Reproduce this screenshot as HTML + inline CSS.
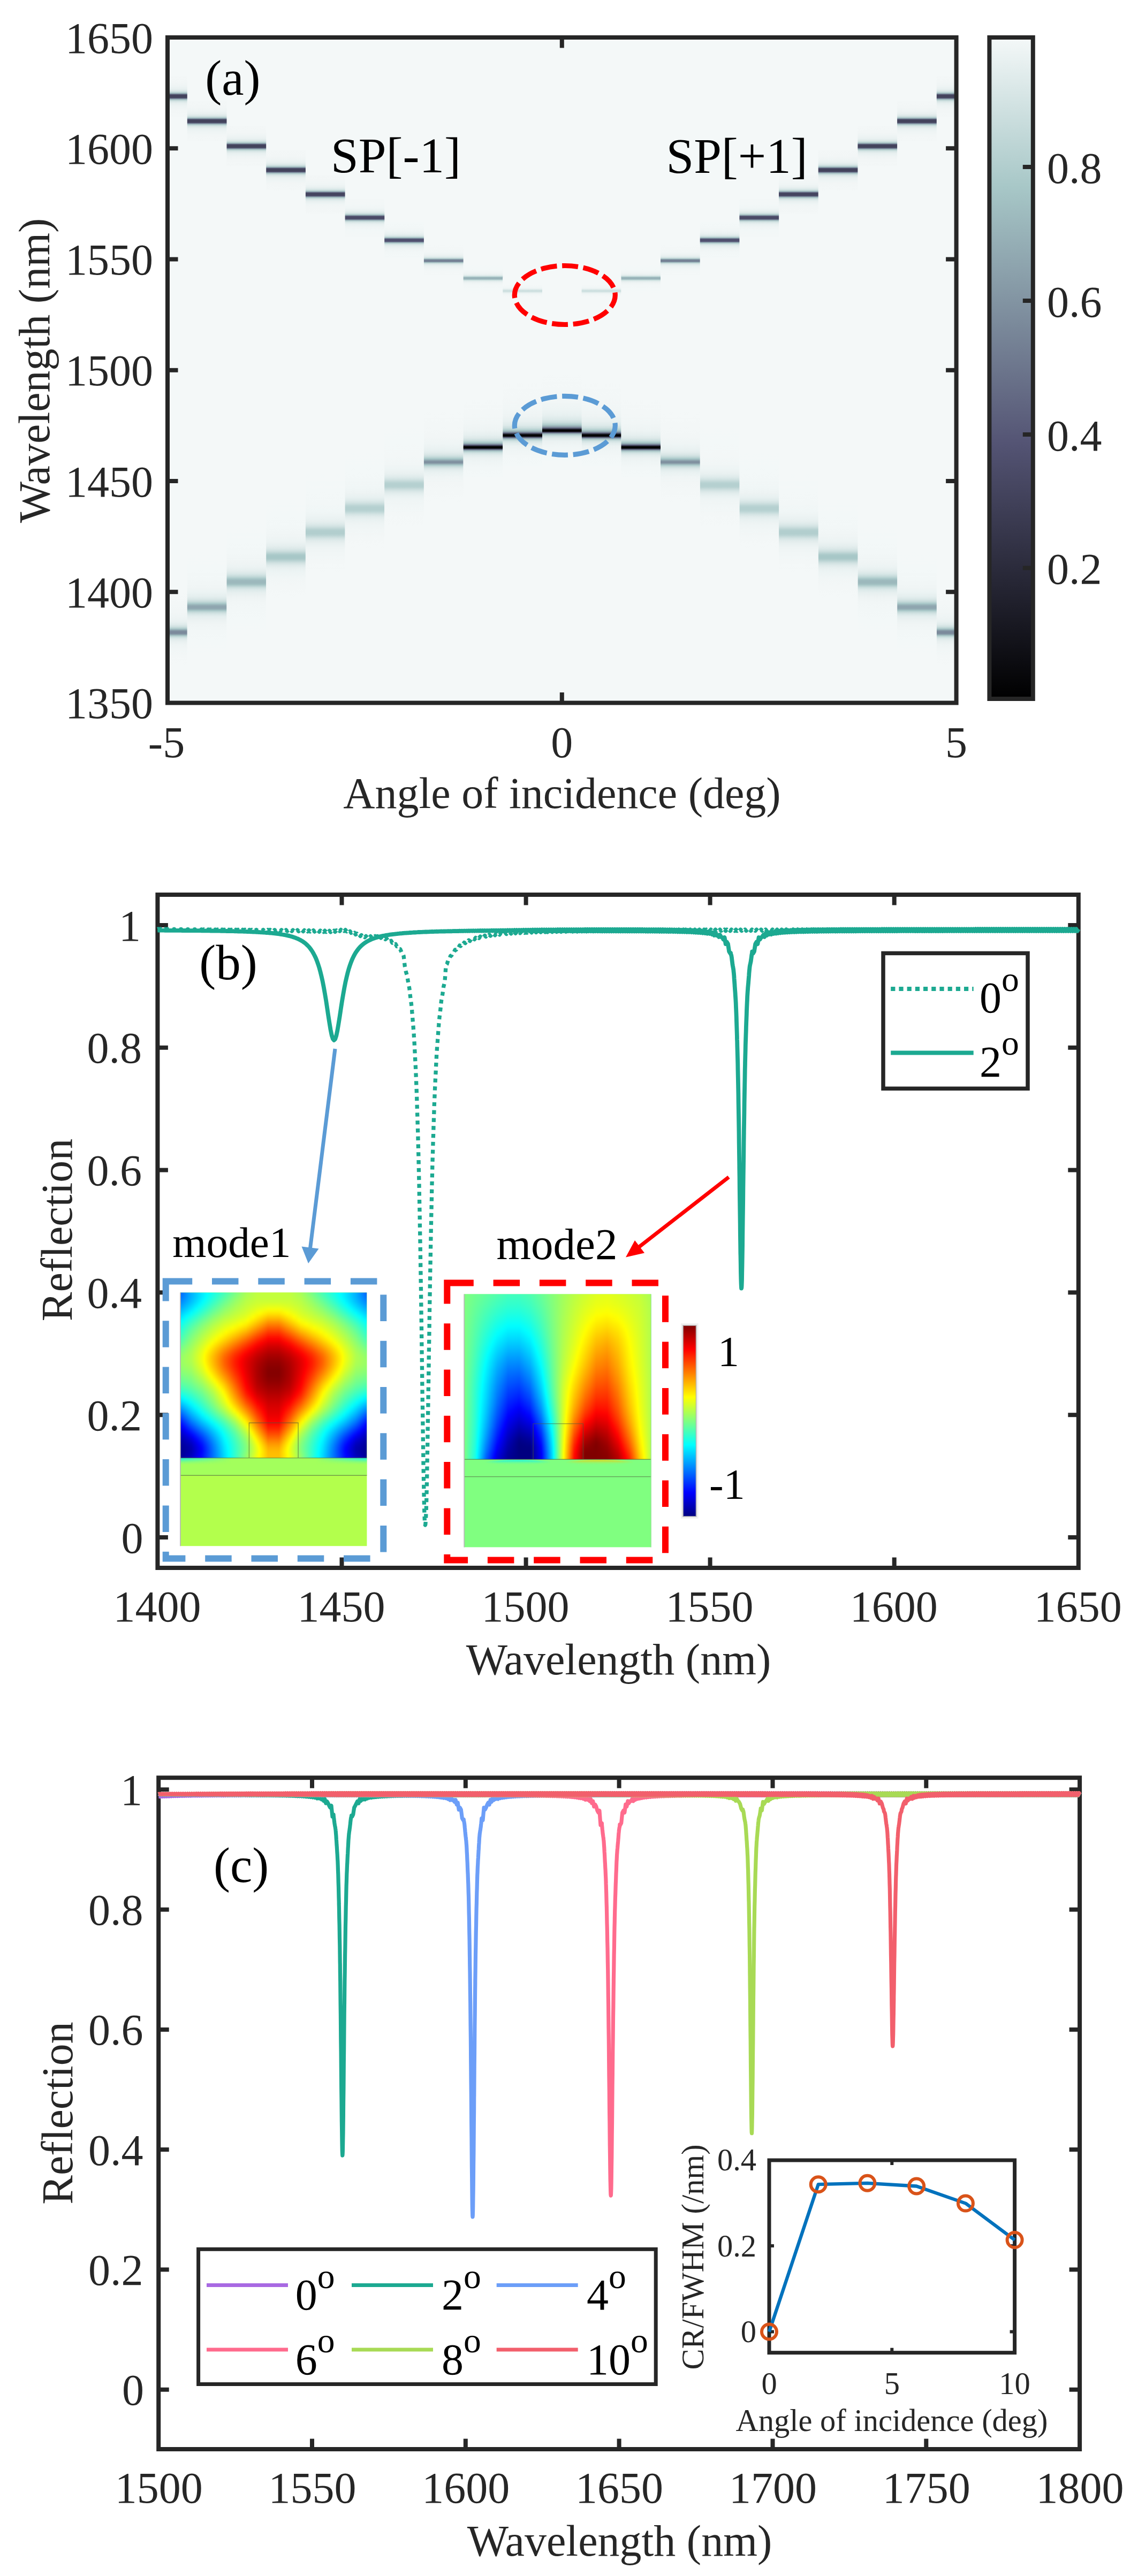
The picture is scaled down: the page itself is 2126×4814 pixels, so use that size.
<!DOCTYPE html>
<html lang="en"><head><meta charset="utf-8"><title>Figure</title>
<style>html,body{margin:0;padding:0;background:#fff}svg{display:block}text{font-family:"Liberation Serif",serif}</style></head>
<body>
<svg width="2126" height="4814" viewBox="0 0 2126 4814">
<defs>
<linearGradient id="h1" gradientUnits="userSpaceOnUse" x1="0" y1="142.2" x2="0" y2="217.8"><stop offset="0.000" stop-color="#f3f7f7"/><stop offset="0.150" stop-color="#f2f6f6"/><stop offset="0.250" stop-color="#eef4f4"/><stop offset="0.320" stop-color="#e8f0f0"/><stop offset="0.370" stop-color="#dae7e7"/><stop offset="0.405" stop-color="#bdd5d5"/><stop offset="0.430" stop-color="#95aeb5"/><stop offset="0.450" stop-color="#656c85"/><stop offset="0.465" stop-color="#454560"/><stop offset="0.477" stop-color="#43435c"/><stop offset="0.490" stop-color="#43435c"/><stop offset="0.500" stop-color="#43435c"/><stop offset="0.510" stop-color="#43435c"/><stop offset="0.522" stop-color="#43435c"/><stop offset="0.535" stop-color="#454560"/><stop offset="0.550" stop-color="#656c85"/><stop offset="0.570" stop-color="#95aeb5"/><stop offset="0.595" stop-color="#bdd5d5"/><stop offset="0.630" stop-color="#dae7e7"/><stop offset="0.680" stop-color="#e8f0f0"/><stop offset="0.750" stop-color="#eef4f4"/><stop offset="0.850" stop-color="#f2f6f6"/><stop offset="1.000" stop-color="#f3f7f7"/></linearGradient>
<linearGradient id="h2" gradientUnits="userSpaceOnUse" x1="0" y1="1105" x2="0" y2="1245"><stop offset="0.000" stop-color="#f4f8f8"/><stop offset="0.165" stop-color="#f3f7f7"/><stop offset="0.275" stop-color="#f1f6f6"/><stop offset="0.352" stop-color="#eef4f4"/><stop offset="0.407" stop-color="#e9f1f1"/><stop offset="0.446" stop-color="#deeaea"/><stop offset="0.473" stop-color="#cee0e0"/><stop offset="0.495" stop-color="#b4cfcf"/><stop offset="0.511" stop-color="#9ab5ba"/><stop offset="0.525" stop-color="#8598a5"/><stop offset="0.539" stop-color="#7b8a9b"/><stop offset="0.550" stop-color="#7b8a9b"/><stop offset="0.559" stop-color="#7b8a9b"/><stop offset="0.570" stop-color="#8294a2"/><stop offset="0.582" stop-color="#96b0b6"/><stop offset="0.595" stop-color="#b0cccc"/><stop offset="0.613" stop-color="#ccdfdf"/><stop offset="0.635" stop-color="#deeaea"/><stop offset="0.667" stop-color="#e8f0f0"/><stop offset="0.712" stop-color="#eef4f4"/><stop offset="0.775" stop-color="#f1f6f6"/><stop offset="0.865" stop-color="#f3f7f7"/><stop offset="1.000" stop-color="#f4f8f8"/></linearGradient>
<linearGradient id="h3" gradientUnits="userSpaceOnUse" x1="0" y1="188.6" x2="0" y2="264.2"><stop offset="0.000" stop-color="#f3f7f7"/><stop offset="0.150" stop-color="#f2f6f6"/><stop offset="0.250" stop-color="#eef4f4"/><stop offset="0.320" stop-color="#e8f0f0"/><stop offset="0.370" stop-color="#dae7e7"/><stop offset="0.405" stop-color="#bdd5d5"/><stop offset="0.430" stop-color="#95aeb5"/><stop offset="0.450" stop-color="#656c85"/><stop offset="0.465" stop-color="#454560"/><stop offset="0.477" stop-color="#43435c"/><stop offset="0.490" stop-color="#43435c"/><stop offset="0.500" stop-color="#43435c"/><stop offset="0.510" stop-color="#43435c"/><stop offset="0.522" stop-color="#43435c"/><stop offset="0.535" stop-color="#454560"/><stop offset="0.550" stop-color="#656c85"/><stop offset="0.570" stop-color="#95aeb5"/><stop offset="0.595" stop-color="#bdd5d5"/><stop offset="0.630" stop-color="#dae7e7"/><stop offset="0.680" stop-color="#e8f0f0"/><stop offset="0.750" stop-color="#eef4f4"/><stop offset="0.850" stop-color="#f2f6f6"/><stop offset="1.000" stop-color="#f3f7f7"/></linearGradient>
<linearGradient id="h4" gradientUnits="userSpaceOnUse" x1="0" y1="1029.8" x2="0" y2="1225.8"><stop offset="0.000" stop-color="#f4f8f8"/><stop offset="0.161" stop-color="#f3f8f8"/><stop offset="0.268" stop-color="#f2f7f7"/><stop offset="0.343" stop-color="#f0f5f5"/><stop offset="0.396" stop-color="#ebf3f3"/><stop offset="0.434" stop-color="#e4eeee"/><stop offset="0.461" stop-color="#d8e6e6"/><stop offset="0.482" stop-color="#c5dada"/><stop offset="0.498" stop-color="#adcbcb"/><stop offset="0.512" stop-color="#9ab5ba"/><stop offset="0.525" stop-color="#8fa6af"/><stop offset="0.536" stop-color="#8fa5af"/><stop offset="0.545" stop-color="#8fa6af"/><stop offset="0.557" stop-color="#99b3b9"/><stop offset="0.568" stop-color="#aac9c9"/><stop offset="0.582" stop-color="#c4d9d9"/><stop offset="0.601" stop-color="#d7e6e6"/><stop offset="0.624" stop-color="#e4eeee"/><stop offset="0.656" stop-color="#ebf2f2"/><stop offset="0.703" stop-color="#f0f5f5"/><stop offset="0.768" stop-color="#f2f7f7"/><stop offset="0.861" stop-color="#f3f8f8"/><stop offset="1.000" stop-color="#f4f8f8"/></linearGradient>
<linearGradient id="h5" gradientUnits="userSpaceOnUse" x1="0" y1="235.4" x2="0" y2="311"><stop offset="0.000" stop-color="#f3f7f7"/><stop offset="0.150" stop-color="#f2f6f6"/><stop offset="0.250" stop-color="#eef4f4"/><stop offset="0.320" stop-color="#e8f0f0"/><stop offset="0.370" stop-color="#dae7e7"/><stop offset="0.405" stop-color="#bdd5d5"/><stop offset="0.430" stop-color="#95aeb5"/><stop offset="0.450" stop-color="#656c85"/><stop offset="0.465" stop-color="#454560"/><stop offset="0.477" stop-color="#43435c"/><stop offset="0.490" stop-color="#43435c"/><stop offset="0.500" stop-color="#43435c"/><stop offset="0.510" stop-color="#43435c"/><stop offset="0.522" stop-color="#43435c"/><stop offset="0.535" stop-color="#454560"/><stop offset="0.550" stop-color="#656c85"/><stop offset="0.570" stop-color="#95aeb5"/><stop offset="0.595" stop-color="#bdd5d5"/><stop offset="0.630" stop-color="#dae7e7"/><stop offset="0.680" stop-color="#e8f0f0"/><stop offset="0.750" stop-color="#eef4f4"/><stop offset="0.850" stop-color="#f2f6f6"/><stop offset="1.000" stop-color="#f3f7f7"/></linearGradient>
<linearGradient id="h6" gradientUnits="userSpaceOnUse" x1="0" y1="977.6" x2="0" y2="1192.6"><stop offset="0.000" stop-color="#f4f8f8"/><stop offset="0.153" stop-color="#f3f8f8"/><stop offset="0.256" stop-color="#f2f7f7"/><stop offset="0.327" stop-color="#f0f5f5"/><stop offset="0.379" stop-color="#ecf3f3"/><stop offset="0.414" stop-color="#e5eeee"/><stop offset="0.440" stop-color="#d9e7e7"/><stop offset="0.460" stop-color="#c8dcdc"/><stop offset="0.476" stop-color="#b3cfcf"/><stop offset="0.489" stop-color="#a3c1c3"/><stop offset="0.501" stop-color="#9cb8bc"/><stop offset="0.512" stop-color="#9cb8bc"/><stop offset="0.521" stop-color="#9cb8bc"/><stop offset="0.534" stop-color="#a3c2c3"/><stop offset="0.546" stop-color="#b6d0d0"/><stop offset="0.560" stop-color="#cbdede"/><stop offset="0.580" stop-color="#dce9e9"/><stop offset="0.604" stop-color="#e6efef"/><stop offset="0.639" stop-color="#edf3f3"/><stop offset="0.687" stop-color="#f1f6f6"/><stop offset="0.756" stop-color="#f2f7f7"/><stop offset="0.853" stop-color="#f3f8f8"/><stop offset="1.000" stop-color="#f4f8f8"/></linearGradient>
<linearGradient id="h7" gradientUnits="userSpaceOnUse" x1="0" y1="280" x2="0" y2="355.6"><stop offset="0.000" stop-color="#f3f7f7"/><stop offset="0.150" stop-color="#f2f6f6"/><stop offset="0.250" stop-color="#eef4f4"/><stop offset="0.320" stop-color="#e8f0f0"/><stop offset="0.370" stop-color="#dae7e7"/><stop offset="0.405" stop-color="#bdd5d5"/><stop offset="0.430" stop-color="#95aeb5"/><stop offset="0.450" stop-color="#656c85"/><stop offset="0.465" stop-color="#454560"/><stop offset="0.477" stop-color="#43435c"/><stop offset="0.490" stop-color="#43435c"/><stop offset="0.500" stop-color="#43435c"/><stop offset="0.510" stop-color="#43435c"/><stop offset="0.522" stop-color="#43435c"/><stop offset="0.535" stop-color="#454560"/><stop offset="0.550" stop-color="#656c85"/><stop offset="0.570" stop-color="#95aeb5"/><stop offset="0.595" stop-color="#bdd5d5"/><stop offset="0.630" stop-color="#dae7e7"/><stop offset="0.680" stop-color="#e8f0f0"/><stop offset="0.750" stop-color="#eef4f4"/><stop offset="0.850" stop-color="#f2f6f6"/><stop offset="1.000" stop-color="#f3f7f7"/></linearGradient>
<linearGradient id="h8" gradientUnits="userSpaceOnUse" x1="0" y1="931" x2="0" y2="1151"><stop offset="0.000" stop-color="#f4f8f8"/><stop offset="0.150" stop-color="#f3f8f8"/><stop offset="0.250" stop-color="#f2f7f7"/><stop offset="0.320" stop-color="#f0f5f5"/><stop offset="0.370" stop-color="#ecf3f3"/><stop offset="0.405" stop-color="#e5eeee"/><stop offset="0.430" stop-color="#dbe8e8"/><stop offset="0.450" stop-color="#ccdede"/><stop offset="0.465" stop-color="#bcd4d4"/><stop offset="0.477" stop-color="#aecccc"/><stop offset="0.490" stop-color="#a7c7c7"/><stop offset="0.500" stop-color="#a7c7c7"/><stop offset="0.510" stop-color="#a7c7c7"/><stop offset="0.522" stop-color="#b0cccc"/><stop offset="0.535" stop-color="#bfd6d6"/><stop offset="0.550" stop-color="#d0e1e1"/><stop offset="0.570" stop-color="#deeaea"/><stop offset="0.595" stop-color="#e8f0f0"/><stop offset="0.630" stop-color="#edf4f4"/><stop offset="0.680" stop-color="#f1f6f6"/><stop offset="0.750" stop-color="#f3f7f7"/><stop offset="0.850" stop-color="#f4f8f8"/><stop offset="1.000" stop-color="#f4f8f8"/></linearGradient>
<linearGradient id="h9" gradientUnits="userSpaceOnUse" x1="0" y1="326.8" x2="0" y2="399.6"><stop offset="0.000" stop-color="#f3f7f7"/><stop offset="0.150" stop-color="#f2f6f6"/><stop offset="0.250" stop-color="#eff5f5"/><stop offset="0.320" stop-color="#e8f0f0"/><stop offset="0.370" stop-color="#dae8e8"/><stop offset="0.405" stop-color="#bfd6d6"/><stop offset="0.430" stop-color="#97b0b7"/><stop offset="0.450" stop-color="#686f88"/><stop offset="0.465" stop-color="#484863"/><stop offset="0.478" stop-color="#454560"/><stop offset="0.490" stop-color="#454560"/><stop offset="0.500" stop-color="#454560"/><stop offset="0.510" stop-color="#454560"/><stop offset="0.522" stop-color="#454560"/><stop offset="0.535" stop-color="#484863"/><stop offset="0.550" stop-color="#686f88"/><stop offset="0.570" stop-color="#97b0b7"/><stop offset="0.595" stop-color="#bfd6d6"/><stop offset="0.630" stop-color="#dae8e8"/><stop offset="0.680" stop-color="#e8f0f0"/><stop offset="0.750" stop-color="#eff5f5"/><stop offset="0.850" stop-color="#f2f6f6"/><stop offset="1.000" stop-color="#f3f7f7"/></linearGradient>
<linearGradient id="h10" gradientUnits="userSpaceOnUse" x1="0" y1="885" x2="0" y2="1105"><stop offset="0.000" stop-color="#f4f8f8"/><stop offset="0.150" stop-color="#f3f8f8"/><stop offset="0.250" stop-color="#f2f7f7"/><stop offset="0.320" stop-color="#f0f6f6"/><stop offset="0.370" stop-color="#ecf3f3"/><stop offset="0.405" stop-color="#e6efef"/><stop offset="0.430" stop-color="#dde9e9"/><stop offset="0.450" stop-color="#d0e1e1"/><stop offset="0.465" stop-color="#c2d8d8"/><stop offset="0.477" stop-color="#b7d1d1"/><stop offset="0.490" stop-color="#b2cece"/><stop offset="0.500" stop-color="#b2cece"/><stop offset="0.510" stop-color="#b2cece"/><stop offset="0.522" stop-color="#b8d2d2"/><stop offset="0.535" stop-color="#c5dada"/><stop offset="0.550" stop-color="#d3e3e3"/><stop offset="0.570" stop-color="#e0ebeb"/><stop offset="0.595" stop-color="#e8f0f0"/><stop offset="0.630" stop-color="#eef4f4"/><stop offset="0.680" stop-color="#f1f6f6"/><stop offset="0.750" stop-color="#f3f7f7"/><stop offset="0.850" stop-color="#f4f8f8"/><stop offset="1.000" stop-color="#f4f8f8"/></linearGradient>
<linearGradient id="h11" gradientUnits="userSpaceOnUse" x1="0" y1="371.8" x2="0" y2="441.8"><stop offset="0.000" stop-color="#f3f7f7"/><stop offset="0.150" stop-color="#f2f7f7"/><stop offset="0.250" stop-color="#eff5f5"/><stop offset="0.320" stop-color="#e9f1f1"/><stop offset="0.370" stop-color="#dce9e9"/><stop offset="0.405" stop-color="#c2d8d8"/><stop offset="0.430" stop-color="#9cb7bb"/><stop offset="0.450" stop-color="#6f7a8f"/><stop offset="0.465" stop-color="#4e4e6c"/><stop offset="0.477" stop-color="#4a4a66"/><stop offset="0.490" stop-color="#4a4a66"/><stop offset="0.500" stop-color="#4a4a66"/><stop offset="0.510" stop-color="#4a4a66"/><stop offset="0.523" stop-color="#4a4a66"/><stop offset="0.535" stop-color="#4e4e6c"/><stop offset="0.550" stop-color="#6f7a8f"/><stop offset="0.570" stop-color="#9cb7bb"/><stop offset="0.595" stop-color="#c2d8d8"/><stop offset="0.630" stop-color="#dce9e9"/><stop offset="0.680" stop-color="#e9f1f1"/><stop offset="0.750" stop-color="#eff5f5"/><stop offset="0.850" stop-color="#f2f7f7"/><stop offset="1.000" stop-color="#f3f7f7"/></linearGradient>
<linearGradient id="h12" gradientUnits="userSpaceOnUse" x1="0" y1="840.5" x2="0" y2="1060.5"><stop offset="0.000" stop-color="#f4f8f8"/><stop offset="0.150" stop-color="#f3f8f8"/><stop offset="0.250" stop-color="#f2f7f7"/><stop offset="0.320" stop-color="#f0f6f6"/><stop offset="0.370" stop-color="#edf3f3"/><stop offset="0.405" stop-color="#e7f0f0"/><stop offset="0.430" stop-color="#deeaea"/><stop offset="0.450" stop-color="#d2e2e2"/><stop offset="0.465" stop-color="#c5dada"/><stop offset="0.477" stop-color="#bad3d3"/><stop offset="0.490" stop-color="#b5d0d0"/><stop offset="0.500" stop-color="#b5d0d0"/><stop offset="0.510" stop-color="#b5d0d0"/><stop offset="0.522" stop-color="#bbd4d4"/><stop offset="0.535" stop-color="#c7dcdc"/><stop offset="0.550" stop-color="#d5e4e4"/><stop offset="0.570" stop-color="#e1ecec"/><stop offset="0.595" stop-color="#e9f1f1"/><stop offset="0.630" stop-color="#eef4f4"/><stop offset="0.680" stop-color="#f1f6f6"/><stop offset="0.750" stop-color="#f3f7f7"/><stop offset="0.850" stop-color="#f4f8f8"/><stop offset="1.000" stop-color="#f4f8f8"/></linearGradient>
<linearGradient id="h13" gradientUnits="userSpaceOnUse" x1="0" y1="415.4" x2="0" y2="482.6"><stop offset="0.000" stop-color="#f3f8f8"/><stop offset="0.150" stop-color="#f2f7f7"/><stop offset="0.250" stop-color="#eff5f5"/><stop offset="0.320" stop-color="#e9f1f1"/><stop offset="0.370" stop-color="#deeaea"/><stop offset="0.405" stop-color="#c6dbdb"/><stop offset="0.430" stop-color="#a1bfc1"/><stop offset="0.450" stop-color="#798799"/><stop offset="0.465" stop-color="#575877"/><stop offset="0.477" stop-color="#50506f"/><stop offset="0.490" stop-color="#50506f"/><stop offset="0.500" stop-color="#50506f"/><stop offset="0.510" stop-color="#50506f"/><stop offset="0.522" stop-color="#50506f"/><stop offset="0.535" stop-color="#575877"/><stop offset="0.550" stop-color="#798799"/><stop offset="0.570" stop-color="#a1bfc1"/><stop offset="0.595" stop-color="#c6dbdb"/><stop offset="0.630" stop-color="#deeaea"/><stop offset="0.680" stop-color="#e9f1f1"/><stop offset="0.750" stop-color="#eff5f5"/><stop offset="0.850" stop-color="#f2f7f7"/><stop offset="1.000" stop-color="#f3f8f8"/></linearGradient>
<linearGradient id="h14" gradientUnits="userSpaceOnUse" x1="0" y1="796.5" x2="0" y2="1016.5"><stop offset="0.000" stop-color="#f4f8f8"/><stop offset="0.150" stop-color="#f3f8f8"/><stop offset="0.250" stop-color="#f3f7f7"/><stop offset="0.320" stop-color="#f1f6f6"/><stop offset="0.370" stop-color="#edf4f4"/><stop offset="0.405" stop-color="#e8f0f0"/><stop offset="0.430" stop-color="#dfebeb"/><stop offset="0.450" stop-color="#d3e3e3"/><stop offset="0.465" stop-color="#c6dbdb"/><stop offset="0.477" stop-color="#bbd4d4"/><stop offset="0.490" stop-color="#b5d0d0"/><stop offset="0.500" stop-color="#b5d0d0"/><stop offset="0.510" stop-color="#b5d0d0"/><stop offset="0.522" stop-color="#bcd4d4"/><stop offset="0.535" stop-color="#c9dddd"/><stop offset="0.550" stop-color="#d7e5e5"/><stop offset="0.570" stop-color="#e2eded"/><stop offset="0.595" stop-color="#eaf2f2"/><stop offset="0.630" stop-color="#eff5f5"/><stop offset="0.680" stop-color="#f1f6f6"/><stop offset="0.750" stop-color="#f3f7f7"/><stop offset="0.850" stop-color="#f4f8f8"/><stop offset="1.000" stop-color="#f4f8f8"/></linearGradient>
<linearGradient id="h15" gradientUnits="userSpaceOnUse" x1="0" y1="456.4" x2="0" y2="518"><stop offset="0.000" stop-color="#f4f8f8"/><stop offset="0.150" stop-color="#f3f7f7"/><stop offset="0.250" stop-color="#f1f6f6"/><stop offset="0.320" stop-color="#edf3f3"/><stop offset="0.370" stop-color="#e5efef"/><stop offset="0.405" stop-color="#d7e5e5"/><stop offset="0.430" stop-color="#bed5d5"/><stop offset="0.450" stop-color="#9cb7bc"/><stop offset="0.465" stop-color="#8193a1"/><stop offset="0.478" stop-color="#748194"/><stop offset="0.490" stop-color="#748094"/><stop offset="0.500" stop-color="#748094"/><stop offset="0.510" stop-color="#748094"/><stop offset="0.523" stop-color="#748194"/><stop offset="0.535" stop-color="#8193a1"/><stop offset="0.550" stop-color="#9cb7bc"/><stop offset="0.570" stop-color="#bed5d5"/><stop offset="0.595" stop-color="#d7e5e5"/><stop offset="0.630" stop-color="#e5efef"/><stop offset="0.680" stop-color="#edf3f3"/><stop offset="0.750" stop-color="#f1f6f6"/><stop offset="0.850" stop-color="#f3f7f7"/><stop offset="1.000" stop-color="#f4f8f8"/></linearGradient>
<linearGradient id="h16" gradientUnits="userSpaceOnUse" x1="0" y1="765.8" x2="0" y2="940.8"><stop offset="0.000" stop-color="#f4f8f8"/><stop offset="0.168" stop-color="#f3f7f7"/><stop offset="0.280" stop-color="#f2f6f6"/><stop offset="0.358" stop-color="#eff5f5"/><stop offset="0.414" stop-color="#eaf2f2"/><stop offset="0.454" stop-color="#e3eded"/><stop offset="0.482" stop-color="#d7e5e5"/><stop offset="0.504" stop-color="#c4d9d9"/><stop offset="0.521" stop-color="#abcaca"/><stop offset="0.535" stop-color="#97b1b7"/><stop offset="0.549" stop-color="#8496a3"/><stop offset="0.560" stop-color="#7d8d9d"/><stop offset="0.569" stop-color="#8496a3"/><stop offset="0.580" stop-color="#97b1b7"/><stop offset="0.591" stop-color="#abcaca"/><stop offset="0.604" stop-color="#c4d9d9"/><stop offset="0.622" stop-color="#d7e5e5"/><stop offset="0.644" stop-color="#e3eded"/><stop offset="0.674" stop-color="#eaf2f2"/><stop offset="0.718" stop-color="#eff5f5"/><stop offset="0.780" stop-color="#f2f6f6"/><stop offset="0.868" stop-color="#f3f7f7"/><stop offset="1.000" stop-color="#f4f8f8"/></linearGradient>
<linearGradient id="h17" gradientUnits="userSpaceOnUse" x1="0" y1="492" x2="0" y2="548"><stop offset="0.000" stop-color="#f4f8f8"/><stop offset="0.150" stop-color="#f3f8f8"/><stop offset="0.250" stop-color="#f2f7f7"/><stop offset="0.320" stop-color="#f0f5f5"/><stop offset="0.370" stop-color="#ebf2f2"/><stop offset="0.405" stop-color="#e1ecec"/><stop offset="0.430" stop-color="#d1e2e2"/><stop offset="0.450" stop-color="#b6d1d1"/><stop offset="0.465" stop-color="#a0bdc0"/><stop offset="0.477" stop-color="#98b2b8"/><stop offset="0.490" stop-color="#98b2b8"/><stop offset="0.500" stop-color="#98b2b8"/><stop offset="0.510" stop-color="#98b2b8"/><stop offset="0.523" stop-color="#98b2b8"/><stop offset="0.535" stop-color="#a0bdc0"/><stop offset="0.550" stop-color="#b6d1d1"/><stop offset="0.570" stop-color="#d1e2e2"/><stop offset="0.595" stop-color="#e1ecec"/><stop offset="0.630" stop-color="#ebf2f2"/><stop offset="0.680" stop-color="#f0f5f5"/><stop offset="0.750" stop-color="#f2f7f7"/><stop offset="0.850" stop-color="#f3f8f8"/><stop offset="1.000" stop-color="#f4f8f8"/></linearGradient>
<linearGradient id="h18" gradientUnits="userSpaceOnUse" x1="0" y1="745" x2="0" y2="892"><stop offset="0.000" stop-color="#f4f8f8"/><stop offset="0.186" stop-color="#f3f7f7"/><stop offset="0.310" stop-color="#f1f6f6"/><stop offset="0.396" stop-color="#eef4f4"/><stop offset="0.458" stop-color="#e7f0f0"/><stop offset="0.501" stop-color="#dde9e9"/><stop offset="0.532" stop-color="#cbdede"/><stop offset="0.557" stop-color="#abcaca"/><stop offset="0.576" stop-color="#8ba0ab"/><stop offset="0.591" stop-color="#595b79"/><stop offset="0.607" stop-color="#0c0c10"/><stop offset="0.619" stop-color="#000000"/><stop offset="0.627" stop-color="#000000"/><stop offset="0.636" stop-color="#292938"/><stop offset="0.646" stop-color="#626882"/><stop offset="0.657" stop-color="#91a8b1"/><stop offset="0.672" stop-color="#b5d0d0"/><stop offset="0.691" stop-color="#d1e2e2"/><stop offset="0.718" stop-color="#e1ecec"/><stop offset="0.756" stop-color="#ebf2f2"/><stop offset="0.810" stop-color="#eff5f5"/><stop offset="0.886" stop-color="#f2f7f7"/><stop offset="1.000" stop-color="#f3f8f8"/></linearGradient>
<linearGradient id="h19" gradientUnits="userSpaceOnUse" x1="0" y1="518.5" x2="0" y2="568.9"><stop offset="0.000" stop-color="#f4f8f8"/><stop offset="0.150" stop-color="#f4f8f8"/><stop offset="0.250" stop-color="#f4f8f8"/><stop offset="0.320" stop-color="#f3f7f7"/><stop offset="0.370" stop-color="#f1f6f6"/><stop offset="0.405" stop-color="#edf4f4"/><stop offset="0.430" stop-color="#e8f0f0"/><stop offset="0.450" stop-color="#deeaea"/><stop offset="0.465" stop-color="#d4e4e4"/><stop offset="0.477" stop-color="#cee0e0"/><stop offset="0.490" stop-color="#cee0e0"/><stop offset="0.500" stop-color="#cee0e0"/><stop offset="0.510" stop-color="#cee0e0"/><stop offset="0.522" stop-color="#cee0e0"/><stop offset="0.535" stop-color="#d4e4e4"/><stop offset="0.550" stop-color="#deeaea"/><stop offset="0.570" stop-color="#e8f0f0"/><stop offset="0.595" stop-color="#edf4f4"/><stop offset="0.630" stop-color="#f1f6f6"/><stop offset="0.680" stop-color="#f3f7f7"/><stop offset="0.750" stop-color="#f4f8f8"/><stop offset="0.850" stop-color="#f4f8f8"/><stop offset="1.000" stop-color="#f4f8f8"/></linearGradient>
<linearGradient id="h20" gradientUnits="userSpaceOnUse" x1="0" y1="712.9" x2="0" y2="869.7"><stop offset="0.000" stop-color="#f4f8f8"/><stop offset="0.193" stop-color="#f3f7f7"/><stop offset="0.321" stop-color="#f1f6f6"/><stop offset="0.411" stop-color="#eef4f4"/><stop offset="0.476" stop-color="#e8f0f0"/><stop offset="0.521" stop-color="#deeaea"/><stop offset="0.553" stop-color="#cddfdf"/><stop offset="0.579" stop-color="#b0cdcd"/><stop offset="0.598" stop-color="#91a8b0"/><stop offset="0.614" stop-color="#626882"/><stop offset="0.630" stop-color="#111118"/><stop offset="0.643" stop-color="#000000"/><stop offset="0.650" stop-color="#000000"/><stop offset="0.659" stop-color="#292938"/><stop offset="0.668" stop-color="#626882"/><stop offset="0.679" stop-color="#91a8b1"/><stop offset="0.693" stop-color="#b5d0d0"/><stop offset="0.711" stop-color="#d1e2e2"/><stop offset="0.736" stop-color="#e1ecec"/><stop offset="0.771" stop-color="#ebf2f2"/><stop offset="0.821" stop-color="#eff5f5"/><stop offset="0.893" stop-color="#f2f7f7"/><stop offset="1.000" stop-color="#f3f8f8"/></linearGradient>
<linearGradient id="h21" gradientUnits="userSpaceOnUse" x1="0" y1="694.7" x2="0" y2="860.7"><stop offset="0.000" stop-color="#f4f8f8"/><stop offset="0.199" stop-color="#f3f7f7"/><stop offset="0.331" stop-color="#f1f6f6"/><stop offset="0.424" stop-color="#edf4f4"/><stop offset="0.490" stop-color="#e7f0f0"/><stop offset="0.537" stop-color="#dce9e9"/><stop offset="0.570" stop-color="#cbdede"/><stop offset="0.596" stop-color="#afcccc"/><stop offset="0.616" stop-color="#92a9b1"/><stop offset="0.633" stop-color="#686f88"/><stop offset="0.649" stop-color="#16161f"/><stop offset="0.663" stop-color="#000000"/><stop offset="0.669" stop-color="#000000"/><stop offset="0.678" stop-color="#292938"/><stop offset="0.686" stop-color="#626882"/><stop offset="0.696" stop-color="#91a8b1"/><stop offset="0.710" stop-color="#b5d0d0"/><stop offset="0.727" stop-color="#d1e2e2"/><stop offset="0.750" stop-color="#e1ecec"/><stop offset="0.784" stop-color="#ebf2f2"/><stop offset="0.831" stop-color="#eff5f5"/><stop offset="0.899" stop-color="#f2f7f7"/><stop offset="1.000" stop-color="#f3f8f8"/></linearGradient>
<linearGradient id="cb" x1="0" y1="1" x2="0" y2="0"><stop offset="0.0000" stop-color="#000000"/><stop offset="0.3866" stop-color="#545474"/><stop offset="0.7732" stop-color="#a7c7c7"/><stop offset="1.0000" stop-color="#f4f8f8"/></linearGradient>
<filter id="vb" color-interpolation-filters="sRGB" x="0" y="-5%" width="100%" height="110%"><feGaussianBlur stdDeviation="0 3.2"/></filter>
<clipPath id="cla"><rect x="336.7" y="2415.5" width="348.7" height="309.1"/></clipPath>
<linearGradient id="fa0"><stop offset="0" stop-color="#0061ff"/><stop offset="0.022" stop-color="#0080ff"/><stop offset="0.059" stop-color="#00b2ff"/><stop offset="0.118" stop-color="#00eaff"/><stop offset="0.146" stop-color="#00ffff"/><stop offset="0.176" stop-color="#16ffe9"/><stop offset="0.235" stop-color="#41ffbe"/><stop offset="0.294" stop-color="#74ff8b"/><stop offset="0.308" stop-color="#80ff80"/><stop offset="0.353" stop-color="#a5ff5a"/><stop offset="0.412" stop-color="#c0ff3f"/><stop offset="0.471" stop-color="#c7ff38"/><stop offset="0.529" stop-color="#c7ff38"/><stop offset="0.588" stop-color="#c0ff3f"/><stop offset="0.647" stop-color="#a5ff5a"/><stop offset="0.692" stop-color="#80ff80"/><stop offset="0.706" stop-color="#74ff8b"/><stop offset="0.765" stop-color="#41ffbe"/><stop offset="0.824" stop-color="#16ffe9"/><stop offset="0.854" stop-color="#00ffff"/><stop offset="0.882" stop-color="#00eaff"/><stop offset="0.941" stop-color="#00b2ff"/><stop offset="0.978" stop-color="#0080ff"/><stop offset="1" stop-color="#0061ff"/></linearGradient>
<linearGradient id="fa1"><stop offset="0" stop-color="#0061ff"/><stop offset="0.022" stop-color="#0080ff"/><stop offset="0.059" stop-color="#00b2ff"/><stop offset="0.118" stop-color="#00eaff"/><stop offset="0.146" stop-color="#00ffff"/><stop offset="0.176" stop-color="#16ffe9"/><stop offset="0.235" stop-color="#41ffbe"/><stop offset="0.294" stop-color="#74ff8b"/><stop offset="0.308" stop-color="#80ff80"/><stop offset="0.353" stop-color="#a5ff5a"/><stop offset="0.412" stop-color="#c0ff3f"/><stop offset="0.471" stop-color="#c7ff38"/><stop offset="0.529" stop-color="#c7ff38"/><stop offset="0.588" stop-color="#c0ff3f"/><stop offset="0.647" stop-color="#a5ff5a"/><stop offset="0.692" stop-color="#80ff80"/><stop offset="0.706" stop-color="#74ff8b"/><stop offset="0.765" stop-color="#41ffbe"/><stop offset="0.824" stop-color="#16ffe9"/><stop offset="0.854" stop-color="#00ffff"/><stop offset="0.882" stop-color="#00eaff"/><stop offset="0.941" stop-color="#00b2ff"/><stop offset="0.978" stop-color="#0080ff"/><stop offset="1" stop-color="#0061ff"/></linearGradient>
<linearGradient id="fa2"><stop offset="0" stop-color="#0066ff"/><stop offset="0.02" stop-color="#0080ff"/><stop offset="0.059" stop-color="#00b1ff"/><stop offset="0.118" stop-color="#00eaff"/><stop offset="0.144" stop-color="#00ffff"/><stop offset="0.176" stop-color="#1affe5"/><stop offset="0.235" stop-color="#49ffb6"/><stop offset="0.294" stop-color="#7cff83"/><stop offset="0.299" stop-color="#80ff80"/><stop offset="0.353" stop-color="#aaff55"/><stop offset="0.412" stop-color="#c0ff3f"/><stop offset="0.471" stop-color="#c3ff3c"/><stop offset="0.529" stop-color="#c3ff3c"/><stop offset="0.588" stop-color="#c0ff3f"/><stop offset="0.647" stop-color="#aaff55"/><stop offset="0.701" stop-color="#80ff80"/><stop offset="0.706" stop-color="#7cff83"/><stop offset="0.765" stop-color="#49ffb6"/><stop offset="0.824" stop-color="#1affe5"/><stop offset="0.856" stop-color="#00ffff"/><stop offset="0.882" stop-color="#00eaff"/><stop offset="0.941" stop-color="#00b1ff"/><stop offset="0.98" stop-color="#0080ff"/><stop offset="1" stop-color="#0066ff"/></linearGradient>
<linearGradient id="fa3"><stop offset="0" stop-color="#0073ff"/><stop offset="0.011" stop-color="#0080ff"/><stop offset="0.059" stop-color="#00b5ff"/><stop offset="0.118" stop-color="#00efff"/><stop offset="0.135" stop-color="#00ffff"/><stop offset="0.176" stop-color="#26ffd9"/><stop offset="0.235" stop-color="#59ffa6"/><stop offset="0.281" stop-color="#80ff80"/><stop offset="0.294" stop-color="#8bff74"/><stop offset="0.353" stop-color="#b2ff4d"/><stop offset="0.412" stop-color="#c3ff3c"/><stop offset="0.471" stop-color="#c3ff3c"/><stop offset="0.529" stop-color="#c3ff3c"/><stop offset="0.588" stop-color="#c3ff3c"/><stop offset="0.647" stop-color="#b2ff4d"/><stop offset="0.706" stop-color="#8bff74"/><stop offset="0.719" stop-color="#80ff80"/><stop offset="0.765" stop-color="#59ffa6"/><stop offset="0.824" stop-color="#26ffd9"/><stop offset="0.865" stop-color="#00ffff"/><stop offset="0.882" stop-color="#00efff"/><stop offset="0.941" stop-color="#00b5ff"/><stop offset="0.989" stop-color="#0080ff"/><stop offset="1" stop-color="#0073ff"/></linearGradient>
<linearGradient id="fa4"><stop offset="0" stop-color="#0085ff"/><stop offset="0.059" stop-color="#00c0ff"/><stop offset="0.118" stop-color="#00fcff"/><stop offset="0.121" stop-color="#00ffff"/><stop offset="0.176" stop-color="#35ffca"/><stop offset="0.235" stop-color="#6aff95"/><stop offset="0.263" stop-color="#80ff80"/><stop offset="0.294" stop-color="#98ff67"/><stop offset="0.353" stop-color="#baff45"/><stop offset="0.412" stop-color="#caff35"/><stop offset="0.471" stop-color="#cdff32"/><stop offset="0.529" stop-color="#cdff32"/><stop offset="0.588" stop-color="#caff35"/><stop offset="0.647" stop-color="#baff45"/><stop offset="0.706" stop-color="#98ff67"/><stop offset="0.737" stop-color="#80ff80"/><stop offset="0.765" stop-color="#6aff95"/><stop offset="0.824" stop-color="#35ffca"/><stop offset="0.879" stop-color="#00ffff"/><stop offset="0.882" stop-color="#00fcff"/><stop offset="0.941" stop-color="#00c0ff"/><stop offset="1" stop-color="#0085ff"/></linearGradient>
<linearGradient id="fa5"><stop offset="0" stop-color="#0099ff"/><stop offset="0.059" stop-color="#00d2ff"/><stop offset="0.104" stop-color="#00ffff"/><stop offset="0.118" stop-color="#0efff1"/><stop offset="0.176" stop-color="#48ffb7"/><stop offset="0.235" stop-color="#7bff84"/><stop offset="0.242" stop-color="#80ff80"/><stop offset="0.294" stop-color="#a4ff5b"/><stop offset="0.353" stop-color="#c2ff3d"/><stop offset="0.412" stop-color="#d5ff2a"/><stop offset="0.471" stop-color="#dfff20"/><stop offset="0.529" stop-color="#dfff20"/><stop offset="0.588" stop-color="#d5ff2a"/><stop offset="0.647" stop-color="#c2ff3d"/><stop offset="0.706" stop-color="#a4ff5b"/><stop offset="0.758" stop-color="#80ff80"/><stop offset="0.765" stop-color="#7bff84"/><stop offset="0.824" stop-color="#48ffb7"/><stop offset="0.882" stop-color="#0efff1"/><stop offset="0.896" stop-color="#00ffff"/><stop offset="0.941" stop-color="#00d2ff"/><stop offset="1" stop-color="#0099ff"/></linearGradient>
<linearGradient id="fa6"><stop offset="0" stop-color="#00b0ff"/><stop offset="0.059" stop-color="#00e7ff"/><stop offset="0.083" stop-color="#00ffff"/><stop offset="0.118" stop-color="#23ffdc"/><stop offset="0.176" stop-color="#5cffa3"/><stop offset="0.22" stop-color="#80ff80"/><stop offset="0.235" stop-color="#8dff72"/><stop offset="0.294" stop-color="#b0ff4f"/><stop offset="0.353" stop-color="#cbff34"/><stop offset="0.412" stop-color="#e4ff1b"/><stop offset="0.471" stop-color="#f8ff07"/><stop offset="0.529" stop-color="#f8ff07"/><stop offset="0.588" stop-color="#e4ff1b"/><stop offset="0.647" stop-color="#cbff34"/><stop offset="0.706" stop-color="#b0ff4f"/><stop offset="0.765" stop-color="#8dff72"/><stop offset="0.78" stop-color="#80ff80"/><stop offset="0.824" stop-color="#5cffa3"/><stop offset="0.882" stop-color="#23ffdc"/><stop offset="0.917" stop-color="#00ffff"/><stop offset="0.941" stop-color="#00e7ff"/><stop offset="1" stop-color="#00b0ff"/></linearGradient>
<linearGradient id="fa7"><stop offset="0" stop-color="#00c8ff"/><stop offset="0.059" stop-color="#00ffff"/><stop offset="0.059" stop-color="#00ffff"/><stop offset="0.118" stop-color="#3affc5"/><stop offset="0.176" stop-color="#71ff8e"/><stop offset="0.195" stop-color="#80ff80"/><stop offset="0.235" stop-color="#9eff61"/><stop offset="0.294" stop-color="#bdff42"/><stop offset="0.353" stop-color="#d6ff29"/><stop offset="0.412" stop-color="#f7ff08"/><stop offset="0.427" stop-color="#ffff00"/><stop offset="0.471" stop-color="#ffe800"/><stop offset="0.529" stop-color="#ffe800"/><stop offset="0.573" stop-color="#ffff00"/><stop offset="0.588" stop-color="#f7ff08"/><stop offset="0.647" stop-color="#d6ff29"/><stop offset="0.706" stop-color="#bdff42"/><stop offset="0.765" stop-color="#9eff61"/><stop offset="0.805" stop-color="#80ff80"/><stop offset="0.824" stop-color="#71ff8e"/><stop offset="0.882" stop-color="#3affc5"/><stop offset="0.941" stop-color="#00ffff"/><stop offset="0.941" stop-color="#00ffff"/><stop offset="1" stop-color="#00c8ff"/></linearGradient>
<linearGradient id="fa8"><stop offset="0" stop-color="#00dfff"/><stop offset="0.033" stop-color="#00ffff"/><stop offset="0.059" stop-color="#19ffe6"/><stop offset="0.118" stop-color="#52ffad"/><stop offset="0.169" stop-color="#80ff80"/><stop offset="0.176" stop-color="#87ff78"/><stop offset="0.235" stop-color="#b0ff4f"/><stop offset="0.294" stop-color="#cbff34"/><stop offset="0.353" stop-color="#e4ff1b"/><stop offset="0.391" stop-color="#ffff00"/><stop offset="0.412" stop-color="#fff000"/><stop offset="0.471" stop-color="#ffc700"/><stop offset="0.529" stop-color="#ffc700"/><stop offset="0.588" stop-color="#fff000"/><stop offset="0.609" stop-color="#ffff00"/><stop offset="0.647" stop-color="#e4ff1b"/><stop offset="0.706" stop-color="#cbff34"/><stop offset="0.765" stop-color="#b0ff4f"/><stop offset="0.824" stop-color="#87ff78"/><stop offset="0.831" stop-color="#80ff80"/><stop offset="0.882" stop-color="#52ffad"/><stop offset="0.941" stop-color="#19ffe6"/><stop offset="0.967" stop-color="#00ffff"/><stop offset="1" stop-color="#00dfff"/></linearGradient>
<linearGradient id="fa9"><stop offset="0" stop-color="#00f6ff"/><stop offset="0.009" stop-color="#00ffff"/><stop offset="0.059" stop-color="#31ffce"/><stop offset="0.118" stop-color="#69ff96"/><stop offset="0.144" stop-color="#80ff80"/><stop offset="0.176" stop-color="#9bff64"/><stop offset="0.235" stop-color="#c2ff3d"/><stop offset="0.294" stop-color="#dbff24"/><stop offset="0.353" stop-color="#f7ff08"/><stop offset="0.363" stop-color="#ffff00"/><stop offset="0.412" stop-color="#ffd600"/><stop offset="0.471" stop-color="#ffa300"/><stop offset="0.529" stop-color="#ffa300"/><stop offset="0.588" stop-color="#ffd600"/><stop offset="0.637" stop-color="#ffff00"/><stop offset="0.647" stop-color="#f7ff08"/><stop offset="0.706" stop-color="#dbff24"/><stop offset="0.765" stop-color="#c2ff3d"/><stop offset="0.824" stop-color="#9bff64"/><stop offset="0.856" stop-color="#80ff80"/><stop offset="0.882" stop-color="#69ff96"/><stop offset="0.941" stop-color="#31ffce"/><stop offset="0.991" stop-color="#00ffff"/><stop offset="1" stop-color="#00f6ff"/></linearGradient>
<linearGradient id="fa10"><stop offset="0" stop-color="#0afff5"/><stop offset="0.059" stop-color="#47ffb8"/><stop offset="0.118" stop-color="#7eff81"/><stop offset="0.119" stop-color="#80ff80"/><stop offset="0.176" stop-color="#aeff51"/><stop offset="0.235" stop-color="#d4ff2b"/><stop offset="0.294" stop-color="#efff10"/><stop offset="0.325" stop-color="#ffff00"/><stop offset="0.353" stop-color="#fff000"/><stop offset="0.412" stop-color="#ffb700"/><stop offset="0.47" stop-color="#ff8000"/><stop offset="0.471" stop-color="#ff7f00"/><stop offset="0.529" stop-color="#ff7f00"/><stop offset="0.53" stop-color="#ff8000"/><stop offset="0.588" stop-color="#ffb700"/><stop offset="0.647" stop-color="#fff000"/><stop offset="0.675" stop-color="#ffff00"/><stop offset="0.706" stop-color="#efff10"/><stop offset="0.765" stop-color="#d4ff2b"/><stop offset="0.824" stop-color="#aeff51"/><stop offset="0.881" stop-color="#80ff80"/><stop offset="0.882" stop-color="#7eff81"/><stop offset="0.941" stop-color="#47ffb8"/><stop offset="1" stop-color="#0afff5"/></linearGradient>
<linearGradient id="fa11"><stop offset="0" stop-color="#1bffe4"/><stop offset="0.059" stop-color="#5affa5"/><stop offset="0.099" stop-color="#80ff80"/><stop offset="0.118" stop-color="#90ff6f"/><stop offset="0.176" stop-color="#bfff40"/><stop offset="0.235" stop-color="#e5ff1a"/><stop offset="0.283" stop-color="#ffff00"/><stop offset="0.294" stop-color="#fff900"/><stop offset="0.353" stop-color="#ffd300"/><stop offset="0.412" stop-color="#ff9600"/><stop offset="0.435" stop-color="#ff8000"/><stop offset="0.471" stop-color="#ff5c00"/><stop offset="0.529" stop-color="#ff5c00"/><stop offset="0.565" stop-color="#ff8000"/><stop offset="0.588" stop-color="#ff9600"/><stop offset="0.647" stop-color="#ffd300"/><stop offset="0.706" stop-color="#fff900"/><stop offset="0.717" stop-color="#ffff00"/><stop offset="0.765" stop-color="#e5ff1a"/><stop offset="0.824" stop-color="#bfff40"/><stop offset="0.882" stop-color="#90ff6f"/><stop offset="0.901" stop-color="#80ff80"/><stop offset="0.941" stop-color="#5affa5"/><stop offset="1" stop-color="#1bffe4"/></linearGradient>
<linearGradient id="fa12"><stop offset="0" stop-color="#2affd5"/><stop offset="0.059" stop-color="#6aff95"/><stop offset="0.082" stop-color="#80ff80"/><stop offset="0.118" stop-color="#a0ff5f"/><stop offset="0.176" stop-color="#cfff30"/><stop offset="0.235" stop-color="#f8ff07"/><stop offset="0.246" stop-color="#ffff00"/><stop offset="0.294" stop-color="#ffe000"/><stop offset="0.353" stop-color="#ffb200"/><stop offset="0.4" stop-color="#ff8000"/><stop offset="0.412" stop-color="#ff7300"/><stop offset="0.471" stop-color="#ff3a00"/><stop offset="0.529" stop-color="#ff3a00"/><stop offset="0.588" stop-color="#ff7300"/><stop offset="0.6" stop-color="#ff8000"/><stop offset="0.647" stop-color="#ffb200"/><stop offset="0.706" stop-color="#ffe000"/><stop offset="0.754" stop-color="#ffff00"/><stop offset="0.765" stop-color="#f8ff07"/><stop offset="0.824" stop-color="#cfff30"/><stop offset="0.882" stop-color="#a0ff5f"/><stop offset="0.918" stop-color="#80ff80"/><stop offset="0.941" stop-color="#6aff95"/><stop offset="1" stop-color="#2affd5"/></linearGradient>
<linearGradient id="fa13"><stop offset="0" stop-color="#39ffc6"/><stop offset="0.059" stop-color="#78ff87"/><stop offset="0.067" stop-color="#80ff80"/><stop offset="0.118" stop-color="#afff50"/><stop offset="0.176" stop-color="#dfff20"/><stop offset="0.218" stop-color="#ffff00"/><stop offset="0.235" stop-color="#fff200"/><stop offset="0.294" stop-color="#ffc400"/><stop offset="0.353" stop-color="#ff8f00"/><stop offset="0.367" stop-color="#ff8000"/><stop offset="0.412" stop-color="#ff4f00"/><stop offset="0.471" stop-color="#ff1b00"/><stop offset="0.529" stop-color="#ff1b00"/><stop offset="0.588" stop-color="#ff4f00"/><stop offset="0.633" stop-color="#ff8000"/><stop offset="0.647" stop-color="#ff8f00"/><stop offset="0.706" stop-color="#ffc400"/><stop offset="0.765" stop-color="#fff200"/><stop offset="0.782" stop-color="#ffff00"/><stop offset="0.824" stop-color="#dfff20"/><stop offset="0.882" stop-color="#afff50"/><stop offset="0.933" stop-color="#80ff80"/><stop offset="0.941" stop-color="#78ff87"/><stop offset="1" stop-color="#39ffc6"/></linearGradient>
<linearGradient id="fa14"><stop offset="0" stop-color="#48ffb7"/><stop offset="0.053" stop-color="#80ff80"/><stop offset="0.059" stop-color="#86ff79"/><stop offset="0.118" stop-color="#bdff42"/><stop offset="0.176" stop-color="#f0ff0f"/><stop offset="0.193" stop-color="#ffff00"/><stop offset="0.235" stop-color="#ffdb00"/><stop offset="0.294" stop-color="#ffa500"/><stop offset="0.333" stop-color="#ff8000"/><stop offset="0.353" stop-color="#ff6c00"/><stop offset="0.412" stop-color="#ff2e00"/><stop offset="0.469" stop-color="#ff0000"/><stop offset="0.471" stop-color="#fd0000"/><stop offset="0.529" stop-color="#fd0000"/><stop offset="0.531" stop-color="#ff0000"/><stop offset="0.588" stop-color="#ff2e00"/><stop offset="0.647" stop-color="#ff6c00"/><stop offset="0.667" stop-color="#ff8000"/><stop offset="0.706" stop-color="#ffa500"/><stop offset="0.765" stop-color="#ffdb00"/><stop offset="0.807" stop-color="#ffff00"/><stop offset="0.824" stop-color="#f0ff0f"/><stop offset="0.882" stop-color="#bdff42"/><stop offset="0.941" stop-color="#86ff79"/><stop offset="0.947" stop-color="#80ff80"/><stop offset="1" stop-color="#48ffb7"/></linearGradient>
<linearGradient id="fa15"><stop offset="0" stop-color="#5affa5"/><stop offset="0.039" stop-color="#80ff80"/><stop offset="0.059" stop-color="#92ff6d"/><stop offset="0.118" stop-color="#cbff34"/><stop offset="0.171" stop-color="#ffff00"/><stop offset="0.176" stop-color="#fffa00"/><stop offset="0.235" stop-color="#ffc000"/><stop offset="0.294" stop-color="#ff8500"/><stop offset="0.3" stop-color="#ff8000"/><stop offset="0.353" stop-color="#ff4a00"/><stop offset="0.412" stop-color="#ff0f00"/><stop offset="0.433" stop-color="#ff0000"/><stop offset="0.471" stop-color="#e50000"/><stop offset="0.529" stop-color="#e50000"/><stop offset="0.567" stop-color="#ff0000"/><stop offset="0.588" stop-color="#ff0f00"/><stop offset="0.647" stop-color="#ff4a00"/><stop offset="0.7" stop-color="#ff8000"/><stop offset="0.706" stop-color="#ff8500"/><stop offset="0.765" stop-color="#ffc000"/><stop offset="0.824" stop-color="#fffa00"/><stop offset="0.829" stop-color="#ffff00"/><stop offset="0.882" stop-color="#cbff34"/><stop offset="0.941" stop-color="#92ff6d"/><stop offset="0.961" stop-color="#80ff80"/><stop offset="1" stop-color="#5affa5"/></linearGradient>
<linearGradient id="fa16"><stop offset="0" stop-color="#6dff92"/><stop offset="0.022" stop-color="#80ff80"/><stop offset="0.059" stop-color="#9eff61"/><stop offset="0.118" stop-color="#d9ff26"/><stop offset="0.153" stop-color="#ffff00"/><stop offset="0.176" stop-color="#ffe500"/><stop offset="0.235" stop-color="#ffa400"/><stop offset="0.27" stop-color="#ff8000"/><stop offset="0.294" stop-color="#ff6600"/><stop offset="0.353" stop-color="#ff2b00"/><stop offset="0.4" stop-color="#ff0000"/><stop offset="0.412" stop-color="#f40000"/><stop offset="0.471" stop-color="#cf0000"/><stop offset="0.529" stop-color="#cf0000"/><stop offset="0.588" stop-color="#f40000"/><stop offset="0.6" stop-color="#ff0000"/><stop offset="0.647" stop-color="#ff2b00"/><stop offset="0.706" stop-color="#ff6600"/><stop offset="0.73" stop-color="#ff8000"/><stop offset="0.765" stop-color="#ffa400"/><stop offset="0.824" stop-color="#ffe500"/><stop offset="0.847" stop-color="#ffff00"/><stop offset="0.882" stop-color="#d9ff26"/><stop offset="0.941" stop-color="#9eff61"/><stop offset="0.978" stop-color="#80ff80"/><stop offset="1" stop-color="#6dff92"/></linearGradient>
<linearGradient id="fa17"><stop offset="0" stop-color="#7eff81"/><stop offset="0.002" stop-color="#80ff80"/><stop offset="0.059" stop-color="#a8ff57"/><stop offset="0.118" stop-color="#e5ff1a"/><stop offset="0.139" stop-color="#ffff00"/><stop offset="0.176" stop-color="#ffd200"/><stop offset="0.235" stop-color="#ff8a00"/><stop offset="0.245" stop-color="#ff8000"/><stop offset="0.294" stop-color="#ff4900"/><stop offset="0.353" stop-color="#ff1000"/><stop offset="0.372" stop-color="#ff0000"/><stop offset="0.412" stop-color="#dd0000"/><stop offset="0.471" stop-color="#bd0000"/><stop offset="0.529" stop-color="#bd0000"/><stop offset="0.588" stop-color="#dd0000"/><stop offset="0.628" stop-color="#ff0000"/><stop offset="0.647" stop-color="#ff1000"/><stop offset="0.706" stop-color="#ff4900"/><stop offset="0.755" stop-color="#ff8000"/><stop offset="0.765" stop-color="#ff8a00"/><stop offset="0.824" stop-color="#ffd200"/><stop offset="0.861" stop-color="#ffff00"/><stop offset="0.882" stop-color="#e5ff1a"/><stop offset="0.941" stop-color="#a8ff57"/><stop offset="0.998" stop-color="#80ff80"/><stop offset="1" stop-color="#7eff81"/></linearGradient>
<linearGradient id="fa18"><stop offset="0" stop-color="#8cff73"/><stop offset="0.059" stop-color="#afff50"/><stop offset="0.118" stop-color="#edff12"/><stop offset="0.131" stop-color="#ffff00"/><stop offset="0.176" stop-color="#ffc300"/><stop offset="0.227" stop-color="#ff8000"/><stop offset="0.235" stop-color="#ff7500"/><stop offset="0.294" stop-color="#ff3100"/><stop offset="0.347" stop-color="#ff0000"/><stop offset="0.353" stop-color="#f90000"/><stop offset="0.412" stop-color="#cb0000"/><stop offset="0.471" stop-color="#ad0000"/><stop offset="0.529" stop-color="#ad0000"/><stop offset="0.588" stop-color="#cb0000"/><stop offset="0.647" stop-color="#f90000"/><stop offset="0.653" stop-color="#ff0000"/><stop offset="0.706" stop-color="#ff3100"/><stop offset="0.765" stop-color="#ff7500"/><stop offset="0.773" stop-color="#ff8000"/><stop offset="0.824" stop-color="#ffc300"/><stop offset="0.869" stop-color="#ffff00"/><stop offset="0.882" stop-color="#edff12"/><stop offset="0.941" stop-color="#afff50"/><stop offset="1" stop-color="#8cff73"/></linearGradient>
<linearGradient id="fa19"><stop offset="0" stop-color="#95ff6a"/><stop offset="0.059" stop-color="#b1ff4e"/><stop offset="0.118" stop-color="#f1ff0e"/><stop offset="0.128" stop-color="#ffff00"/><stop offset="0.176" stop-color="#ffbb00"/><stop offset="0.218" stop-color="#ff8000"/><stop offset="0.235" stop-color="#ff6700"/><stop offset="0.294" stop-color="#ff2200"/><stop offset="0.331" stop-color="#ff0000"/><stop offset="0.353" stop-color="#ea0000"/><stop offset="0.412" stop-color="#bd0000"/><stop offset="0.471" stop-color="#a00000"/><stop offset="0.529" stop-color="#a00000"/><stop offset="0.588" stop-color="#bd0000"/><stop offset="0.647" stop-color="#ea0000"/><stop offset="0.669" stop-color="#ff0000"/><stop offset="0.706" stop-color="#ff2200"/><stop offset="0.765" stop-color="#ff6700"/><stop offset="0.782" stop-color="#ff8000"/><stop offset="0.824" stop-color="#ffbb00"/><stop offset="0.872" stop-color="#ffff00"/><stop offset="0.882" stop-color="#f1ff0e"/><stop offset="0.941" stop-color="#b1ff4e"/><stop offset="1" stop-color="#95ff6a"/></linearGradient>
<linearGradient id="fa20"><stop offset="0" stop-color="#98ff67"/><stop offset="0.059" stop-color="#afff50"/><stop offset="0.118" stop-color="#eeff11"/><stop offset="0.129" stop-color="#ffff00"/><stop offset="0.176" stop-color="#ffbb00"/><stop offset="0.217" stop-color="#ff8000"/><stop offset="0.235" stop-color="#ff6400"/><stop offset="0.294" stop-color="#ff1c00"/><stop offset="0.324" stop-color="#ff0000"/><stop offset="0.353" stop-color="#e30000"/><stop offset="0.412" stop-color="#b40000"/><stop offset="0.471" stop-color="#940000"/><stop offset="0.529" stop-color="#940000"/><stop offset="0.588" stop-color="#b40000"/><stop offset="0.647" stop-color="#e30000"/><stop offset="0.676" stop-color="#ff0000"/><stop offset="0.706" stop-color="#ff1c00"/><stop offset="0.765" stop-color="#ff6400"/><stop offset="0.783" stop-color="#ff8000"/><stop offset="0.824" stop-color="#ffbb00"/><stop offset="0.871" stop-color="#ffff00"/><stop offset="0.882" stop-color="#eeff11"/><stop offset="0.941" stop-color="#afff50"/><stop offset="1" stop-color="#98ff67"/></linearGradient>
<linearGradient id="fa21"><stop offset="0" stop-color="#95ff6a"/><stop offset="0.059" stop-color="#a8ff57"/><stop offset="0.118" stop-color="#e6ff19"/><stop offset="0.135" stop-color="#ffff00"/><stop offset="0.176" stop-color="#ffc200"/><stop offset="0.22" stop-color="#ff8000"/><stop offset="0.235" stop-color="#ff6900"/><stop offset="0.294" stop-color="#ff1e00"/><stop offset="0.324" stop-color="#ff0000"/><stop offset="0.353" stop-color="#e20000"/><stop offset="0.412" stop-color="#ae0000"/><stop offset="0.471" stop-color="#8c0000"/><stop offset="0.529" stop-color="#8c0000"/><stop offset="0.588" stop-color="#ae0000"/><stop offset="0.647" stop-color="#e20000"/><stop offset="0.676" stop-color="#ff0000"/><stop offset="0.706" stop-color="#ff1e00"/><stop offset="0.765" stop-color="#ff6900"/><stop offset="0.78" stop-color="#ff8000"/><stop offset="0.824" stop-color="#ffc200"/><stop offset="0.865" stop-color="#ffff00"/><stop offset="0.882" stop-color="#e6ff19"/><stop offset="0.941" stop-color="#a8ff57"/><stop offset="1" stop-color="#95ff6a"/></linearGradient>
<linearGradient id="fa22"><stop offset="0" stop-color="#8dff72"/><stop offset="0.059" stop-color="#9fff60"/><stop offset="0.118" stop-color="#dbff24"/><stop offset="0.143" stop-color="#ffff00"/><stop offset="0.176" stop-color="#ffcf00"/><stop offset="0.228" stop-color="#ff8000"/><stop offset="0.235" stop-color="#ff7500"/><stop offset="0.294" stop-color="#ff2600"/><stop offset="0.329" stop-color="#ff0000"/><stop offset="0.353" stop-color="#e40000"/><stop offset="0.412" stop-color="#ac0000"/><stop offset="0.471" stop-color="#860000"/><stop offset="0.529" stop-color="#860000"/><stop offset="0.588" stop-color="#ac0000"/><stop offset="0.647" stop-color="#e40000"/><stop offset="0.671" stop-color="#ff0000"/><stop offset="0.706" stop-color="#ff2600"/><stop offset="0.765" stop-color="#ff7500"/><stop offset="0.772" stop-color="#ff8000"/><stop offset="0.824" stop-color="#ffcf00"/><stop offset="0.857" stop-color="#ffff00"/><stop offset="0.882" stop-color="#dbff24"/><stop offset="0.941" stop-color="#9fff60"/><stop offset="1" stop-color="#8dff72"/></linearGradient>
<linearGradient id="fa23"><stop offset="0" stop-color="#83ff7c"/><stop offset="0.059" stop-color="#94ff6b"/><stop offset="0.118" stop-color="#cdff32"/><stop offset="0.154" stop-color="#ffff00"/><stop offset="0.176" stop-color="#ffe000"/><stop offset="0.235" stop-color="#ff8600"/><stop offset="0.24" stop-color="#ff8000"/><stop offset="0.294" stop-color="#ff3200"/><stop offset="0.335" stop-color="#ff0000"/><stop offset="0.353" stop-color="#e90000"/><stop offset="0.412" stop-color="#ac0000"/><stop offset="0.471" stop-color="#850000"/><stop offset="0.529" stop-color="#850000"/><stop offset="0.588" stop-color="#ac0000"/><stop offset="0.647" stop-color="#e90000"/><stop offset="0.665" stop-color="#ff0000"/><stop offset="0.706" stop-color="#ff3200"/><stop offset="0.76" stop-color="#ff8000"/><stop offset="0.765" stop-color="#ff8600"/><stop offset="0.824" stop-color="#ffe000"/><stop offset="0.846" stop-color="#ffff00"/><stop offset="0.882" stop-color="#cdff32"/><stop offset="0.941" stop-color="#94ff6b"/><stop offset="1" stop-color="#83ff7c"/></linearGradient>
<linearGradient id="fa24"><stop offset="0" stop-color="#76ff89"/><stop offset="0.032" stop-color="#80ff80"/><stop offset="0.059" stop-color="#87ff78"/><stop offset="0.118" stop-color="#bcff43"/><stop offset="0.168" stop-color="#ffff00"/><stop offset="0.176" stop-color="#fff400"/><stop offset="0.235" stop-color="#ff9b00"/><stop offset="0.253" stop-color="#ff8000"/><stop offset="0.294" stop-color="#ff4000"/><stop offset="0.341" stop-color="#ff0000"/><stop offset="0.353" stop-color="#ee0000"/><stop offset="0.412" stop-color="#ad0000"/><stop offset="0.471" stop-color="#870000"/><stop offset="0.529" stop-color="#870000"/><stop offset="0.588" stop-color="#ad0000"/><stop offset="0.647" stop-color="#ee0000"/><stop offset="0.659" stop-color="#ff0000"/><stop offset="0.706" stop-color="#ff4000"/><stop offset="0.747" stop-color="#ff8000"/><stop offset="0.765" stop-color="#ff9b00"/><stop offset="0.824" stop-color="#fff400"/><stop offset="0.832" stop-color="#ffff00"/><stop offset="0.882" stop-color="#bcff43"/><stop offset="0.941" stop-color="#87ff78"/><stop offset="0.968" stop-color="#80ff80"/><stop offset="1" stop-color="#76ff89"/></linearGradient>
<linearGradient id="fa25"><stop offset="0" stop-color="#68ff97"/><stop offset="0.059" stop-color="#7aff85"/><stop offset="0.065" stop-color="#80ff80"/><stop offset="0.118" stop-color="#abff54"/><stop offset="0.176" stop-color="#f4ff0b"/><stop offset="0.184" stop-color="#ffff00"/><stop offset="0.235" stop-color="#ffb100"/><stop offset="0.265" stop-color="#ff8000"/><stop offset="0.294" stop-color="#ff5000"/><stop offset="0.346" stop-color="#ff0000"/><stop offset="0.353" stop-color="#f40000"/><stop offset="0.412" stop-color="#b10000"/><stop offset="0.471" stop-color="#8e0000"/><stop offset="0.529" stop-color="#8e0000"/><stop offset="0.588" stop-color="#b10000"/><stop offset="0.647" stop-color="#f40000"/><stop offset="0.654" stop-color="#ff0000"/><stop offset="0.706" stop-color="#ff5000"/><stop offset="0.735" stop-color="#ff8000"/><stop offset="0.765" stop-color="#ffb100"/><stop offset="0.816" stop-color="#ffff00"/><stop offset="0.824" stop-color="#f4ff0b"/><stop offset="0.882" stop-color="#abff54"/><stop offset="0.935" stop-color="#80ff80"/><stop offset="0.941" stop-color="#7aff85"/><stop offset="1" stop-color="#68ff97"/></linearGradient>
<linearGradient id="fa26"><stop offset="0" stop-color="#57ffa8"/><stop offset="0.059" stop-color="#6cff93"/><stop offset="0.085" stop-color="#80ff80"/><stop offset="0.118" stop-color="#99ff66"/><stop offset="0.176" stop-color="#ddff22"/><stop offset="0.199" stop-color="#ffff00"/><stop offset="0.235" stop-color="#ffc900"/><stop offset="0.277" stop-color="#ff8000"/><stop offset="0.294" stop-color="#ff6100"/><stop offset="0.351" stop-color="#ff0000"/><stop offset="0.353" stop-color="#fc0000"/><stop offset="0.412" stop-color="#b60000"/><stop offset="0.471" stop-color="#970000"/><stop offset="0.529" stop-color="#970000"/><stop offset="0.588" stop-color="#b60000"/><stop offset="0.647" stop-color="#fc0000"/><stop offset="0.649" stop-color="#ff0000"/><stop offset="0.706" stop-color="#ff6100"/><stop offset="0.723" stop-color="#ff8000"/><stop offset="0.765" stop-color="#ffc900"/><stop offset="0.801" stop-color="#ffff00"/><stop offset="0.824" stop-color="#ddff22"/><stop offset="0.882" stop-color="#99ff66"/><stop offset="0.915" stop-color="#80ff80"/><stop offset="0.941" stop-color="#6cff93"/><stop offset="1" stop-color="#57ffa8"/></linearGradient>
<linearGradient id="fa27"><stop offset="0" stop-color="#42ffbd"/><stop offset="0.059" stop-color="#5bffa4"/><stop offset="0.107" stop-color="#80ff80"/><stop offset="0.118" stop-color="#87ff78"/><stop offset="0.176" stop-color="#c8ff37"/><stop offset="0.214" stop-color="#ffff00"/><stop offset="0.235" stop-color="#ffdf00"/><stop offset="0.287" stop-color="#ff8000"/><stop offset="0.294" stop-color="#ff7200"/><stop offset="0.353" stop-color="#ff0700"/><stop offset="0.359" stop-color="#ff0000"/><stop offset="0.412" stop-color="#bf0000"/><stop offset="0.471" stop-color="#a20000"/><stop offset="0.529" stop-color="#a20000"/><stop offset="0.588" stop-color="#bf0000"/><stop offset="0.641" stop-color="#ff0000"/><stop offset="0.647" stop-color="#ff0700"/><stop offset="0.706" stop-color="#ff7200"/><stop offset="0.713" stop-color="#ff8000"/><stop offset="0.765" stop-color="#ffdf00"/><stop offset="0.786" stop-color="#ffff00"/><stop offset="0.824" stop-color="#c8ff37"/><stop offset="0.882" stop-color="#87ff78"/><stop offset="0.893" stop-color="#80ff80"/><stop offset="0.941" stop-color="#5bffa4"/><stop offset="1" stop-color="#42ffbd"/></linearGradient>
<linearGradient id="fa28"><stop offset="0" stop-color="#29ffd6"/><stop offset="0.059" stop-color="#49ffb6"/><stop offset="0.118" stop-color="#75ff8a"/><stop offset="0.127" stop-color="#80ff80"/><stop offset="0.176" stop-color="#b4ff4b"/><stop offset="0.228" stop-color="#ffff00"/><stop offset="0.235" stop-color="#fff400"/><stop offset="0.294" stop-color="#ff8400"/><stop offset="0.297" stop-color="#ff8000"/><stop offset="0.353" stop-color="#ff1500"/><stop offset="0.37" stop-color="#ff0000"/><stop offset="0.412" stop-color="#cb0000"/><stop offset="0.471" stop-color="#ad0000"/><stop offset="0.529" stop-color="#ad0000"/><stop offset="0.588" stop-color="#cb0000"/><stop offset="0.63" stop-color="#ff0000"/><stop offset="0.647" stop-color="#ff1500"/><stop offset="0.703" stop-color="#ff8000"/><stop offset="0.706" stop-color="#ff8400"/><stop offset="0.765" stop-color="#fff400"/><stop offset="0.772" stop-color="#ffff00"/><stop offset="0.824" stop-color="#b4ff4b"/><stop offset="0.873" stop-color="#80ff80"/><stop offset="0.882" stop-color="#75ff8a"/><stop offset="0.941" stop-color="#49ffb6"/><stop offset="1" stop-color="#29ffd6"/></linearGradient>
<linearGradient id="fa29"><stop offset="0" stop-color="#0bfff4"/><stop offset="0.059" stop-color="#33ffcc"/><stop offset="0.118" stop-color="#64ff9b"/><stop offset="0.143" stop-color="#80ff80"/><stop offset="0.176" stop-color="#a4ff5b"/><stop offset="0.235" stop-color="#f9ff06"/><stop offset="0.239" stop-color="#ffff00"/><stop offset="0.294" stop-color="#ff9700"/><stop offset="0.306" stop-color="#ff8000"/><stop offset="0.353" stop-color="#ff2700"/><stop offset="0.383" stop-color="#ff0000"/><stop offset="0.412" stop-color="#da0000"/><stop offset="0.471" stop-color="#b90000"/><stop offset="0.529" stop-color="#b90000"/><stop offset="0.588" stop-color="#da0000"/><stop offset="0.617" stop-color="#ff0000"/><stop offset="0.647" stop-color="#ff2700"/><stop offset="0.694" stop-color="#ff8000"/><stop offset="0.706" stop-color="#ff9700"/><stop offset="0.761" stop-color="#ffff00"/><stop offset="0.765" stop-color="#f9ff06"/><stop offset="0.824" stop-color="#a4ff5b"/><stop offset="0.857" stop-color="#80ff80"/><stop offset="0.882" stop-color="#64ff9b"/><stop offset="0.941" stop-color="#33ffcc"/><stop offset="1" stop-color="#0bfff4"/></linearGradient>
<linearGradient id="fa30"><stop offset="0" stop-color="#00e8ff"/><stop offset="0.026" stop-color="#00ffff"/><stop offset="0.059" stop-color="#1cffe3"/><stop offset="0.118" stop-color="#53ffac"/><stop offset="0.158" stop-color="#80ff80"/><stop offset="0.176" stop-color="#94ff6b"/><stop offset="0.235" stop-color="#e8ff17"/><stop offset="0.248" stop-color="#ffff00"/><stop offset="0.294" stop-color="#ffab00"/><stop offset="0.318" stop-color="#ff8000"/><stop offset="0.353" stop-color="#ff3e00"/><stop offset="0.398" stop-color="#ff0000"/><stop offset="0.412" stop-color="#ec0000"/><stop offset="0.471" stop-color="#c40000"/><stop offset="0.529" stop-color="#c40000"/><stop offset="0.588" stop-color="#ec0000"/><stop offset="0.602" stop-color="#ff0000"/><stop offset="0.647" stop-color="#ff3e00"/><stop offset="0.682" stop-color="#ff8000"/><stop offset="0.706" stop-color="#ffab00"/><stop offset="0.752" stop-color="#ffff00"/><stop offset="0.765" stop-color="#e8ff17"/><stop offset="0.824" stop-color="#94ff6b"/><stop offset="0.842" stop-color="#80ff80"/><stop offset="0.882" stop-color="#53ffac"/><stop offset="0.941" stop-color="#1cffe3"/><stop offset="0.974" stop-color="#00ffff"/><stop offset="1" stop-color="#00e8ff"/></linearGradient>
<linearGradient id="fa31"><stop offset="0" stop-color="#00c5ff"/><stop offset="0.056" stop-color="#00ffff"/><stop offset="0.059" stop-color="#03fffc"/><stop offset="0.118" stop-color="#40ffbf"/><stop offset="0.172" stop-color="#80ff80"/><stop offset="0.176" stop-color="#84ff7b"/><stop offset="0.235" stop-color="#d7ff28"/><stop offset="0.259" stop-color="#ffff00"/><stop offset="0.294" stop-color="#ffc100"/><stop offset="0.331" stop-color="#ff8000"/><stop offset="0.353" stop-color="#ff5700"/><stop offset="0.412" stop-color="#ff0100"/><stop offset="0.412" stop-color="#ff0000"/><stop offset="0.471" stop-color="#cf0000"/><stop offset="0.529" stop-color="#cf0000"/><stop offset="0.588" stop-color="#ff0000"/><stop offset="0.588" stop-color="#ff0100"/><stop offset="0.647" stop-color="#ff5700"/><stop offset="0.669" stop-color="#ff8000"/><stop offset="0.706" stop-color="#ffc100"/><stop offset="0.741" stop-color="#ffff00"/><stop offset="0.765" stop-color="#d7ff28"/><stop offset="0.824" stop-color="#84ff7b"/><stop offset="0.828" stop-color="#80ff80"/><stop offset="0.882" stop-color="#40ffbf"/><stop offset="0.941" stop-color="#03fffc"/><stop offset="0.944" stop-color="#00ffff"/><stop offset="1" stop-color="#00c5ff"/></linearGradient>
<linearGradient id="fa32"><stop offset="0" stop-color="#00a0ff"/><stop offset="0.059" stop-color="#00e8ff"/><stop offset="0.079" stop-color="#00ffff"/><stop offset="0.118" stop-color="#2cffd3"/><stop offset="0.176" stop-color="#72ff8d"/><stop offset="0.186" stop-color="#80ff80"/><stop offset="0.235" stop-color="#c2ff3d"/><stop offset="0.272" stop-color="#ffff00"/><stop offset="0.294" stop-color="#ffdb00"/><stop offset="0.346" stop-color="#ff8000"/><stop offset="0.353" stop-color="#ff7300"/><stop offset="0.412" stop-color="#ff1500"/><stop offset="0.432" stop-color="#ff0000"/><stop offset="0.471" stop-color="#d80000"/><stop offset="0.529" stop-color="#d80000"/><stop offset="0.568" stop-color="#ff0000"/><stop offset="0.588" stop-color="#ff1500"/><stop offset="0.647" stop-color="#ff7300"/><stop offset="0.654" stop-color="#ff8000"/><stop offset="0.706" stop-color="#ffdb00"/><stop offset="0.728" stop-color="#ffff00"/><stop offset="0.765" stop-color="#c2ff3d"/><stop offset="0.814" stop-color="#80ff80"/><stop offset="0.824" stop-color="#72ff8d"/><stop offset="0.882" stop-color="#2cffd3"/><stop offset="0.921" stop-color="#00ffff"/><stop offset="0.941" stop-color="#00e8ff"/><stop offset="1" stop-color="#00a0ff"/></linearGradient>
<linearGradient id="fa33"><stop offset="0" stop-color="#007bff"/><stop offset="0.003" stop-color="#0080ff"/><stop offset="0.059" stop-color="#00cdff"/><stop offset="0.1" stop-color="#00ffff"/><stop offset="0.118" stop-color="#16ffe9"/><stop offset="0.176" stop-color="#5cffa3"/><stop offset="0.203" stop-color="#80ff80"/><stop offset="0.235" stop-color="#aaff55"/><stop offset="0.29" stop-color="#ffff00"/><stop offset="0.294" stop-color="#fff800"/><stop offset="0.353" stop-color="#ff9100"/><stop offset="0.363" stop-color="#ff8000"/><stop offset="0.412" stop-color="#ff2a00"/><stop offset="0.446" stop-color="#ff0000"/><stop offset="0.471" stop-color="#e00000"/><stop offset="0.529" stop-color="#e00000"/><stop offset="0.554" stop-color="#ff0000"/><stop offset="0.588" stop-color="#ff2a00"/><stop offset="0.637" stop-color="#ff8000"/><stop offset="0.647" stop-color="#ff9100"/><stop offset="0.706" stop-color="#fff800"/><stop offset="0.71" stop-color="#ffff00"/><stop offset="0.765" stop-color="#aaff55"/><stop offset="0.797" stop-color="#80ff80"/><stop offset="0.824" stop-color="#5cffa3"/><stop offset="0.882" stop-color="#16ffe9"/><stop offset="0.9" stop-color="#00ffff"/><stop offset="0.941" stop-color="#00cdff"/><stop offset="0.997" stop-color="#0080ff"/><stop offset="1" stop-color="#007bff"/></linearGradient>
<linearGradient id="fa34"><stop offset="0" stop-color="#0057ff"/><stop offset="0.026" stop-color="#0080ff"/><stop offset="0.059" stop-color="#00b2ff"/><stop offset="0.118" stop-color="#00fcff"/><stop offset="0.12" stop-color="#00ffff"/><stop offset="0.176" stop-color="#43ffbc"/><stop offset="0.225" stop-color="#80ff80"/><stop offset="0.235" stop-color="#8dff72"/><stop offset="0.294" stop-color="#e5ff1a"/><stop offset="0.309" stop-color="#ffff00"/><stop offset="0.353" stop-color="#ffb100"/><stop offset="0.378" stop-color="#ff8000"/><stop offset="0.412" stop-color="#ff3f00"/><stop offset="0.455" stop-color="#ff0000"/><stop offset="0.471" stop-color="#e80000"/><stop offset="0.529" stop-color="#e80000"/><stop offset="0.545" stop-color="#ff0000"/><stop offset="0.588" stop-color="#ff3f00"/><stop offset="0.622" stop-color="#ff8000"/><stop offset="0.647" stop-color="#ffb100"/><stop offset="0.691" stop-color="#ffff00"/><stop offset="0.706" stop-color="#e5ff1a"/><stop offset="0.765" stop-color="#8dff72"/><stop offset="0.775" stop-color="#80ff80"/><stop offset="0.824" stop-color="#43ffbc"/><stop offset="0.88" stop-color="#00ffff"/><stop offset="0.882" stop-color="#00fcff"/><stop offset="0.941" stop-color="#00b2ff"/><stop offset="0.974" stop-color="#0080ff"/><stop offset="1" stop-color="#0057ff"/></linearGradient>
<linearGradient id="fa35"><stop offset="0" stop-color="#0035ff"/><stop offset="0.046" stop-color="#0080ff"/><stop offset="0.059" stop-color="#0095ff"/><stop offset="0.118" stop-color="#00e1ff"/><stop offset="0.143" stop-color="#00ffff"/><stop offset="0.176" stop-color="#27ffd8"/><stop offset="0.235" stop-color="#6eff91"/><stop offset="0.247" stop-color="#80ff80"/><stop offset="0.294" stop-color="#c4ff3b"/><stop offset="0.327" stop-color="#ffff00"/><stop offset="0.353" stop-color="#ffd100"/><stop offset="0.392" stop-color="#ff8000"/><stop offset="0.412" stop-color="#ff5500"/><stop offset="0.463" stop-color="#ff0000"/><stop offset="0.471" stop-color="#f20000"/><stop offset="0.529" stop-color="#f20000"/><stop offset="0.537" stop-color="#ff0000"/><stop offset="0.588" stop-color="#ff5500"/><stop offset="0.608" stop-color="#ff8000"/><stop offset="0.647" stop-color="#ffd100"/><stop offset="0.673" stop-color="#ffff00"/><stop offset="0.706" stop-color="#c4ff3b"/><stop offset="0.753" stop-color="#80ff80"/><stop offset="0.765" stop-color="#6eff91"/><stop offset="0.824" stop-color="#27ffd8"/><stop offset="0.857" stop-color="#00ffff"/><stop offset="0.882" stop-color="#00e1ff"/><stop offset="0.941" stop-color="#0095ff"/><stop offset="0.954" stop-color="#0080ff"/><stop offset="1" stop-color="#0035ff"/></linearGradient>
<linearGradient id="fa36"><stop offset="0" stop-color="#0014ff"/><stop offset="0.059" stop-color="#0076ff"/><stop offset="0.066" stop-color="#0080ff"/><stop offset="0.118" stop-color="#00c4ff"/><stop offset="0.168" stop-color="#00ffff"/><stop offset="0.176" stop-color="#0afff5"/><stop offset="0.235" stop-color="#50ffaf"/><stop offset="0.269" stop-color="#80ff80"/><stop offset="0.294" stop-color="#a4ff5b"/><stop offset="0.345" stop-color="#ffff00"/><stop offset="0.353" stop-color="#fff100"/><stop offset="0.403" stop-color="#ff8000"/><stop offset="0.412" stop-color="#ff6d00"/><stop offset="0.47" stop-color="#ff0000"/><stop offset="0.471" stop-color="#fe0000"/><stop offset="0.529" stop-color="#fe0000"/><stop offset="0.53" stop-color="#ff0000"/><stop offset="0.588" stop-color="#ff6d00"/><stop offset="0.597" stop-color="#ff8000"/><stop offset="0.647" stop-color="#fff100"/><stop offset="0.655" stop-color="#ffff00"/><stop offset="0.706" stop-color="#a4ff5b"/><stop offset="0.731" stop-color="#80ff80"/><stop offset="0.765" stop-color="#50ffaf"/><stop offset="0.824" stop-color="#0afff5"/><stop offset="0.832" stop-color="#00ffff"/><stop offset="0.882" stop-color="#00c4ff"/><stop offset="0.934" stop-color="#0080ff"/><stop offset="0.941" stop-color="#0076ff"/><stop offset="1" stop-color="#0014ff"/></linearGradient>
<linearGradient id="fa37"><stop offset="0" stop-color="#0000f5"/><stop offset="0.006" stop-color="#0000ff"/><stop offset="0.059" stop-color="#0055ff"/><stop offset="0.09" stop-color="#0080ff"/><stop offset="0.118" stop-color="#00a4ff"/><stop offset="0.176" stop-color="#00ecff"/><stop offset="0.192" stop-color="#00ffff"/><stop offset="0.235" stop-color="#36ffc9"/><stop offset="0.289" stop-color="#80ff80"/><stop offset="0.294" stop-color="#87ff78"/><stop offset="0.353" stop-color="#eeff11"/><stop offset="0.36" stop-color="#ffff00"/><stop offset="0.412" stop-color="#ff8700"/><stop offset="0.415" stop-color="#ff8000"/><stop offset="0.471" stop-color="#ff1100"/><stop offset="0.529" stop-color="#ff1100"/><stop offset="0.585" stop-color="#ff8000"/><stop offset="0.588" stop-color="#ff8700"/><stop offset="0.64" stop-color="#ffff00"/><stop offset="0.647" stop-color="#eeff11"/><stop offset="0.706" stop-color="#87ff78"/><stop offset="0.711" stop-color="#80ff80"/><stop offset="0.765" stop-color="#36ffc9"/><stop offset="0.808" stop-color="#00ffff"/><stop offset="0.824" stop-color="#00ecff"/><stop offset="0.882" stop-color="#00a4ff"/><stop offset="0.91" stop-color="#0080ff"/><stop offset="0.941" stop-color="#0055ff"/><stop offset="0.994" stop-color="#0000ff"/><stop offset="1" stop-color="#0000f5"/></linearGradient>
<linearGradient id="fa38"><stop offset="0" stop-color="#0000db"/><stop offset="0.024" stop-color="#0000ff"/><stop offset="0.059" stop-color="#0032ff"/><stop offset="0.115" stop-color="#0080ff"/><stop offset="0.118" stop-color="#0083ff"/><stop offset="0.176" stop-color="#00d1ff"/><stop offset="0.211" stop-color="#00ffff"/><stop offset="0.235" stop-color="#1fffe0"/><stop offset="0.294" stop-color="#6eff91"/><stop offset="0.304" stop-color="#80ff80"/><stop offset="0.353" stop-color="#d1ff2e"/><stop offset="0.372" stop-color="#ffff00"/><stop offset="0.412" stop-color="#ffa300"/><stop offset="0.429" stop-color="#ff8000"/><stop offset="0.471" stop-color="#ff2900"/><stop offset="0.529" stop-color="#ff2900"/><stop offset="0.571" stop-color="#ff8000"/><stop offset="0.588" stop-color="#ffa300"/><stop offset="0.628" stop-color="#ffff00"/><stop offset="0.647" stop-color="#d1ff2e"/><stop offset="0.696" stop-color="#80ff80"/><stop offset="0.706" stop-color="#6eff91"/><stop offset="0.765" stop-color="#1fffe0"/><stop offset="0.789" stop-color="#00ffff"/><stop offset="0.824" stop-color="#00d1ff"/><stop offset="0.882" stop-color="#0083ff"/><stop offset="0.885" stop-color="#0080ff"/><stop offset="0.941" stop-color="#0032ff"/><stop offset="0.976" stop-color="#0000ff"/><stop offset="1" stop-color="#0000db"/></linearGradient>
<linearGradient id="fa39"><stop offset="0" stop-color="#0000c4"/><stop offset="0.046" stop-color="#0000ff"/><stop offset="0.059" stop-color="#0010ff"/><stop offset="0.118" stop-color="#0063ff"/><stop offset="0.137" stop-color="#0080ff"/><stop offset="0.176" stop-color="#00b9ff"/><stop offset="0.226" stop-color="#00ffff"/><stop offset="0.235" stop-color="#0dfff2"/><stop offset="0.294" stop-color="#5bffa4"/><stop offset="0.318" stop-color="#80ff80"/><stop offset="0.353" stop-color="#b7ff48"/><stop offset="0.384" stop-color="#ffff00"/><stop offset="0.412" stop-color="#ffbf00"/><stop offset="0.442" stop-color="#ff8000"/><stop offset="0.471" stop-color="#ff4500"/><stop offset="0.529" stop-color="#ff4500"/><stop offset="0.558" stop-color="#ff8000"/><stop offset="0.588" stop-color="#ffbf00"/><stop offset="0.616" stop-color="#ffff00"/><stop offset="0.647" stop-color="#b7ff48"/><stop offset="0.682" stop-color="#80ff80"/><stop offset="0.706" stop-color="#5bffa4"/><stop offset="0.765" stop-color="#0dfff2"/><stop offset="0.774" stop-color="#00ffff"/><stop offset="0.824" stop-color="#00b9ff"/><stop offset="0.863" stop-color="#0080ff"/><stop offset="0.882" stop-color="#0063ff"/><stop offset="0.941" stop-color="#0010ff"/><stop offset="0.954" stop-color="#0000ff"/><stop offset="1" stop-color="#0000c4"/></linearGradient>
<linearGradient id="fa40"><stop offset="0" stop-color="#0000b1"/><stop offset="0.059" stop-color="#0000ee"/><stop offset="0.07" stop-color="#0000ff"/><stop offset="0.118" stop-color="#0044ff"/><stop offset="0.155" stop-color="#0080ff"/><stop offset="0.176" stop-color="#00a3ff"/><stop offset="0.235" stop-color="#00feff"/><stop offset="0.236" stop-color="#00ffff"/><stop offset="0.294" stop-color="#4bffb4"/><stop offset="0.33" stop-color="#80ff80"/><stop offset="0.353" stop-color="#a1ff5e"/><stop offset="0.395" stop-color="#ffff00"/><stop offset="0.412" stop-color="#ffdb00"/><stop offset="0.456" stop-color="#ff8000"/><stop offset="0.471" stop-color="#ff6200"/><stop offset="0.529" stop-color="#ff6200"/><stop offset="0.544" stop-color="#ff8000"/><stop offset="0.588" stop-color="#ffdb00"/><stop offset="0.605" stop-color="#ffff00"/><stop offset="0.647" stop-color="#a1ff5e"/><stop offset="0.67" stop-color="#80ff80"/><stop offset="0.706" stop-color="#4bffb4"/><stop offset="0.764" stop-color="#00ffff"/><stop offset="0.765" stop-color="#00feff"/><stop offset="0.824" stop-color="#00a3ff"/><stop offset="0.845" stop-color="#0080ff"/><stop offset="0.882" stop-color="#0044ff"/><stop offset="0.93" stop-color="#0000ff"/><stop offset="0.941" stop-color="#0000ee"/><stop offset="1" stop-color="#0000b1"/></linearGradient>
<linearGradient id="fa41"><stop offset="0" stop-color="#0000a2"/><stop offset="0.059" stop-color="#0000d3"/><stop offset="0.089" stop-color="#0000ff"/><stop offset="0.118" stop-color="#002aff"/><stop offset="0.167" stop-color="#0080ff"/><stop offset="0.176" stop-color="#0090ff"/><stop offset="0.235" stop-color="#00f2ff"/><stop offset="0.245" stop-color="#00ffff"/><stop offset="0.294" stop-color="#40ffbf"/><stop offset="0.341" stop-color="#80ff80"/><stop offset="0.353" stop-color="#90ff6f"/><stop offset="0.406" stop-color="#ffff00"/><stop offset="0.412" stop-color="#fff300"/><stop offset="0.47" stop-color="#ff8000"/><stop offset="0.471" stop-color="#ff7f00"/><stop offset="0.529" stop-color="#ff7f00"/><stop offset="0.53" stop-color="#ff8000"/><stop offset="0.588" stop-color="#fff300"/><stop offset="0.594" stop-color="#ffff00"/><stop offset="0.647" stop-color="#90ff6f"/><stop offset="0.659" stop-color="#80ff80"/><stop offset="0.706" stop-color="#40ffbf"/><stop offset="0.755" stop-color="#00ffff"/><stop offset="0.765" stop-color="#00f2ff"/><stop offset="0.824" stop-color="#0090ff"/><stop offset="0.833" stop-color="#0080ff"/><stop offset="0.882" stop-color="#002aff"/><stop offset="0.911" stop-color="#0000ff"/><stop offset="0.941" stop-color="#0000d3"/><stop offset="1" stop-color="#0000a2"/></linearGradient>
<linearGradient id="fa42"><stop offset="0" stop-color="#000098"/><stop offset="0.059" stop-color="#0000be"/><stop offset="0.103" stop-color="#0000ff"/><stop offset="0.118" stop-color="#0015ff"/><stop offset="0.176" stop-color="#0080ff"/><stop offset="0.176" stop-color="#0081ff"/><stop offset="0.235" stop-color="#00e9ff"/><stop offset="0.252" stop-color="#00ffff"/><stop offset="0.294" stop-color="#38ffc7"/><stop offset="0.349" stop-color="#80ff80"/><stop offset="0.353" stop-color="#85ff7a"/><stop offset="0.412" stop-color="#f8ff07"/><stop offset="0.416" stop-color="#ffff00"/><stop offset="0.471" stop-color="#ff9900"/><stop offset="0.529" stop-color="#ff9900"/><stop offset="0.584" stop-color="#ffff00"/><stop offset="0.588" stop-color="#f8ff07"/><stop offset="0.647" stop-color="#85ff7a"/><stop offset="0.651" stop-color="#80ff80"/><stop offset="0.706" stop-color="#38ffc7"/><stop offset="0.748" stop-color="#00ffff"/><stop offset="0.765" stop-color="#00e9ff"/><stop offset="0.824" stop-color="#0081ff"/><stop offset="0.824" stop-color="#0080ff"/><stop offset="0.882" stop-color="#0015ff"/><stop offset="0.897" stop-color="#0000ff"/><stop offset="0.941" stop-color="#0000be"/><stop offset="1" stop-color="#000098"/></linearGradient>
<linearGradient id="fa43"><stop offset="0" stop-color="#000092"/><stop offset="0.059" stop-color="#0000b2"/><stop offset="0.112" stop-color="#0000ff"/><stop offset="0.118" stop-color="#0008ff"/><stop offset="0.176" stop-color="#0077ff"/><stop offset="0.181" stop-color="#0080ff"/><stop offset="0.235" stop-color="#00e2ff"/><stop offset="0.256" stop-color="#00ffff"/><stop offset="0.294" stop-color="#34ffcb"/><stop offset="0.353" stop-color="#80ff80"/><stop offset="0.353" stop-color="#80ff7f"/><stop offset="0.412" stop-color="#ecff13"/><stop offset="0.423" stop-color="#ffff00"/><stop offset="0.471" stop-color="#ffae00"/><stop offset="0.529" stop-color="#ffae00"/><stop offset="0.577" stop-color="#ffff00"/><stop offset="0.588" stop-color="#ecff13"/><stop offset="0.647" stop-color="#80ff7f"/><stop offset="0.647" stop-color="#80ff80"/><stop offset="0.706" stop-color="#34ffcb"/><stop offset="0.744" stop-color="#00ffff"/><stop offset="0.765" stop-color="#00e2ff"/><stop offset="0.819" stop-color="#0080ff"/><stop offset="0.824" stop-color="#0077ff"/><stop offset="0.882" stop-color="#0008ff"/><stop offset="0.888" stop-color="#0000ff"/><stop offset="0.941" stop-color="#0000b2"/><stop offset="1" stop-color="#000092"/></linearGradient>
<linearGradient id="fa44"><stop offset="0" stop-color="#000090"/><stop offset="0.059" stop-color="#0000b2"/><stop offset="0.114" stop-color="#0000ff"/><stop offset="0.118" stop-color="#0005ff"/><stop offset="0.176" stop-color="#0071ff"/><stop offset="0.184" stop-color="#0080ff"/><stop offset="0.235" stop-color="#00dcff"/><stop offset="0.259" stop-color="#00ffff"/><stop offset="0.294" stop-color="#33ffcc"/><stop offset="0.35" stop-color="#80ff80"/><stop offset="0.353" stop-color="#83ff7c"/><stop offset="0.412" stop-color="#e9ff16"/><stop offset="0.426" stop-color="#ffff00"/><stop offset="0.471" stop-color="#ffbb00"/><stop offset="0.529" stop-color="#ffbb00"/><stop offset="0.574" stop-color="#ffff00"/><stop offset="0.588" stop-color="#e9ff16"/><stop offset="0.647" stop-color="#83ff7c"/><stop offset="0.65" stop-color="#80ff80"/><stop offset="0.706" stop-color="#33ffcc"/><stop offset="0.741" stop-color="#00ffff"/><stop offset="0.765" stop-color="#00dcff"/><stop offset="0.816" stop-color="#0080ff"/><stop offset="0.824" stop-color="#0071ff"/><stop offset="0.882" stop-color="#0005ff"/><stop offset="0.886" stop-color="#0000ff"/><stop offset="0.941" stop-color="#0000b2"/><stop offset="1" stop-color="#000090"/></linearGradient>
<linearGradient id="fa45"><stop offset="0" stop-color="#000094"/><stop offset="0.059" stop-color="#0000be"/><stop offset="0.107" stop-color="#0000ff"/><stop offset="0.118" stop-color="#000eff"/><stop offset="0.176" stop-color="#0071ff"/><stop offset="0.185" stop-color="#0080ff"/><stop offset="0.235" stop-color="#00d7ff"/><stop offset="0.26" stop-color="#00ffff"/><stop offset="0.294" stop-color="#35ffca"/><stop offset="0.343" stop-color="#80ff80"/><stop offset="0.353" stop-color="#8fff70"/><stop offset="0.412" stop-color="#f1ff0e"/><stop offset="0.422" stop-color="#ffff00"/><stop offset="0.471" stop-color="#ffbf00"/><stop offset="0.529" stop-color="#ffbf00"/><stop offset="0.578" stop-color="#ffff00"/><stop offset="0.588" stop-color="#f1ff0e"/><stop offset="0.647" stop-color="#8fff70"/><stop offset="0.657" stop-color="#80ff80"/><stop offset="0.706" stop-color="#35ffca"/><stop offset="0.74" stop-color="#00ffff"/><stop offset="0.765" stop-color="#00d7ff"/><stop offset="0.815" stop-color="#0080ff"/><stop offset="0.824" stop-color="#0071ff"/><stop offset="0.882" stop-color="#000eff"/><stop offset="0.893" stop-color="#0000ff"/><stop offset="0.941" stop-color="#0000be"/><stop offset="1" stop-color="#000094"/></linearGradient>
<linearGradient id="fa46"><stop offset="0" stop-color="#000094"/><stop offset="0.059" stop-color="#0000be"/><stop offset="0.107" stop-color="#0000ff"/><stop offset="0.118" stop-color="#000eff"/><stop offset="0.176" stop-color="#0071ff"/><stop offset="0.185" stop-color="#0080ff"/><stop offset="0.235" stop-color="#00d7ff"/><stop offset="0.26" stop-color="#00ffff"/><stop offset="0.294" stop-color="#35ffca"/><stop offset="0.343" stop-color="#80ff80"/><stop offset="0.353" stop-color="#8fff70"/><stop offset="0.412" stop-color="#f1ff0e"/><stop offset="0.422" stop-color="#ffff00"/><stop offset="0.471" stop-color="#ffbf00"/><stop offset="0.529" stop-color="#ffbf00"/><stop offset="0.578" stop-color="#ffff00"/><stop offset="0.588" stop-color="#f1ff0e"/><stop offset="0.647" stop-color="#8fff70"/><stop offset="0.657" stop-color="#80ff80"/><stop offset="0.706" stop-color="#35ffca"/><stop offset="0.74" stop-color="#00ffff"/><stop offset="0.765" stop-color="#00d7ff"/><stop offset="0.815" stop-color="#0080ff"/><stop offset="0.824" stop-color="#0071ff"/><stop offset="0.882" stop-color="#000eff"/><stop offset="0.893" stop-color="#0000ff"/><stop offset="0.941" stop-color="#0000be"/><stop offset="1" stop-color="#000094"/></linearGradient>
<linearGradient id="fa47"><stop offset="0" stop-color="#000094"/><stop offset="0.059" stop-color="#0000be"/><stop offset="0.107" stop-color="#0000ff"/><stop offset="0.118" stop-color="#000eff"/><stop offset="0.176" stop-color="#0071ff"/><stop offset="0.185" stop-color="#0080ff"/><stop offset="0.235" stop-color="#00d7ff"/><stop offset="0.26" stop-color="#00ffff"/><stop offset="0.294" stop-color="#35ffca"/><stop offset="0.343" stop-color="#80ff80"/><stop offset="0.353" stop-color="#8fff70"/><stop offset="0.412" stop-color="#f1ff0e"/><stop offset="0.422" stop-color="#ffff00"/><stop offset="0.471" stop-color="#ffbf00"/><stop offset="0.529" stop-color="#ffbf00"/><stop offset="0.578" stop-color="#ffff00"/><stop offset="0.588" stop-color="#f1ff0e"/><stop offset="0.647" stop-color="#8fff70"/><stop offset="0.657" stop-color="#80ff80"/><stop offset="0.706" stop-color="#35ffca"/><stop offset="0.74" stop-color="#00ffff"/><stop offset="0.765" stop-color="#00d7ff"/><stop offset="0.815" stop-color="#0080ff"/><stop offset="0.824" stop-color="#0071ff"/><stop offset="0.882" stop-color="#000eff"/><stop offset="0.893" stop-color="#0000ff"/><stop offset="0.941" stop-color="#0000be"/><stop offset="1" stop-color="#000094"/></linearGradient>
<linearGradient id="fa48"><stop offset="0" stop-color="#000094"/><stop offset="0.059" stop-color="#0000be"/><stop offset="0.107" stop-color="#0000ff"/><stop offset="0.118" stop-color="#000eff"/><stop offset="0.176" stop-color="#0071ff"/><stop offset="0.185" stop-color="#0080ff"/><stop offset="0.235" stop-color="#00d7ff"/><stop offset="0.26" stop-color="#00ffff"/><stop offset="0.294" stop-color="#35ffca"/><stop offset="0.343" stop-color="#80ff80"/><stop offset="0.353" stop-color="#8fff70"/><stop offset="0.412" stop-color="#f1ff0e"/><stop offset="0.422" stop-color="#ffff00"/><stop offset="0.471" stop-color="#ffbf00"/><stop offset="0.529" stop-color="#ffbf00"/><stop offset="0.578" stop-color="#ffff00"/><stop offset="0.588" stop-color="#f1ff0e"/><stop offset="0.647" stop-color="#8fff70"/><stop offset="0.657" stop-color="#80ff80"/><stop offset="0.706" stop-color="#35ffca"/><stop offset="0.74" stop-color="#00ffff"/><stop offset="0.765" stop-color="#00d7ff"/><stop offset="0.815" stop-color="#0080ff"/><stop offset="0.824" stop-color="#0071ff"/><stop offset="0.882" stop-color="#000eff"/><stop offset="0.893" stop-color="#0000ff"/><stop offset="0.941" stop-color="#0000be"/><stop offset="1" stop-color="#000094"/></linearGradient>
<linearGradient id="s1" x1="0" y1="0" x2="0" y2="1"><stop offset="0" stop-color="#00f0ff"/><stop offset="1" stop-color="#80ff80" stop-opacity="0"/></linearGradient>
<linearGradient id="k1" x1="0" y1="0" x2="1" y2="0"><stop offset="0" stop-color="#fff"/><stop offset="1" stop-color="#000"/></linearGradient>
<mask id="mk1" maskContentUnits="objectBoundingBox"><rect width="1" height="1" fill="url(#k1)"/></mask>
<clipPath id="clb"><rect x="867" y="2418.5" width="349.4" height="308.8"/></clipPath>
<linearGradient id="fb0"><stop offset="0" stop-color="#80ff7f"/><stop offset="0" stop-color="#80ff80"/><stop offset="0.059" stop-color="#71ff8e"/><stop offset="0.118" stop-color="#63ff9c"/><stop offset="0.176" stop-color="#52ffad"/><stop offset="0.235" stop-color="#44ffbb"/><stop offset="0.294" stop-color="#43ffbc"/><stop offset="0.353" stop-color="#4fffb0"/><stop offset="0.412" stop-color="#67ff98"/><stop offset="0.46" stop-color="#80ff80"/><stop offset="0.471" stop-color="#85ff7a"/><stop offset="0.529" stop-color="#a1ff5e"/><stop offset="0.588" stop-color="#b9ff46"/><stop offset="0.647" stop-color="#cfff30"/><stop offset="0.706" stop-color="#e0ff1f"/><stop offset="0.765" stop-color="#e5ff1a"/><stop offset="0.824" stop-color="#ddff22"/><stop offset="0.882" stop-color="#d0ff2f"/><stop offset="0.941" stop-color="#c3ff3c"/><stop offset="1" stop-color="#a8ff57"/></linearGradient>
<linearGradient id="fb1"><stop offset="0" stop-color="#80ff7f"/><stop offset="0" stop-color="#80ff80"/><stop offset="0.059" stop-color="#71ff8e"/><stop offset="0.118" stop-color="#63ff9c"/><stop offset="0.176" stop-color="#52ffad"/><stop offset="0.235" stop-color="#44ffbb"/><stop offset="0.294" stop-color="#43ffbc"/><stop offset="0.353" stop-color="#4fffb0"/><stop offset="0.412" stop-color="#67ff98"/><stop offset="0.46" stop-color="#80ff80"/><stop offset="0.471" stop-color="#85ff7a"/><stop offset="0.529" stop-color="#a1ff5e"/><stop offset="0.588" stop-color="#b9ff46"/><stop offset="0.647" stop-color="#cfff30"/><stop offset="0.706" stop-color="#e0ff1f"/><stop offset="0.765" stop-color="#e5ff1a"/><stop offset="0.824" stop-color="#ddff22"/><stop offset="0.882" stop-color="#d0ff2f"/><stop offset="0.941" stop-color="#c3ff3c"/><stop offset="1" stop-color="#a8ff57"/></linearGradient>
<linearGradient id="fb2"><stop offset="0" stop-color="#80ff7f"/><stop offset="0" stop-color="#80ff80"/><stop offset="0.059" stop-color="#6fff90"/><stop offset="0.118" stop-color="#60ff9f"/><stop offset="0.176" stop-color="#4fffb0"/><stop offset="0.235" stop-color="#41ffbe"/><stop offset="0.294" stop-color="#40ffbf"/><stop offset="0.353" stop-color="#4cffb3"/><stop offset="0.412" stop-color="#65ff9a"/><stop offset="0.461" stop-color="#80ff80"/><stop offset="0.471" stop-color="#84ff7b"/><stop offset="0.529" stop-color="#a2ff5d"/><stop offset="0.588" stop-color="#bbff44"/><stop offset="0.647" stop-color="#d0ff2f"/><stop offset="0.706" stop-color="#e1ff1e"/><stop offset="0.765" stop-color="#e6ff19"/><stop offset="0.824" stop-color="#ddff22"/><stop offset="0.882" stop-color="#d1ff2e"/><stop offset="0.941" stop-color="#c4ff3b"/><stop offset="1" stop-color="#aaff55"/></linearGradient>
<linearGradient id="fb3"><stop offset="0" stop-color="#80ff7f"/><stop offset="0" stop-color="#80ff80"/><stop offset="0.059" stop-color="#6dff92"/><stop offset="0.118" stop-color="#5bffa4"/><stop offset="0.176" stop-color="#49ffb6"/><stop offset="0.235" stop-color="#3bffc4"/><stop offset="0.294" stop-color="#3affc5"/><stop offset="0.353" stop-color="#47ffb8"/><stop offset="0.412" stop-color="#62ff9d"/><stop offset="0.464" stop-color="#80ff80"/><stop offset="0.471" stop-color="#83ff7c"/><stop offset="0.529" stop-color="#a3ff5c"/><stop offset="0.588" stop-color="#beff41"/><stop offset="0.647" stop-color="#d4ff2b"/><stop offset="0.706" stop-color="#e4ff1b"/><stop offset="0.765" stop-color="#e9ff16"/><stop offset="0.824" stop-color="#e0ff1f"/><stop offset="0.882" stop-color="#d4ff2b"/><stop offset="0.941" stop-color="#c7ff38"/><stop offset="1" stop-color="#adff52"/></linearGradient>
<linearGradient id="fb4"><stop offset="0" stop-color="#80ff7f"/><stop offset="0" stop-color="#80ff80"/><stop offset="0.059" stop-color="#6aff95"/><stop offset="0.118" stop-color="#56ffa9"/><stop offset="0.176" stop-color="#42ffbd"/><stop offset="0.235" stop-color="#34ffcb"/><stop offset="0.294" stop-color="#33ffcc"/><stop offset="0.353" stop-color="#41ffbe"/><stop offset="0.412" stop-color="#5effa1"/><stop offset="0.467" stop-color="#80ff80"/><stop offset="0.471" stop-color="#82ff7d"/><stop offset="0.529" stop-color="#a4ff5b"/><stop offset="0.588" stop-color="#c0ff3f"/><stop offset="0.647" stop-color="#d8ff27"/><stop offset="0.706" stop-color="#e9ff16"/><stop offset="0.765" stop-color="#edff12"/><stop offset="0.824" stop-color="#e4ff1b"/><stop offset="0.882" stop-color="#d7ff28"/><stop offset="0.941" stop-color="#c9ff36"/><stop offset="1" stop-color="#afff50"/></linearGradient>
<linearGradient id="fb5"><stop offset="0" stop-color="#80ff7f"/><stop offset="0" stop-color="#80ff80"/><stop offset="0.059" stop-color="#67ff98"/><stop offset="0.118" stop-color="#51ffae"/><stop offset="0.176" stop-color="#3bffc4"/><stop offset="0.235" stop-color="#2dffd2"/><stop offset="0.294" stop-color="#2cffd3"/><stop offset="0.353" stop-color="#3bffc4"/><stop offset="0.412" stop-color="#5affa5"/><stop offset="0.469" stop-color="#80ff80"/><stop offset="0.471" stop-color="#81ff7e"/><stop offset="0.529" stop-color="#a5ff5a"/><stop offset="0.588" stop-color="#c3ff3c"/><stop offset="0.647" stop-color="#dcff23"/><stop offset="0.706" stop-color="#eeff11"/><stop offset="0.765" stop-color="#f3ff0c"/><stop offset="0.824" stop-color="#eaff15"/><stop offset="0.882" stop-color="#dbff24"/><stop offset="0.941" stop-color="#cbff34"/><stop offset="1" stop-color="#b0ff4f"/></linearGradient>
<linearGradient id="fb6"><stop offset="0" stop-color="#80ff80"/><stop offset="0.059" stop-color="#65ff9a"/><stop offset="0.118" stop-color="#4bffb4"/><stop offset="0.176" stop-color="#34ffcb"/><stop offset="0.235" stop-color="#25ffda"/><stop offset="0.294" stop-color="#24ffdb"/><stop offset="0.353" stop-color="#34ffcb"/><stop offset="0.412" stop-color="#55ffaa"/><stop offset="0.471" stop-color="#7fff80"/><stop offset="0.471" stop-color="#80ff80"/><stop offset="0.529" stop-color="#a6ff59"/><stop offset="0.588" stop-color="#c6ff39"/><stop offset="0.647" stop-color="#e1ff1e"/><stop offset="0.706" stop-color="#f5ff0a"/><stop offset="0.765" stop-color="#fbff04"/><stop offset="0.824" stop-color="#f0ff0f"/><stop offset="0.882" stop-color="#dfff20"/><stop offset="0.941" stop-color="#cdff32"/><stop offset="1" stop-color="#b2ff4d"/></linearGradient>
<linearGradient id="fb7"><stop offset="0" stop-color="#80ff7f"/><stop offset="0" stop-color="#80ff80"/><stop offset="0.059" stop-color="#62ff9d"/><stop offset="0.118" stop-color="#46ffb9"/><stop offset="0.176" stop-color="#2dffd2"/><stop offset="0.235" stop-color="#1cffe3"/><stop offset="0.294" stop-color="#1bffe4"/><stop offset="0.353" stop-color="#2dffd2"/><stop offset="0.412" stop-color="#51ffae"/><stop offset="0.471" stop-color="#7eff81"/><stop offset="0.473" stop-color="#80ff80"/><stop offset="0.529" stop-color="#a7ff58"/><stop offset="0.588" stop-color="#c9ff36"/><stop offset="0.647" stop-color="#e6ff19"/><stop offset="0.706" stop-color="#fcff03"/><stop offset="0.729" stop-color="#ffff00"/><stop offset="0.765" stop-color="#fffb00"/><stop offset="0.785" stop-color="#ffff00"/><stop offset="0.824" stop-color="#f7ff08"/><stop offset="0.882" stop-color="#e3ff1c"/><stop offset="0.941" stop-color="#ceff31"/><stop offset="1" stop-color="#b2ff4d"/></linearGradient>
<linearGradient id="fb8"><stop offset="0" stop-color="#80ff7f"/><stop offset="0" stop-color="#80ff80"/><stop offset="0.059" stop-color="#5fffa0"/><stop offset="0.118" stop-color="#41ffbe"/><stop offset="0.176" stop-color="#25ffda"/><stop offset="0.235" stop-color="#13ffec"/><stop offset="0.294" stop-color="#12ffed"/><stop offset="0.353" stop-color="#25ffda"/><stop offset="0.412" stop-color="#4cffb3"/><stop offset="0.471" stop-color="#7dff82"/><stop offset="0.474" stop-color="#80ff80"/><stop offset="0.529" stop-color="#a9ff56"/><stop offset="0.588" stop-color="#cbff34"/><stop offset="0.647" stop-color="#ebff14"/><stop offset="0.693" stop-color="#ffff00"/><stop offset="0.706" stop-color="#fff900"/><stop offset="0.765" stop-color="#fff100"/><stop offset="0.821" stop-color="#ffff00"/><stop offset="0.824" stop-color="#feff01"/><stop offset="0.882" stop-color="#e7ff18"/><stop offset="0.941" stop-color="#d0ff2f"/><stop offset="1" stop-color="#b3ff4c"/></linearGradient>
<linearGradient id="fb9"><stop offset="0" stop-color="#80ff7f"/><stop offset="0" stop-color="#80ff80"/><stop offset="0.059" stop-color="#5dffa2"/><stop offset="0.118" stop-color="#3bffc4"/><stop offset="0.176" stop-color="#1dffe2"/><stop offset="0.235" stop-color="#09fff6"/><stop offset="0.294" stop-color="#09fff6"/><stop offset="0.353" stop-color="#1effe1"/><stop offset="0.412" stop-color="#47ffb8"/><stop offset="0.471" stop-color="#7bff84"/><stop offset="0.476" stop-color="#80ff80"/><stop offset="0.529" stop-color="#aaff55"/><stop offset="0.588" stop-color="#ceff31"/><stop offset="0.647" stop-color="#f0ff0f"/><stop offset="0.677" stop-color="#ffff00"/><stop offset="0.706" stop-color="#fff000"/><stop offset="0.765" stop-color="#ffe700"/><stop offset="0.824" stop-color="#fff800"/><stop offset="0.84" stop-color="#ffff00"/><stop offset="0.882" stop-color="#ebff14"/><stop offset="0.941" stop-color="#d2ff2d"/><stop offset="1" stop-color="#b3ff4c"/></linearGradient>
<linearGradient id="fb10"><stop offset="0" stop-color="#80ff7f"/><stop offset="0" stop-color="#80ff80"/><stop offset="0.059" stop-color="#5affa5"/><stop offset="0.118" stop-color="#36ffc9"/><stop offset="0.176" stop-color="#14ffeb"/><stop offset="0.233" stop-color="#00ffff"/><stop offset="0.235" stop-color="#00feff"/><stop offset="0.294" stop-color="#00feff"/><stop offset="0.298" stop-color="#00ffff"/><stop offset="0.353" stop-color="#15ffea"/><stop offset="0.412" stop-color="#42ffbd"/><stop offset="0.471" stop-color="#7aff85"/><stop offset="0.478" stop-color="#80ff80"/><stop offset="0.529" stop-color="#abff54"/><stop offset="0.588" stop-color="#d1ff2e"/><stop offset="0.647" stop-color="#f6ff09"/><stop offset="0.663" stop-color="#ffff00"/><stop offset="0.706" stop-color="#ffe700"/><stop offset="0.765" stop-color="#ffdd00"/><stop offset="0.824" stop-color="#ffef00"/><stop offset="0.853" stop-color="#ffff00"/><stop offset="0.882" stop-color="#f0ff0f"/><stop offset="0.941" stop-color="#d3ff2c"/><stop offset="1" stop-color="#b3ff4c"/></linearGradient>
<linearGradient id="fb11"><stop offset="0" stop-color="#80ff7f"/><stop offset="0" stop-color="#80ff80"/><stop offset="0.059" stop-color="#58ffa7"/><stop offset="0.118" stop-color="#30ffcf"/><stop offset="0.176" stop-color="#0cfff3"/><stop offset="0.207" stop-color="#00ffff"/><stop offset="0.235" stop-color="#00f4ff"/><stop offset="0.294" stop-color="#00f3ff"/><stop offset="0.323" stop-color="#00ffff"/><stop offset="0.353" stop-color="#0cfff3"/><stop offset="0.412" stop-color="#3dffc2"/><stop offset="0.471" stop-color="#78ff87"/><stop offset="0.479" stop-color="#80ff80"/><stop offset="0.529" stop-color="#acff53"/><stop offset="0.588" stop-color="#d4ff2b"/><stop offset="0.647" stop-color="#fcff03"/><stop offset="0.652" stop-color="#ffff00"/><stop offset="0.706" stop-color="#ffde00"/><stop offset="0.765" stop-color="#ffd200"/><stop offset="0.824" stop-color="#ffe700"/><stop offset="0.864" stop-color="#ffff00"/><stop offset="0.882" stop-color="#f4ff0b"/><stop offset="0.941" stop-color="#d4ff2b"/><stop offset="1" stop-color="#b3ff4c"/></linearGradient>
<linearGradient id="fb12"><stop offset="0" stop-color="#80ff7f"/><stop offset="0" stop-color="#80ff80"/><stop offset="0.059" stop-color="#56ffa9"/><stop offset="0.118" stop-color="#2affd5"/><stop offset="0.176" stop-color="#03fffc"/><stop offset="0.184" stop-color="#00ffff"/><stop offset="0.235" stop-color="#00e9ff"/><stop offset="0.294" stop-color="#00e8ff"/><stop offset="0.345" stop-color="#00ffff"/><stop offset="0.353" stop-color="#04fffb"/><stop offset="0.412" stop-color="#37ffc8"/><stop offset="0.471" stop-color="#77ff88"/><stop offset="0.48" stop-color="#80ff80"/><stop offset="0.529" stop-color="#adff52"/><stop offset="0.588" stop-color="#d7ff28"/><stop offset="0.643" stop-color="#ffff00"/><stop offset="0.647" stop-color="#fffc00"/><stop offset="0.706" stop-color="#ffd400"/><stop offset="0.765" stop-color="#ffc700"/><stop offset="0.824" stop-color="#ffdf00"/><stop offset="0.872" stop-color="#ffff00"/><stop offset="0.882" stop-color="#f8ff07"/><stop offset="0.941" stop-color="#d6ff29"/><stop offset="1" stop-color="#b3ff4c"/></linearGradient>
<linearGradient id="fb13"><stop offset="0" stop-color="#80ff7f"/><stop offset="0" stop-color="#80ff80"/><stop offset="0.059" stop-color="#53ffac"/><stop offset="0.118" stop-color="#24ffdb"/><stop offset="0.168" stop-color="#00ffff"/><stop offset="0.176" stop-color="#00f9ff"/><stop offset="0.235" stop-color="#00deff"/><stop offset="0.294" stop-color="#00ddff"/><stop offset="0.353" stop-color="#00f9ff"/><stop offset="0.359" stop-color="#00ffff"/><stop offset="0.412" stop-color="#31ffce"/><stop offset="0.471" stop-color="#75ff8a"/><stop offset="0.482" stop-color="#80ff80"/><stop offset="0.529" stop-color="#aeff51"/><stop offset="0.588" stop-color="#daff25"/><stop offset="0.636" stop-color="#ffff00"/><stop offset="0.647" stop-color="#fff600"/><stop offset="0.706" stop-color="#ffca00"/><stop offset="0.765" stop-color="#ffbc00"/><stop offset="0.824" stop-color="#ffd800"/><stop offset="0.878" stop-color="#ffff00"/><stop offset="0.882" stop-color="#fcff03"/><stop offset="0.941" stop-color="#d7ff28"/><stop offset="1" stop-color="#b3ff4c"/></linearGradient>
<linearGradient id="fb14"><stop offset="0" stop-color="#80ff7f"/><stop offset="0" stop-color="#80ff80"/><stop offset="0.059" stop-color="#51ffae"/><stop offset="0.118" stop-color="#1fffe0"/><stop offset="0.157" stop-color="#00ffff"/><stop offset="0.176" stop-color="#00f0ff"/><stop offset="0.235" stop-color="#00d3ff"/><stop offset="0.294" stop-color="#00d2ff"/><stop offset="0.353" stop-color="#00f0ff"/><stop offset="0.368" stop-color="#00ffff"/><stop offset="0.412" stop-color="#2bffd4"/><stop offset="0.471" stop-color="#73ff8c"/><stop offset="0.483" stop-color="#80ff80"/><stop offset="0.529" stop-color="#b0ff4f"/><stop offset="0.588" stop-color="#deff21"/><stop offset="0.629" stop-color="#ffff00"/><stop offset="0.647" stop-color="#fff000"/><stop offset="0.706" stop-color="#ffc100"/><stop offset="0.765" stop-color="#ffb200"/><stop offset="0.824" stop-color="#ffd000"/><stop offset="0.882" stop-color="#ffff00"/><stop offset="0.883" stop-color="#ffff00"/><stop offset="0.941" stop-color="#d8ff27"/><stop offset="1" stop-color="#b2ff4d"/></linearGradient>
<linearGradient id="fb15"><stop offset="0" stop-color="#80ff7f"/><stop offset="0" stop-color="#80ff80"/><stop offset="0.059" stop-color="#4fffb0"/><stop offset="0.118" stop-color="#19ffe6"/><stop offset="0.147" stop-color="#00ffff"/><stop offset="0.176" stop-color="#00e7ff"/><stop offset="0.235" stop-color="#00c7ff"/><stop offset="0.294" stop-color="#00c6ff"/><stop offset="0.353" stop-color="#00e6ff"/><stop offset="0.376" stop-color="#00ffff"/><stop offset="0.412" stop-color="#25ffda"/><stop offset="0.471" stop-color="#71ff8e"/><stop offset="0.484" stop-color="#80ff80"/><stop offset="0.529" stop-color="#b1ff4e"/><stop offset="0.588" stop-color="#e1ff1e"/><stop offset="0.623" stop-color="#ffff00"/><stop offset="0.647" stop-color="#ffea00"/><stop offset="0.706" stop-color="#ffb800"/><stop offset="0.765" stop-color="#ffa800"/><stop offset="0.824" stop-color="#ffca00"/><stop offset="0.882" stop-color="#fffc00"/><stop offset="0.887" stop-color="#ffff00"/><stop offset="0.941" stop-color="#d9ff26"/><stop offset="1" stop-color="#b2ff4d"/></linearGradient>
<linearGradient id="fb16"><stop offset="0" stop-color="#80ff7f"/><stop offset="0" stop-color="#80ff80"/><stop offset="0.059" stop-color="#4cffb3"/><stop offset="0.118" stop-color="#13ffec"/><stop offset="0.139" stop-color="#00ffff"/><stop offset="0.176" stop-color="#00ddff"/><stop offset="0.235" stop-color="#00bbff"/><stop offset="0.294" stop-color="#00baff"/><stop offset="0.353" stop-color="#00dcff"/><stop offset="0.384" stop-color="#00ffff"/><stop offset="0.412" stop-color="#1fffe0"/><stop offset="0.471" stop-color="#6fff90"/><stop offset="0.485" stop-color="#80ff80"/><stop offset="0.529" stop-color="#b2ff4d"/><stop offset="0.588" stop-color="#e5ff1a"/><stop offset="0.617" stop-color="#ffff00"/><stop offset="0.647" stop-color="#ffe300"/><stop offset="0.706" stop-color="#ffaf00"/><stop offset="0.765" stop-color="#ff9f00"/><stop offset="0.824" stop-color="#ffc400"/><stop offset="0.882" stop-color="#fff900"/><stop offset="0.89" stop-color="#ffff00"/><stop offset="0.941" stop-color="#daff25"/><stop offset="1" stop-color="#b2ff4d"/></linearGradient>
<linearGradient id="fb17"><stop offset="0" stop-color="#80ff80"/><stop offset="0.059" stop-color="#4affb5"/><stop offset="0.118" stop-color="#0dfff2"/><stop offset="0.132" stop-color="#00ffff"/><stop offset="0.176" stop-color="#00d4ff"/><stop offset="0.235" stop-color="#00afff"/><stop offset="0.294" stop-color="#00adff"/><stop offset="0.353" stop-color="#00d2ff"/><stop offset="0.391" stop-color="#00ffff"/><stop offset="0.412" stop-color="#19ffe6"/><stop offset="0.471" stop-color="#6dff92"/><stop offset="0.486" stop-color="#80ff80"/><stop offset="0.529" stop-color="#b4ff4b"/><stop offset="0.588" stop-color="#e9ff16"/><stop offset="0.611" stop-color="#ffff00"/><stop offset="0.647" stop-color="#ffdd00"/><stop offset="0.706" stop-color="#ffa600"/><stop offset="0.765" stop-color="#ff9700"/><stop offset="0.824" stop-color="#ffbe00"/><stop offset="0.882" stop-color="#fff700"/><stop offset="0.893" stop-color="#ffff00"/><stop offset="0.941" stop-color="#dbff24"/><stop offset="1" stop-color="#b2ff4d"/></linearGradient>
<linearGradient id="fb18"><stop offset="0" stop-color="#80ff7f"/><stop offset="0" stop-color="#80ff80"/><stop offset="0.059" stop-color="#48ffb7"/><stop offset="0.118" stop-color="#08fff7"/><stop offset="0.125" stop-color="#00ffff"/><stop offset="0.176" stop-color="#00cbff"/><stop offset="0.235" stop-color="#00a3ff"/><stop offset="0.294" stop-color="#00a1ff"/><stop offset="0.353" stop-color="#00c8ff"/><stop offset="0.397" stop-color="#00ffff"/><stop offset="0.412" stop-color="#12ffed"/><stop offset="0.471" stop-color="#6bff94"/><stop offset="0.487" stop-color="#80ff80"/><stop offset="0.529" stop-color="#b5ff4a"/><stop offset="0.588" stop-color="#eeff11"/><stop offset="0.606" stop-color="#ffff00"/><stop offset="0.647" stop-color="#ffd600"/><stop offset="0.706" stop-color="#ff9d00"/><stop offset="0.765" stop-color="#ff8e00"/><stop offset="0.824" stop-color="#ffb900"/><stop offset="0.882" stop-color="#fff400"/><stop offset="0.896" stop-color="#ffff00"/><stop offset="0.941" stop-color="#dcff23"/><stop offset="1" stop-color="#b2ff4d"/></linearGradient>
<linearGradient id="fb19"><stop offset="0" stop-color="#7fff80"/><stop offset="0.059" stop-color="#45ffba"/><stop offset="0.118" stop-color="#02fffd"/><stop offset="0.12" stop-color="#00ffff"/><stop offset="0.176" stop-color="#00c2ff"/><stop offset="0.235" stop-color="#0097ff"/><stop offset="0.294" stop-color="#0095ff"/><stop offset="0.353" stop-color="#00bdff"/><stop offset="0.403" stop-color="#00ffff"/><stop offset="0.412" stop-color="#0bfff4"/><stop offset="0.471" stop-color="#69ff96"/><stop offset="0.488" stop-color="#80ff80"/><stop offset="0.529" stop-color="#b7ff48"/><stop offset="0.588" stop-color="#f2ff0d"/><stop offset="0.6" stop-color="#ffff00"/><stop offset="0.647" stop-color="#ffcf00"/><stop offset="0.706" stop-color="#ff9400"/><stop offset="0.765" stop-color="#ff8600"/><stop offset="0.824" stop-color="#ffb300"/><stop offset="0.882" stop-color="#fff200"/><stop offset="0.899" stop-color="#ffff00"/><stop offset="0.941" stop-color="#ddff22"/><stop offset="1" stop-color="#b2ff4d"/></linearGradient>
<linearGradient id="fb20"><stop offset="0" stop-color="#7fff80"/><stop offset="0.059" stop-color="#43ffbc"/><stop offset="0.115" stop-color="#00ffff"/><stop offset="0.118" stop-color="#00fcff"/><stop offset="0.176" stop-color="#00b9ff"/><stop offset="0.235" stop-color="#008cff"/><stop offset="0.294" stop-color="#0089ff"/><stop offset="0.353" stop-color="#00b3ff"/><stop offset="0.408" stop-color="#00ffff"/><stop offset="0.412" stop-color="#05fffa"/><stop offset="0.471" stop-color="#67ff98"/><stop offset="0.488" stop-color="#80ff80"/><stop offset="0.529" stop-color="#baff45"/><stop offset="0.588" stop-color="#f8ff07"/><stop offset="0.595" stop-color="#ffff00"/><stop offset="0.647" stop-color="#ffc700"/><stop offset="0.706" stop-color="#ff8b00"/><stop offset="0.758" stop-color="#ff8000"/><stop offset="0.765" stop-color="#ff7e00"/><stop offset="0.767" stop-color="#ff8000"/><stop offset="0.824" stop-color="#ffae00"/><stop offset="0.882" stop-color="#ffef00"/><stop offset="0.902" stop-color="#ffff00"/><stop offset="0.941" stop-color="#deff21"/><stop offset="1" stop-color="#b2ff4d"/></linearGradient>
<linearGradient id="fb21"><stop offset="0" stop-color="#80ff80"/><stop offset="0.059" stop-color="#40ffbf"/><stop offset="0.111" stop-color="#00ffff"/><stop offset="0.118" stop-color="#00f7ff"/><stop offset="0.176" stop-color="#00b1ff"/><stop offset="0.235" stop-color="#0081ff"/><stop offset="0.255" stop-color="#0080ff"/><stop offset="0.294" stop-color="#007dff"/><stop offset="0.298" stop-color="#0080ff"/><stop offset="0.353" stop-color="#00a8ff"/><stop offset="0.412" stop-color="#00fcff"/><stop offset="0.413" stop-color="#00ffff"/><stop offset="0.471" stop-color="#65ff9a"/><stop offset="0.489" stop-color="#80ff80"/><stop offset="0.529" stop-color="#bcff43"/><stop offset="0.588" stop-color="#feff01"/><stop offset="0.589" stop-color="#ffff00"/><stop offset="0.647" stop-color="#ffbf00"/><stop offset="0.706" stop-color="#ff8200"/><stop offset="0.719" stop-color="#ff8000"/><stop offset="0.765" stop-color="#ff7600"/><stop offset="0.776" stop-color="#ff8000"/><stop offset="0.824" stop-color="#ffa800"/><stop offset="0.882" stop-color="#ffec00"/><stop offset="0.905" stop-color="#ffff00"/><stop offset="0.941" stop-color="#dfff20"/><stop offset="1" stop-color="#b3ff4c"/></linearGradient>
<linearGradient id="fb22"><stop offset="0" stop-color="#80ff80"/><stop offset="0.059" stop-color="#3effc1"/><stop offset="0.108" stop-color="#00ffff"/><stop offset="0.118" stop-color="#00f2ff"/><stop offset="0.176" stop-color="#00a9ff"/><stop offset="0.225" stop-color="#0080ff"/><stop offset="0.235" stop-color="#0076ff"/><stop offset="0.294" stop-color="#0071ff"/><stop offset="0.314" stop-color="#0080ff"/><stop offset="0.353" stop-color="#009dff"/><stop offset="0.412" stop-color="#00f5ff"/><stop offset="0.417" stop-color="#00ffff"/><stop offset="0.471" stop-color="#62ff9d"/><stop offset="0.489" stop-color="#80ff80"/><stop offset="0.529" stop-color="#bfff40"/><stop offset="0.584" stop-color="#ffff00"/><stop offset="0.588" stop-color="#fffa00"/><stop offset="0.647" stop-color="#ffb600"/><stop offset="0.7" stop-color="#ff8000"/><stop offset="0.706" stop-color="#ff7900"/><stop offset="0.765" stop-color="#ff6d00"/><stop offset="0.785" stop-color="#ff8000"/><stop offset="0.824" stop-color="#ffa200"/><stop offset="0.882" stop-color="#ffe800"/><stop offset="0.908" stop-color="#ffff00"/><stop offset="0.941" stop-color="#e1ff1e"/><stop offset="1" stop-color="#b3ff4c"/></linearGradient>
<linearGradient id="fb23"><stop offset="0" stop-color="#80ff80"/><stop offset="0.059" stop-color="#3bffc4"/><stop offset="0.104" stop-color="#00ffff"/><stop offset="0.118" stop-color="#00eeff"/><stop offset="0.176" stop-color="#00a2ff"/><stop offset="0.214" stop-color="#0080ff"/><stop offset="0.235" stop-color="#006cff"/><stop offset="0.294" stop-color="#0065ff"/><stop offset="0.329" stop-color="#0080ff"/><stop offset="0.353" stop-color="#0092ff"/><stop offset="0.412" stop-color="#00edff"/><stop offset="0.421" stop-color="#00ffff"/><stop offset="0.471" stop-color="#60ff9f"/><stop offset="0.489" stop-color="#80ff80"/><stop offset="0.529" stop-color="#c2ff3d"/><stop offset="0.578" stop-color="#ffff00"/><stop offset="0.588" stop-color="#fff300"/><stop offset="0.647" stop-color="#ffad00"/><stop offset="0.69" stop-color="#ff8000"/><stop offset="0.706" stop-color="#ff6f00"/><stop offset="0.765" stop-color="#ff6500"/><stop offset="0.794" stop-color="#ff8000"/><stop offset="0.824" stop-color="#ff9b00"/><stop offset="0.882" stop-color="#ffe400"/><stop offset="0.911" stop-color="#ffff00"/><stop offset="0.941" stop-color="#e2ff1d"/><stop offset="1" stop-color="#b3ff4c"/></linearGradient>
<linearGradient id="fb24"><stop offset="0" stop-color="#7fff80"/><stop offset="0.059" stop-color="#39ffc6"/><stop offset="0.102" stop-color="#00ffff"/><stop offset="0.118" stop-color="#00e9ff"/><stop offset="0.176" stop-color="#009bff"/><stop offset="0.205" stop-color="#0080ff"/><stop offset="0.235" stop-color="#0062ff"/><stop offset="0.294" stop-color="#0059ff"/><stop offset="0.344" stop-color="#0080ff"/><stop offset="0.353" stop-color="#0087ff"/><stop offset="0.412" stop-color="#00e6ff"/><stop offset="0.424" stop-color="#00ffff"/><stop offset="0.471" stop-color="#5effa1"/><stop offset="0.49" stop-color="#80ff80"/><stop offset="0.529" stop-color="#c5ff3a"/><stop offset="0.573" stop-color="#ffff00"/><stop offset="0.588" stop-color="#ffeb00"/><stop offset="0.647" stop-color="#ffa300"/><stop offset="0.681" stop-color="#ff8000"/><stop offset="0.706" stop-color="#ff6600"/><stop offset="0.765" stop-color="#ff5c00"/><stop offset="0.802" stop-color="#ff8000"/><stop offset="0.824" stop-color="#ff9500"/><stop offset="0.882" stop-color="#ffe000"/><stop offset="0.914" stop-color="#ffff00"/><stop offset="0.941" stop-color="#e4ff1b"/><stop offset="1" stop-color="#b3ff4c"/></linearGradient>
<linearGradient id="fb25"><stop offset="0" stop-color="#80ff7f"/><stop offset="0" stop-color="#80ff80"/><stop offset="0.059" stop-color="#37ffc8"/><stop offset="0.099" stop-color="#00ffff"/><stop offset="0.118" stop-color="#00e5ff"/><stop offset="0.176" stop-color="#0094ff"/><stop offset="0.197" stop-color="#0080ff"/><stop offset="0.235" stop-color="#0059ff"/><stop offset="0.294" stop-color="#004eff"/><stop offset="0.353" stop-color="#007bff"/><stop offset="0.356" stop-color="#0080ff"/><stop offset="0.412" stop-color="#00ddff"/><stop offset="0.428" stop-color="#00ffff"/><stop offset="0.471" stop-color="#5bffa4"/><stop offset="0.49" stop-color="#80ff80"/><stop offset="0.529" stop-color="#c8ff37"/><stop offset="0.569" stop-color="#ffff00"/><stop offset="0.588" stop-color="#ffe400"/><stop offset="0.647" stop-color="#ff9900"/><stop offset="0.672" stop-color="#ff8000"/><stop offset="0.706" stop-color="#ff5c00"/><stop offset="0.765" stop-color="#ff5400"/><stop offset="0.809" stop-color="#ff8000"/><stop offset="0.824" stop-color="#ff8e00"/><stop offset="0.882" stop-color="#ffdc00"/><stop offset="0.916" stop-color="#ffff00"/><stop offset="0.941" stop-color="#e5ff1a"/><stop offset="1" stop-color="#b3ff4c"/></linearGradient>
<linearGradient id="fb26"><stop offset="0" stop-color="#80ff7f"/><stop offset="0" stop-color="#80ff80"/><stop offset="0.059" stop-color="#35ffca"/><stop offset="0.097" stop-color="#00ffff"/><stop offset="0.118" stop-color="#00e1ff"/><stop offset="0.176" stop-color="#008dff"/><stop offset="0.189" stop-color="#0080ff"/><stop offset="0.235" stop-color="#004fff"/><stop offset="0.294" stop-color="#0042ff"/><stop offset="0.353" stop-color="#006fff"/><stop offset="0.362" stop-color="#0080ff"/><stop offset="0.412" stop-color="#00d5ff"/><stop offset="0.431" stop-color="#00ffff"/><stop offset="0.471" stop-color="#58ffa7"/><stop offset="0.491" stop-color="#80ff80"/><stop offset="0.529" stop-color="#cbff34"/><stop offset="0.565" stop-color="#ffff00"/><stop offset="0.588" stop-color="#ffdc00"/><stop offset="0.647" stop-color="#ff8f00"/><stop offset="0.662" stop-color="#ff8000"/><stop offset="0.706" stop-color="#ff5200"/><stop offset="0.765" stop-color="#ff4b00"/><stop offset="0.817" stop-color="#ff8000"/><stop offset="0.824" stop-color="#ff8700"/><stop offset="0.882" stop-color="#ffd700"/><stop offset="0.919" stop-color="#ffff00"/><stop offset="0.941" stop-color="#e7ff18"/><stop offset="1" stop-color="#b3ff4c"/></linearGradient>
<linearGradient id="fb27"><stop offset="0" stop-color="#80ff80"/><stop offset="0.059" stop-color="#33ffcc"/><stop offset="0.095" stop-color="#00ffff"/><stop offset="0.118" stop-color="#00deff"/><stop offset="0.176" stop-color="#0087ff"/><stop offset="0.183" stop-color="#0080ff"/><stop offset="0.235" stop-color="#0045ff"/><stop offset="0.294" stop-color="#0036ff"/><stop offset="0.353" stop-color="#0064ff"/><stop offset="0.369" stop-color="#0080ff"/><stop offset="0.412" stop-color="#00ccff"/><stop offset="0.434" stop-color="#00ffff"/><stop offset="0.471" stop-color="#54ffab"/><stop offset="0.492" stop-color="#80ff80"/><stop offset="0.529" stop-color="#cdff32"/><stop offset="0.561" stop-color="#ffff00"/><stop offset="0.588" stop-color="#ffd500"/><stop offset="0.647" stop-color="#ff8500"/><stop offset="0.652" stop-color="#ff8000"/><stop offset="0.706" stop-color="#ff4700"/><stop offset="0.765" stop-color="#ff4200"/><stop offset="0.824" stop-color="#ff7f00"/><stop offset="0.824" stop-color="#ff8000"/><stop offset="0.882" stop-color="#ffd300"/><stop offset="0.921" stop-color="#ffff00"/><stop offset="0.941" stop-color="#e8ff17"/><stop offset="1" stop-color="#b3ff4c"/></linearGradient>
<linearGradient id="fb28"><stop offset="0" stop-color="#80ff80"/><stop offset="0.059" stop-color="#32ffcd"/><stop offset="0.093" stop-color="#00ffff"/><stop offset="0.118" stop-color="#00daff"/><stop offset="0.176" stop-color="#0080ff"/><stop offset="0.177" stop-color="#0080ff"/><stop offset="0.235" stop-color="#003cff"/><stop offset="0.294" stop-color="#002bff"/><stop offset="0.353" stop-color="#0057ff"/><stop offset="0.375" stop-color="#0080ff"/><stop offset="0.412" stop-color="#00c2ff"/><stop offset="0.437" stop-color="#00ffff"/><stop offset="0.471" stop-color="#4fffb0"/><stop offset="0.493" stop-color="#80ff80"/><stop offset="0.529" stop-color="#cfff30"/><stop offset="0.558" stop-color="#ffff00"/><stop offset="0.588" stop-color="#ffcd00"/><stop offset="0.643" stop-color="#ff8000"/><stop offset="0.647" stop-color="#ff7a00"/><stop offset="0.706" stop-color="#ff3d00"/><stop offset="0.765" stop-color="#ff3900"/><stop offset="0.824" stop-color="#ff7800"/><stop offset="0.828" stop-color="#ff8000"/><stop offset="0.882" stop-color="#ffce00"/><stop offset="0.923" stop-color="#ffff00"/><stop offset="0.941" stop-color="#eaff15"/><stop offset="1" stop-color="#b2ff4d"/></linearGradient>
<linearGradient id="fb29"><stop offset="0" stop-color="#80ff80"/><stop offset="0.059" stop-color="#31ffce"/><stop offset="0.091" stop-color="#00ffff"/><stop offset="0.118" stop-color="#00d7ff"/><stop offset="0.173" stop-color="#0080ff"/><stop offset="0.176" stop-color="#007aff"/><stop offset="0.235" stop-color="#0033ff"/><stop offset="0.294" stop-color="#001fff"/><stop offset="0.353" stop-color="#004bff"/><stop offset="0.381" stop-color="#0080ff"/><stop offset="0.412" stop-color="#00b8ff"/><stop offset="0.441" stop-color="#00ffff"/><stop offset="0.471" stop-color="#4affb5"/><stop offset="0.494" stop-color="#80ff80"/><stop offset="0.529" stop-color="#d0ff2f"/><stop offset="0.556" stop-color="#ffff00"/><stop offset="0.588" stop-color="#ffc600"/><stop offset="0.636" stop-color="#ff8000"/><stop offset="0.647" stop-color="#ff6f00"/><stop offset="0.706" stop-color="#ff3200"/><stop offset="0.765" stop-color="#ff3000"/><stop offset="0.824" stop-color="#ff7100"/><stop offset="0.833" stop-color="#ff8000"/><stop offset="0.882" stop-color="#ffca00"/><stop offset="0.925" stop-color="#ffff00"/><stop offset="0.941" stop-color="#ebff14"/><stop offset="1" stop-color="#b2ff4d"/></linearGradient>
<linearGradient id="fb30"><stop offset="0" stop-color="#7fff80"/><stop offset="0.059" stop-color="#31ffce"/><stop offset="0.09" stop-color="#00ffff"/><stop offset="0.118" stop-color="#00d3ff"/><stop offset="0.169" stop-color="#0080ff"/><stop offset="0.176" stop-color="#0073ff"/><stop offset="0.235" stop-color="#0029ff"/><stop offset="0.294" stop-color="#0013ff"/><stop offset="0.353" stop-color="#003eff"/><stop offset="0.388" stop-color="#0080ff"/><stop offset="0.412" stop-color="#00adff"/><stop offset="0.444" stop-color="#00ffff"/><stop offset="0.471" stop-color="#44ffbb"/><stop offset="0.495" stop-color="#80ff80"/><stop offset="0.529" stop-color="#d1ff2e"/><stop offset="0.554" stop-color="#ffff00"/><stop offset="0.588" stop-color="#ffbe00"/><stop offset="0.629" stop-color="#ff8000"/><stop offset="0.647" stop-color="#ff6400"/><stop offset="0.706" stop-color="#ff2700"/><stop offset="0.765" stop-color="#ff2600"/><stop offset="0.824" stop-color="#ff6a00"/><stop offset="0.838" stop-color="#ff8000"/><stop offset="0.882" stop-color="#ffc500"/><stop offset="0.927" stop-color="#ffff00"/><stop offset="0.941" stop-color="#ecff13"/><stop offset="1" stop-color="#b2ff4d"/></linearGradient>
<linearGradient id="fb31"><stop offset="0" stop-color="#80ff80"/><stop offset="0.059" stop-color="#30ffcf"/><stop offset="0.088" stop-color="#00ffff"/><stop offset="0.118" stop-color="#00cfff"/><stop offset="0.165" stop-color="#0080ff"/><stop offset="0.176" stop-color="#006cff"/><stop offset="0.235" stop-color="#001fff"/><stop offset="0.294" stop-color="#0007ff"/><stop offset="0.353" stop-color="#0031ff"/><stop offset="0.394" stop-color="#0080ff"/><stop offset="0.412" stop-color="#00a1ff"/><stop offset="0.447" stop-color="#00ffff"/><stop offset="0.471" stop-color="#3dffc2"/><stop offset="0.497" stop-color="#80ff80"/><stop offset="0.529" stop-color="#d2ff2d"/><stop offset="0.552" stop-color="#ffff00"/><stop offset="0.588" stop-color="#ffb600"/><stop offset="0.622" stop-color="#ff8000"/><stop offset="0.647" stop-color="#ff5800"/><stop offset="0.706" stop-color="#ff1b00"/><stop offset="0.765" stop-color="#ff1d00"/><stop offset="0.824" stop-color="#ff6200"/><stop offset="0.842" stop-color="#ff8000"/><stop offset="0.882" stop-color="#ffc000"/><stop offset="0.929" stop-color="#ffff00"/><stop offset="0.941" stop-color="#eeff11"/><stop offset="1" stop-color="#b2ff4d"/></linearGradient>
<linearGradient id="fb32"><stop offset="0" stop-color="#7fff80"/><stop offset="0.059" stop-color="#30ffcf"/><stop offset="0.087" stop-color="#00ffff"/><stop offset="0.118" stop-color="#00cbff"/><stop offset="0.161" stop-color="#0080ff"/><stop offset="0.176" stop-color="#0064ff"/><stop offset="0.235" stop-color="#0015ff"/><stop offset="0.281" stop-color="#0000ff"/><stop offset="0.294" stop-color="#0000f9"/><stop offset="0.303" stop-color="#0000ff"/><stop offset="0.353" stop-color="#0023ff"/><stop offset="0.401" stop-color="#0080ff"/><stop offset="0.412" stop-color="#0095ff"/><stop offset="0.451" stop-color="#00ffff"/><stop offset="0.471" stop-color="#36ffc9"/><stop offset="0.498" stop-color="#80ff80"/><stop offset="0.529" stop-color="#d2ff2d"/><stop offset="0.55" stop-color="#ffff00"/><stop offset="0.588" stop-color="#ffad00"/><stop offset="0.615" stop-color="#ff8000"/><stop offset="0.647" stop-color="#ff4b00"/><stop offset="0.706" stop-color="#ff0f00"/><stop offset="0.765" stop-color="#ff1300"/><stop offset="0.824" stop-color="#ff5a00"/><stop offset="0.847" stop-color="#ff8000"/><stop offset="0.882" stop-color="#ffba00"/><stop offset="0.93" stop-color="#ffff00"/><stop offset="0.941" stop-color="#f0ff0f"/><stop offset="1" stop-color="#b2ff4d"/></linearGradient>
<linearGradient id="fb33"><stop offset="0" stop-color="#7fff80"/><stop offset="0.059" stop-color="#2fffd0"/><stop offset="0.086" stop-color="#00ffff"/><stop offset="0.118" stop-color="#00c7ff"/><stop offset="0.157" stop-color="#0080ff"/><stop offset="0.176" stop-color="#005dff"/><stop offset="0.235" stop-color="#000bff"/><stop offset="0.257" stop-color="#0000ff"/><stop offset="0.294" stop-color="#0000ec"/><stop offset="0.323" stop-color="#0000ff"/><stop offset="0.353" stop-color="#0014ff"/><stop offset="0.408" stop-color="#0080ff"/><stop offset="0.412" stop-color="#0088ff"/><stop offset="0.454" stop-color="#00ffff"/><stop offset="0.471" stop-color="#2fffd0"/><stop offset="0.499" stop-color="#80ff80"/><stop offset="0.529" stop-color="#d3ff2c"/><stop offset="0.548" stop-color="#ffff00"/><stop offset="0.588" stop-color="#ffa300"/><stop offset="0.608" stop-color="#ff8000"/><stop offset="0.647" stop-color="#ff3c00"/><stop offset="0.706" stop-color="#ff0100"/><stop offset="0.765" stop-color="#ff0800"/><stop offset="0.824" stop-color="#ff5100"/><stop offset="0.851" stop-color="#ff8000"/><stop offset="0.882" stop-color="#ffb400"/><stop offset="0.932" stop-color="#ffff00"/><stop offset="0.941" stop-color="#f2ff0d"/><stop offset="1" stop-color="#b2ff4d"/></linearGradient>
<linearGradient id="fb34"><stop offset="0" stop-color="#7fff80"/><stop offset="0.059" stop-color="#2effd1"/><stop offset="0.084" stop-color="#00ffff"/><stop offset="0.118" stop-color="#00c2ff"/><stop offset="0.153" stop-color="#0080ff"/><stop offset="0.176" stop-color="#0055ff"/><stop offset="0.235" stop-color="#0001ff"/><stop offset="0.236" stop-color="#0000ff"/><stop offset="0.294" stop-color="#0000df"/><stop offset="0.346" stop-color="#0000ff"/><stop offset="0.353" stop-color="#0004ff"/><stop offset="0.412" stop-color="#0079ff"/><stop offset="0.414" stop-color="#0080ff"/><stop offset="0.457" stop-color="#00ffff"/><stop offset="0.471" stop-color="#26ffd9"/><stop offset="0.501" stop-color="#80ff80"/><stop offset="0.529" stop-color="#d5ff2a"/><stop offset="0.546" stop-color="#ffff00"/><stop offset="0.588" stop-color="#ff9800"/><stop offset="0.601" stop-color="#ff8000"/><stop offset="0.647" stop-color="#ff2c00"/><stop offset="0.693" stop-color="#ff0000"/><stop offset="0.706" stop-color="#f20000"/><stop offset="0.765" stop-color="#fb0000"/><stop offset="0.768" stop-color="#ff0000"/><stop offset="0.824" stop-color="#ff4700"/><stop offset="0.856" stop-color="#ff8000"/><stop offset="0.882" stop-color="#ffac00"/><stop offset="0.934" stop-color="#ffff00"/><stop offset="0.941" stop-color="#f4ff0b"/><stop offset="1" stop-color="#b2ff4d"/></linearGradient>
<linearGradient id="fb35"><stop offset="0" stop-color="#7fff80"/><stop offset="0.059" stop-color="#2effd1"/><stop offset="0.083" stop-color="#00ffff"/><stop offset="0.118" stop-color="#00bcff"/><stop offset="0.149" stop-color="#0080ff"/><stop offset="0.176" stop-color="#004cff"/><stop offset="0.228" stop-color="#0000ff"/><stop offset="0.235" stop-color="#0000f5"/><stop offset="0.294" stop-color="#0000d1"/><stop offset="0.353" stop-color="#0000f3"/><stop offset="0.359" stop-color="#0000ff"/><stop offset="0.412" stop-color="#006aff"/><stop offset="0.419" stop-color="#0080ff"/><stop offset="0.461" stop-color="#00ffff"/><stop offset="0.471" stop-color="#1effe1"/><stop offset="0.502" stop-color="#80ff80"/><stop offset="0.529" stop-color="#d6ff29"/><stop offset="0.545" stop-color="#ffff00"/><stop offset="0.588" stop-color="#ff8b00"/><stop offset="0.594" stop-color="#ff8000"/><stop offset="0.647" stop-color="#ff1a00"/><stop offset="0.675" stop-color="#ff0000"/><stop offset="0.706" stop-color="#e20000"/><stop offset="0.765" stop-color="#ef0000"/><stop offset="0.777" stop-color="#ff0000"/><stop offset="0.824" stop-color="#ff3c00"/><stop offset="0.862" stop-color="#ff8000"/><stop offset="0.882" stop-color="#ffa400"/><stop offset="0.936" stop-color="#ffff00"/><stop offset="0.941" stop-color="#f7ff08"/><stop offset="1" stop-color="#b3ff4c"/></linearGradient>
<linearGradient id="fb36"><stop offset="0" stop-color="#7fff80"/><stop offset="0.059" stop-color="#2dffd2"/><stop offset="0.081" stop-color="#00ffff"/><stop offset="0.118" stop-color="#00b6ff"/><stop offset="0.146" stop-color="#0080ff"/><stop offset="0.176" stop-color="#0043ff"/><stop offset="0.221" stop-color="#0000ff"/><stop offset="0.235" stop-color="#0000ea"/><stop offset="0.294" stop-color="#0000c3"/><stop offset="0.353" stop-color="#0000e2"/><stop offset="0.367" stop-color="#0000ff"/><stop offset="0.412" stop-color="#005aff"/><stop offset="0.424" stop-color="#0080ff"/><stop offset="0.464" stop-color="#00ffff"/><stop offset="0.471" stop-color="#14ffeb"/><stop offset="0.503" stop-color="#80ff80"/><stop offset="0.529" stop-color="#d9ff26"/><stop offset="0.543" stop-color="#ffff00"/><stop offset="0.587" stop-color="#ff8000"/><stop offset="0.588" stop-color="#ff7d00"/><stop offset="0.647" stop-color="#ff0700"/><stop offset="0.655" stop-color="#ff0000"/><stop offset="0.706" stop-color="#d20000"/><stop offset="0.765" stop-color="#e20000"/><stop offset="0.787" stop-color="#ff0000"/><stop offset="0.824" stop-color="#ff3000"/><stop offset="0.867" stop-color="#ff8000"/><stop offset="0.882" stop-color="#ff9b00"/><stop offset="0.938" stop-color="#ffff00"/><stop offset="0.941" stop-color="#faff05"/><stop offset="1" stop-color="#b3ff4c"/></linearGradient>
<linearGradient id="fb37"><stop offset="0" stop-color="#7fff80"/><stop offset="0.059" stop-color="#2bffd4"/><stop offset="0.08" stop-color="#00ffff"/><stop offset="0.118" stop-color="#00afff"/><stop offset="0.142" stop-color="#0080ff"/><stop offset="0.176" stop-color="#0039ff"/><stop offset="0.214" stop-color="#0000ff"/><stop offset="0.235" stop-color="#0000df"/><stop offset="0.294" stop-color="#0000b5"/><stop offset="0.353" stop-color="#0000d0"/><stop offset="0.376" stop-color="#0000ff"/><stop offset="0.412" stop-color="#004aff"/><stop offset="0.428" stop-color="#0080ff"/><stop offset="0.467" stop-color="#00ffff"/><stop offset="0.471" stop-color="#0bfff4"/><stop offset="0.504" stop-color="#80ff80"/><stop offset="0.529" stop-color="#dbff24"/><stop offset="0.541" stop-color="#ffff00"/><stop offset="0.583" stop-color="#ff8000"/><stop offset="0.588" stop-color="#ff6e00"/><stop offset="0.641" stop-color="#ff0000"/><stop offset="0.647" stop-color="#f20000"/><stop offset="0.706" stop-color="#c10000"/><stop offset="0.765" stop-color="#d50000"/><stop offset="0.797" stop-color="#ff0000"/><stop offset="0.824" stop-color="#ff2300"/><stop offset="0.873" stop-color="#ff8000"/><stop offset="0.882" stop-color="#ff9000"/><stop offset="0.94" stop-color="#ffff00"/><stop offset="0.941" stop-color="#feff01"/><stop offset="1" stop-color="#b3ff4c"/></linearGradient>
<linearGradient id="fb38"><stop offset="0" stop-color="#80ff80"/><stop offset="0.059" stop-color="#2affd5"/><stop offset="0.078" stop-color="#00ffff"/><stop offset="0.118" stop-color="#00a8ff"/><stop offset="0.137" stop-color="#0080ff"/><stop offset="0.176" stop-color="#002fff"/><stop offset="0.207" stop-color="#0000ff"/><stop offset="0.235" stop-color="#0000d4"/><stop offset="0.294" stop-color="#0000a7"/><stop offset="0.353" stop-color="#0000bf"/><stop offset="0.384" stop-color="#0000ff"/><stop offset="0.412" stop-color="#003aff"/><stop offset="0.432" stop-color="#0080ff"/><stop offset="0.47" stop-color="#00ffff"/><stop offset="0.471" stop-color="#02fffd"/><stop offset="0.504" stop-color="#80ff80"/><stop offset="0.529" stop-color="#deff21"/><stop offset="0.54" stop-color="#ffff00"/><stop offset="0.578" stop-color="#ff8000"/><stop offset="0.588" stop-color="#ff5f00"/><stop offset="0.632" stop-color="#ff0000"/><stop offset="0.647" stop-color="#de0000"/><stop offset="0.706" stop-color="#b10000"/><stop offset="0.765" stop-color="#c80000"/><stop offset="0.807" stop-color="#ff0000"/><stop offset="0.824" stop-color="#ff1600"/><stop offset="0.88" stop-color="#ff8000"/><stop offset="0.882" stop-color="#ff8500"/><stop offset="0.941" stop-color="#fffc00"/><stop offset="0.943" stop-color="#ffff00"/><stop offset="1" stop-color="#b3ff4c"/></linearGradient>
<linearGradient id="fb39"><stop offset="0" stop-color="#80ff80"/><stop offset="0.059" stop-color="#28ffd7"/><stop offset="0.076" stop-color="#00ffff"/><stop offset="0.118" stop-color="#00a0ff"/><stop offset="0.133" stop-color="#0080ff"/><stop offset="0.176" stop-color="#0025ff"/><stop offset="0.2" stop-color="#0000ff"/><stop offset="0.235" stop-color="#0000c9"/><stop offset="0.294" stop-color="#00009a"/><stop offset="0.353" stop-color="#0000af"/><stop offset="0.391" stop-color="#0000ff"/><stop offset="0.412" stop-color="#002bff"/><stop offset="0.436" stop-color="#0080ff"/><stop offset="0.471" stop-color="#00f8ff"/><stop offset="0.472" stop-color="#00ffff"/><stop offset="0.505" stop-color="#80ff80"/><stop offset="0.529" stop-color="#e1ff1e"/><stop offset="0.538" stop-color="#ffff00"/><stop offset="0.575" stop-color="#ff8000"/><stop offset="0.588" stop-color="#ff5000"/><stop offset="0.624" stop-color="#ff0000"/><stop offset="0.647" stop-color="#ca0000"/><stop offset="0.706" stop-color="#a10000"/><stop offset="0.765" stop-color="#bc0000"/><stop offset="0.817" stop-color="#ff0000"/><stop offset="0.824" stop-color="#ff0800"/><stop offset="0.882" stop-color="#ff7900"/><stop offset="0.886" stop-color="#ff8000"/><stop offset="0.941" stop-color="#fff800"/><stop offset="0.946" stop-color="#ffff00"/><stop offset="1" stop-color="#b3ff4c"/></linearGradient>
<linearGradient id="fb40"><stop offset="0" stop-color="#80ff80"/><stop offset="0.059" stop-color="#26ffd9"/><stop offset="0.075" stop-color="#00ffff"/><stop offset="0.118" stop-color="#0098ff"/><stop offset="0.129" stop-color="#0080ff"/><stop offset="0.176" stop-color="#001aff"/><stop offset="0.193" stop-color="#0000ff"/><stop offset="0.235" stop-color="#0000bf"/><stop offset="0.294" stop-color="#00008d"/><stop offset="0.353" stop-color="#0000a0"/><stop offset="0.398" stop-color="#0000ff"/><stop offset="0.412" stop-color="#001dff"/><stop offset="0.439" stop-color="#0080ff"/><stop offset="0.471" stop-color="#00f0ff"/><stop offset="0.474" stop-color="#00ffff"/><stop offset="0.505" stop-color="#80ff80"/><stop offset="0.529" stop-color="#e3ff1c"/><stop offset="0.537" stop-color="#ffff00"/><stop offset="0.571" stop-color="#ff8000"/><stop offset="0.588" stop-color="#ff4100"/><stop offset="0.616" stop-color="#ff0000"/><stop offset="0.647" stop-color="#b70000"/><stop offset="0.706" stop-color="#920000"/><stop offset="0.765" stop-color="#b00000"/><stop offset="0.824" stop-color="#f90000"/><stop offset="0.826" stop-color="#ff0000"/><stop offset="0.882" stop-color="#ff6c00"/><stop offset="0.891" stop-color="#ff8000"/><stop offset="0.941" stop-color="#fff200"/><stop offset="0.95" stop-color="#ffff00"/><stop offset="1" stop-color="#b2ff4d"/></linearGradient>
<linearGradient id="fb41"><stop offset="0" stop-color="#80ff7f"/><stop offset="0" stop-color="#80ff80"/><stop offset="0.059" stop-color="#25ffda"/><stop offset="0.073" stop-color="#00ffff"/><stop offset="0.118" stop-color="#008eff"/><stop offset="0.124" stop-color="#0080ff"/><stop offset="0.176" stop-color="#000fff"/><stop offset="0.186" stop-color="#0000ff"/><stop offset="0.235" stop-color="#0000b5"/><stop offset="0.294" stop-color="#000083"/><stop offset="0.353" stop-color="#000092"/><stop offset="0.404" stop-color="#0000ff"/><stop offset="0.412" stop-color="#0010ff"/><stop offset="0.442" stop-color="#0080ff"/><stop offset="0.471" stop-color="#00e8ff"/><stop offset="0.476" stop-color="#00ffff"/><stop offset="0.505" stop-color="#80ff80"/><stop offset="0.529" stop-color="#e6ff19"/><stop offset="0.536" stop-color="#ffff00"/><stop offset="0.569" stop-color="#ff8000"/><stop offset="0.588" stop-color="#ff3400"/><stop offset="0.61" stop-color="#ff0000"/><stop offset="0.647" stop-color="#a60000"/><stop offset="0.706" stop-color="#840000"/><stop offset="0.765" stop-color="#a50000"/><stop offset="0.824" stop-color="#eb0000"/><stop offset="0.834" stop-color="#ff0000"/><stop offset="0.882" stop-color="#ff5e00"/><stop offset="0.896" stop-color="#ff8000"/><stop offset="0.941" stop-color="#ffed00"/><stop offset="0.953" stop-color="#ffff00"/><stop offset="1" stop-color="#b2ff4d"/></linearGradient>
<linearGradient id="fb42"><stop offset="0" stop-color="#80ff80"/><stop offset="0.059" stop-color="#22ffdd"/><stop offset="0.072" stop-color="#00ffff"/><stop offset="0.118" stop-color="#0084ff"/><stop offset="0.12" stop-color="#0080ff"/><stop offset="0.176" stop-color="#0003ff"/><stop offset="0.179" stop-color="#0000ff"/><stop offset="0.235" stop-color="#0000ac"/><stop offset="0.294" stop-color="#000080"/><stop offset="0.353" stop-color="#000087"/><stop offset="0.41" stop-color="#0000ff"/><stop offset="0.412" stop-color="#0004ff"/><stop offset="0.444" stop-color="#0080ff"/><stop offset="0.471" stop-color="#00e2ff"/><stop offset="0.477" stop-color="#00ffff"/><stop offset="0.506" stop-color="#80ff80"/><stop offset="0.529" stop-color="#e9ff16"/><stop offset="0.535" stop-color="#ffff00"/><stop offset="0.566" stop-color="#ff8000"/><stop offset="0.588" stop-color="#ff2700"/><stop offset="0.604" stop-color="#ff0000"/><stop offset="0.647" stop-color="#960000"/><stop offset="0.706" stop-color="#800000"/><stop offset="0.765" stop-color="#9b0000"/><stop offset="0.824" stop-color="#de0000"/><stop offset="0.841" stop-color="#ff0000"/><stop offset="0.882" stop-color="#ff5000"/><stop offset="0.901" stop-color="#ff8000"/><stop offset="0.941" stop-color="#ffe600"/><stop offset="0.955" stop-color="#ffff00"/><stop offset="1" stop-color="#b2ff4d"/></linearGradient>
<linearGradient id="fb43"><stop offset="0" stop-color="#80ff7f"/><stop offset="0" stop-color="#80ff80"/><stop offset="0.059" stop-color="#20ffdf"/><stop offset="0.07" stop-color="#00ffff"/><stop offset="0.116" stop-color="#0080ff"/><stop offset="0.118" stop-color="#007aff"/><stop offset="0.173" stop-color="#0000ff"/><stop offset="0.176" stop-color="#0000f6"/><stop offset="0.235" stop-color="#0000a4"/><stop offset="0.294" stop-color="#000080"/><stop offset="0.353" stop-color="#000080"/><stop offset="0.412" stop-color="#0000fa"/><stop offset="0.413" stop-color="#0000ff"/><stop offset="0.446" stop-color="#0080ff"/><stop offset="0.471" stop-color="#00ddff"/><stop offset="0.478" stop-color="#00ffff"/><stop offset="0.506" stop-color="#80ff80"/><stop offset="0.529" stop-color="#ebff14"/><stop offset="0.534" stop-color="#ffff00"/><stop offset="0.565" stop-color="#ff8000"/><stop offset="0.588" stop-color="#ff1c00"/><stop offset="0.6" stop-color="#ff0000"/><stop offset="0.647" stop-color="#890000"/><stop offset="0.706" stop-color="#800000"/><stop offset="0.765" stop-color="#930000"/><stop offset="0.824" stop-color="#d00000"/><stop offset="0.848" stop-color="#ff0000"/><stop offset="0.882" stop-color="#ff4100"/><stop offset="0.906" stop-color="#ff8000"/><stop offset="0.941" stop-color="#ffe000"/><stop offset="0.958" stop-color="#ffff00"/><stop offset="1" stop-color="#b2ff4d"/></linearGradient>
<linearGradient id="fb44"><stop offset="0" stop-color="#80ff7f"/><stop offset="0" stop-color="#80ff80"/><stop offset="0.059" stop-color="#1effe1"/><stop offset="0.069" stop-color="#00ffff"/><stop offset="0.112" stop-color="#0080ff"/><stop offset="0.118" stop-color="#006eff"/><stop offset="0.167" stop-color="#0000ff"/><stop offset="0.176" stop-color="#0000ea"/><stop offset="0.235" stop-color="#00009d"/><stop offset="0.294" stop-color="#000080"/><stop offset="0.353" stop-color="#000080"/><stop offset="0.412" stop-color="#0000f4"/><stop offset="0.415" stop-color="#0000ff"/><stop offset="0.448" stop-color="#0080ff"/><stop offset="0.471" stop-color="#00d9ff"/><stop offset="0.479" stop-color="#00ffff"/><stop offset="0.506" stop-color="#80ff80"/><stop offset="0.529" stop-color="#eeff11"/><stop offset="0.533" stop-color="#ffff00"/><stop offset="0.563" stop-color="#ff8000"/><stop offset="0.588" stop-color="#ff1300"/><stop offset="0.596" stop-color="#ff0000"/><stop offset="0.647" stop-color="#800000"/><stop offset="0.706" stop-color="#800000"/><stop offset="0.765" stop-color="#8d0000"/><stop offset="0.824" stop-color="#c30000"/><stop offset="0.856" stop-color="#ff0000"/><stop offset="0.882" stop-color="#ff3200"/><stop offset="0.91" stop-color="#ff8000"/><stop offset="0.941" stop-color="#ffd800"/><stop offset="0.961" stop-color="#ffff00"/><stop offset="1" stop-color="#b2ff4d"/></linearGradient>
<linearGradient id="fb45"><stop offset="0" stop-color="#80ff7f"/><stop offset="0" stop-color="#80ff80"/><stop offset="0.059" stop-color="#1cffe3"/><stop offset="0.068" stop-color="#00ffff"/><stop offset="0.108" stop-color="#0080ff"/><stop offset="0.118" stop-color="#0062ff"/><stop offset="0.162" stop-color="#0000ff"/><stop offset="0.176" stop-color="#0000de"/><stop offset="0.235" stop-color="#000097"/><stop offset="0.294" stop-color="#000080"/><stop offset="0.353" stop-color="#000080"/><stop offset="0.412" stop-color="#0000f1"/><stop offset="0.415" stop-color="#0000ff"/><stop offset="0.448" stop-color="#0080ff"/><stop offset="0.471" stop-color="#00d7ff"/><stop offset="0.479" stop-color="#00ffff"/><stop offset="0.506" stop-color="#80ff80"/><stop offset="0.529" stop-color="#efff10"/><stop offset="0.533" stop-color="#ffff00"/><stop offset="0.562" stop-color="#ff8000"/><stop offset="0.588" stop-color="#ff0d00"/><stop offset="0.594" stop-color="#ff0000"/><stop offset="0.647" stop-color="#800000"/><stop offset="0.706" stop-color="#800000"/><stop offset="0.765" stop-color="#890000"/><stop offset="0.824" stop-color="#b70000"/><stop offset="0.863" stop-color="#ff0000"/><stop offset="0.882" stop-color="#ff2200"/><stop offset="0.914" stop-color="#ff8000"/><stop offset="0.941" stop-color="#ffd000"/><stop offset="0.963" stop-color="#ffff00"/><stop offset="1" stop-color="#b2ff4d"/></linearGradient>
<linearGradient id="fb46"><stop offset="0" stop-color="#80ff7f"/><stop offset="0" stop-color="#80ff80"/><stop offset="0.059" stop-color="#1cffe3"/><stop offset="0.068" stop-color="#00ffff"/><stop offset="0.108" stop-color="#0080ff"/><stop offset="0.118" stop-color="#0062ff"/><stop offset="0.161" stop-color="#0000ff"/><stop offset="0.176" stop-color="#0000de"/><stop offset="0.235" stop-color="#000097"/><stop offset="0.294" stop-color="#000080"/><stop offset="0.353" stop-color="#000080"/><stop offset="0.412" stop-color="#0000f1"/><stop offset="0.415" stop-color="#0000ff"/><stop offset="0.448" stop-color="#0080ff"/><stop offset="0.471" stop-color="#00d7ff"/><stop offset="0.479" stop-color="#00ffff"/><stop offset="0.506" stop-color="#80ff80"/><stop offset="0.529" stop-color="#efff10"/><stop offset="0.533" stop-color="#ffff00"/><stop offset="0.562" stop-color="#ff8000"/><stop offset="0.588" stop-color="#ff0d00"/><stop offset="0.594" stop-color="#ff0000"/><stop offset="0.647" stop-color="#800000"/><stop offset="0.706" stop-color="#800000"/><stop offset="0.765" stop-color="#880000"/><stop offset="0.824" stop-color="#b70000"/><stop offset="0.864" stop-color="#ff0000"/><stop offset="0.882" stop-color="#ff2200"/><stop offset="0.914" stop-color="#ff8000"/><stop offset="0.941" stop-color="#ffd000"/><stop offset="0.963" stop-color="#ffff00"/><stop offset="1" stop-color="#b3ff4c"/></linearGradient>
<linearGradient id="fb47"><stop offset="0" stop-color="#80ff7f"/><stop offset="0" stop-color="#80ff80"/><stop offset="0.059" stop-color="#1cffe3"/><stop offset="0.068" stop-color="#00ffff"/><stop offset="0.108" stop-color="#0080ff"/><stop offset="0.118" stop-color="#0062ff"/><stop offset="0.161" stop-color="#0000ff"/><stop offset="0.176" stop-color="#0000de"/><stop offset="0.235" stop-color="#000097"/><stop offset="0.294" stop-color="#000080"/><stop offset="0.353" stop-color="#000080"/><stop offset="0.412" stop-color="#0000f1"/><stop offset="0.415" stop-color="#0000ff"/><stop offset="0.448" stop-color="#0080ff"/><stop offset="0.471" stop-color="#00d7ff"/><stop offset="0.479" stop-color="#00ffff"/><stop offset="0.506" stop-color="#80ff80"/><stop offset="0.529" stop-color="#efff10"/><stop offset="0.533" stop-color="#ffff00"/><stop offset="0.562" stop-color="#ff8000"/><stop offset="0.588" stop-color="#ff0d00"/><stop offset="0.594" stop-color="#ff0000"/><stop offset="0.647" stop-color="#800000"/><stop offset="0.706" stop-color="#800000"/><stop offset="0.765" stop-color="#880000"/><stop offset="0.824" stop-color="#b70000"/><stop offset="0.864" stop-color="#ff0000"/><stop offset="0.882" stop-color="#ff2200"/><stop offset="0.914" stop-color="#ff8000"/><stop offset="0.941" stop-color="#ffd000"/><stop offset="0.963" stop-color="#ffff00"/><stop offset="1" stop-color="#b3ff4c"/></linearGradient>
<linearGradient id="fb48"><stop offset="0" stop-color="#80ff7f"/><stop offset="0" stop-color="#80ff80"/><stop offset="0.059" stop-color="#1cffe3"/><stop offset="0.068" stop-color="#00ffff"/><stop offset="0.108" stop-color="#0080ff"/><stop offset="0.118" stop-color="#0062ff"/><stop offset="0.161" stop-color="#0000ff"/><stop offset="0.176" stop-color="#0000de"/><stop offset="0.235" stop-color="#000097"/><stop offset="0.294" stop-color="#000080"/><stop offset="0.353" stop-color="#000080"/><stop offset="0.412" stop-color="#0000f1"/><stop offset="0.415" stop-color="#0000ff"/><stop offset="0.448" stop-color="#0080ff"/><stop offset="0.471" stop-color="#00d7ff"/><stop offset="0.479" stop-color="#00ffff"/><stop offset="0.506" stop-color="#80ff80"/><stop offset="0.529" stop-color="#efff10"/><stop offset="0.533" stop-color="#ffff00"/><stop offset="0.562" stop-color="#ff8000"/><stop offset="0.588" stop-color="#ff0d00"/><stop offset="0.594" stop-color="#ff0000"/><stop offset="0.647" stop-color="#800000"/><stop offset="0.706" stop-color="#800000"/><stop offset="0.765" stop-color="#880000"/><stop offset="0.824" stop-color="#b70000"/><stop offset="0.864" stop-color="#ff0000"/><stop offset="0.882" stop-color="#ff2200"/><stop offset="0.914" stop-color="#ff8000"/><stop offset="0.941" stop-color="#ffd000"/><stop offset="0.963" stop-color="#ffff00"/><stop offset="1" stop-color="#b3ff4c"/></linearGradient>
<linearGradient id="s2" x1="0" y1="0" x2="0" y2="1"><stop offset="0" stop-color="#00f0ff"/><stop offset="1" stop-color="#80ff80" stop-opacity="0"/></linearGradient>
<linearGradient id="s3" x1="0" y1="0" x2="0" y2="1"><stop offset="0" stop-color="#ffc700"/><stop offset="1" stop-color="#80ff80" stop-opacity="0"/></linearGradient>
<radialGradient id="k2"><stop offset="0" stop-color="#fff"/><stop offset=".6" stop-color="#fff"/><stop offset="1" stop-color="#000"/></radialGradient>
<mask id="mk2" maskContentUnits="objectBoundingBox"><rect width="1" height="1" fill="url(#k2)"/></mask>
<linearGradient id="jb" x1="0" y1="1" x2="0" y2="0"><stop offset="0.0" stop-color="#000080"/><stop offset="0.125" stop-color="#0000ff"/><stop offset="0.25" stop-color="#0080ff"/><stop offset="0.375" stop-color="#00ffff"/><stop offset="0.5" stop-color="#80ff80"/><stop offset="0.625" stop-color="#ffff00"/><stop offset="0.75" stop-color="#ff8000"/><stop offset="0.875" stop-color="#ff0000"/><stop offset="1.0" stop-color="#800000"/></linearGradient>
</defs>
<rect width="2126" height="4814" fill="#fff"/>
<!-- panel a -->
<rect x="313" y="70" width="1473.6" height="1243.5" fill="#f4f8f8"/>
<rect x="313" y="142.2" width="36.8" height="75.6" fill="url(#h1)"/>
<rect x="1749.8" y="142.2" width="36.8" height="75.6" fill="url(#h1)"/>
<rect x="313" y="1105" width="36.8" height="140" fill="url(#h2)"/>
<rect x="1749.8" y="1105" width="36.8" height="140" fill="url(#h2)"/>
<rect x="349.8" y="188.6" width="73.7" height="75.6" fill="url(#h3)"/>
<rect x="1676.1" y="188.6" width="73.7" height="75.6" fill="url(#h3)"/>
<rect x="349.8" y="1029.8" width="73.7" height="196" fill="url(#h4)"/>
<rect x="1676.1" y="1029.8" width="73.7" height="196" fill="url(#h4)"/>
<rect x="423.5" y="235.4" width="73.7" height="75.6" fill="url(#h5)"/>
<rect x="1602.4" y="235.4" width="73.7" height="75.6" fill="url(#h5)"/>
<rect x="423.5" y="977.6" width="73.7" height="215" fill="url(#h6)"/>
<rect x="1602.4" y="977.6" width="73.7" height="215" fill="url(#h6)"/>
<rect x="497.2" y="280" width="73.7" height="75.6" fill="url(#h7)"/>
<rect x="1528.7" y="280" width="73.7" height="75.6" fill="url(#h7)"/>
<rect x="497.2" y="931" width="73.7" height="220" fill="url(#h8)"/>
<rect x="1528.7" y="931" width="73.7" height="220" fill="url(#h8)"/>
<rect x="570.9" y="326.8" width="73.7" height="72.8" fill="url(#h9)"/>
<rect x="1455" y="326.8" width="73.7" height="72.8" fill="url(#h9)"/>
<rect x="570.9" y="885" width="73.7" height="220" fill="url(#h10)"/>
<rect x="1455" y="885" width="73.7" height="220" fill="url(#h10)"/>
<rect x="644.6" y="371.8" width="73.7" height="70" fill="url(#h11)"/>
<rect x="1381.4" y="371.8" width="73.7" height="70" fill="url(#h11)"/>
<rect x="644.6" y="840.5" width="73.7" height="220" fill="url(#h12)"/>
<rect x="1381.4" y="840.5" width="73.7" height="220" fill="url(#h12)"/>
<rect x="718.2" y="415.4" width="73.7" height="67.2" fill="url(#h13)"/>
<rect x="1307.7" y="415.4" width="73.7" height="67.2" fill="url(#h13)"/>
<rect x="718.2" y="796.5" width="73.7" height="220" fill="url(#h14)"/>
<rect x="1307.7" y="796.5" width="73.7" height="220" fill="url(#h14)"/>
<rect x="791.9" y="456.4" width="73.7" height="61.6" fill="url(#h15)"/>
<rect x="1234" y="456.4" width="73.7" height="61.6" fill="url(#h15)"/>
<rect x="791.9" y="765.8" width="73.7" height="175" fill="url(#h16)"/>
<rect x="1234" y="765.8" width="73.7" height="175" fill="url(#h16)"/>
<rect x="865.6" y="492" width="73.7" height="56" fill="url(#h17)"/>
<rect x="1160.3" y="492" width="73.7" height="56" fill="url(#h17)"/>
<rect x="865.6" y="745" width="73.7" height="147" fill="url(#h18)"/>
<rect x="1160.3" y="745" width="73.7" height="147" fill="url(#h18)"/>
<rect x="939.3" y="518.5" width="73.7" height="50.4" fill="url(#h19)"/>
<rect x="1086.6" y="518.5" width="73.7" height="50.4" fill="url(#h19)"/>
<rect x="939.3" y="712.9" width="73.7" height="156.8" fill="url(#h20)"/>
<rect x="1086.6" y="712.9" width="73.7" height="156.8" fill="url(#h20)"/>
<rect x="1013" y="694.7" width="73.7" height="166" fill="url(#h21)"/>
<ellipse cx="1055.3" cy="551.5" rx="94" ry="55" fill="none" stroke="#ff0000" stroke-width="9.2" stroke-dasharray="30 9.7" stroke-dashoffset="6"/>
<ellipse cx="1055.3" cy="795.3" rx="94" ry="55" fill="none" stroke="#5b9bd5" stroke-width="9.2" stroke-dasharray="30 9.7" stroke-dashoffset="6"/>
<line x1="1049.8" y1="1313.5" x2="1049.8" y2="1294" stroke="#262626" stroke-width="8"/>
<line x1="1049.8" y1="70" x2="1049.8" y2="89.5" stroke="#262626" stroke-width="8"/>
<line x1="313" y1="1106.2" x2="332.5" y2="1106.2" stroke="#262626" stroke-width="8"/>
<line x1="1786.6" y1="1106.2" x2="1767.1" y2="1106.2" stroke="#262626" stroke-width="8"/>
<line x1="313" y1="899" x2="332.5" y2="899" stroke="#262626" stroke-width="8"/>
<line x1="1786.6" y1="899" x2="1767.1" y2="899" stroke="#262626" stroke-width="8"/>
<line x1="313" y1="691.8" x2="332.5" y2="691.8" stroke="#262626" stroke-width="8"/>
<line x1="1786.6" y1="691.8" x2="1767.1" y2="691.8" stroke="#262626" stroke-width="8"/>
<line x1="313" y1="484.5" x2="332.5" y2="484.5" stroke="#262626" stroke-width="8"/>
<line x1="1786.6" y1="484.5" x2="1767.1" y2="484.5" stroke="#262626" stroke-width="8"/>
<line x1="313" y1="277.2" x2="332.5" y2="277.2" stroke="#262626" stroke-width="8"/>
<line x1="1786.6" y1="277.2" x2="1767.1" y2="277.2" stroke="#262626" stroke-width="8"/>
<rect x="313" y="70" width="1473.6" height="1243.5" fill="none" stroke="#262626" stroke-width="8"/>
<text x="286" y="1342" font-size="82" text-anchor="end" fill="#262626">1350</text>
<text x="286" y="1134.8" font-size="82" text-anchor="end" fill="#262626">1400</text>
<text x="286" y="927.5" font-size="82" text-anchor="end" fill="#262626">1450</text>
<text x="286" y="720.2" font-size="82" text-anchor="end" fill="#262626">1500</text>
<text x="286" y="513" font-size="82" text-anchor="end" fill="#262626">1550</text>
<text x="286" y="305.8" font-size="82" text-anchor="end" fill="#262626">1600</text>
<text x="286" y="98.5" font-size="82" text-anchor="end" fill="#262626">1650</text>
<text x="311" y="1414.5" font-size="82" text-anchor="middle" fill="#262626">-5</text>
<text x="1049.8" y="1414.5" font-size="82" text-anchor="middle" fill="#262626">0</text>
<text x="1786.6" y="1414.5" font-size="82" text-anchor="middle" fill="#262626">5</text>
<text x="1050" y="1510" font-size="82" text-anchor="middle" fill="#262626">Angle of incidence (deg)</text>
<text x="91.5" y="692.5" font-size="82" text-anchor="middle" fill="#262626" transform="rotate(-90 91.5 692.5)">Wavelength (nm)</text>
<text x="434.9" y="176.5" font-size="93" text-anchor="middle" fill="#000">(a)</text>
<text x="739.5" y="322" font-size="93" text-anchor="middle" fill="#000">SP[-1]</text>
<text x="1376.6" y="322.5" font-size="93" text-anchor="middle" fill="#000">SP[+1]</text>
<rect x="1848.4" y="70" width="81.4" height="1236" fill="url(#cb)"/>
<line x1="1929.8" y1="312" x2="1910.8" y2="312" stroke="#262626" stroke-width="8"/>
<text x="1956" y="341.5" font-size="82" text-anchor="start" fill="#262626">0.8</text>
<line x1="1929.8" y1="562" x2="1910.8" y2="562" stroke="#262626" stroke-width="8"/>
<text x="1956" y="591.5" font-size="82" text-anchor="start" fill="#262626">0.6</text>
<line x1="1929.8" y1="812" x2="1910.8" y2="812" stroke="#262626" stroke-width="8"/>
<text x="1956" y="841.5" font-size="82" text-anchor="start" fill="#262626">0.4</text>
<line x1="1929.8" y1="1061.5" x2="1910.8" y2="1061.5" stroke="#262626" stroke-width="8"/>
<text x="1956" y="1091" font-size="82" text-anchor="start" fill="#262626">0.2</text>
<rect x="1848.4" y="70" width="81.4" height="1236" fill="none" stroke="#262626" stroke-width="8"/>
<!-- panel b -->
<line x1="638.5" y1="2930" x2="638.5" y2="2910.5" stroke="#262626" stroke-width="8"/>
<line x1="638.5" y1="1672" x2="638.5" y2="1691.5" stroke="#262626" stroke-width="8"/>
<line x1="982.6" y1="2930" x2="982.6" y2="2910.5" stroke="#262626" stroke-width="8"/>
<line x1="982.6" y1="1672" x2="982.6" y2="1691.5" stroke="#262626" stroke-width="8"/>
<line x1="1326.6" y1="2930" x2="1326.6" y2="2910.5" stroke="#262626" stroke-width="8"/>
<line x1="1326.6" y1="1672" x2="1326.6" y2="1691.5" stroke="#262626" stroke-width="8"/>
<line x1="1670.7" y1="2930" x2="1670.7" y2="2910.5" stroke="#262626" stroke-width="8"/>
<line x1="1670.7" y1="1672" x2="1670.7" y2="1691.5" stroke="#262626" stroke-width="8"/>
<line x1="294.4" y1="2873" x2="313.9" y2="2873" stroke="#262626" stroke-width="8"/>
<line x1="2014.8" y1="2873" x2="1995.3" y2="2873" stroke="#262626" stroke-width="8"/>
<line x1="294.4" y1="2644.2" x2="313.9" y2="2644.2" stroke="#262626" stroke-width="8"/>
<line x1="2014.8" y1="2644.2" x2="1995.3" y2="2644.2" stroke="#262626" stroke-width="8"/>
<line x1="294.4" y1="2415.4" x2="313.9" y2="2415.4" stroke="#262626" stroke-width="8"/>
<line x1="2014.8" y1="2415.4" x2="1995.3" y2="2415.4" stroke="#262626" stroke-width="8"/>
<line x1="294.4" y1="2186.6" x2="313.9" y2="2186.6" stroke="#262626" stroke-width="8"/>
<line x1="2014.8" y1="2186.6" x2="1995.3" y2="2186.6" stroke="#262626" stroke-width="8"/>
<line x1="294.4" y1="1957.8" x2="313.9" y2="1957.8" stroke="#262626" stroke-width="8"/>
<line x1="2014.8" y1="1957.8" x2="1995.3" y2="1957.8" stroke="#262626" stroke-width="8"/>
<line x1="294.4" y1="1729" x2="313.9" y2="1729" stroke="#262626" stroke-width="8"/>
<line x1="2014.8" y1="1729" x2="1995.3" y2="1729" stroke="#262626" stroke-width="8"/>
<rect x="294.4" y="1672" width="1720.4" height="1258" fill="none" stroke="#262626" stroke-width="8"/>
<path d="M294.4 1736.3l1.1-.5l2.1 1l2.1-1l2.2 1.1l2.1-1l2.1 1l2.2-.9l2.1 1l2.1-1l2.2 1.1l2.1-1l2.1 1l2.2-1l2.1 1.1l2.1-1l2.2 1l2.1-1l2.1 1.1l2.2-1l2.1 1l2.1-1l2.2 1.1l2.1-1l2.1 1l2.2-1l2.1 1.1l2.1-1.1l2.2 1.1l2.1-1l2.1 1.1l2.2-1.1l2.1 1.1l2.1-1l2.2 1.1l2.1-1.1l2.1 1.1l2.2-1l2.1 1.1l2.1-1.1l2.2 1.1l2.1-1.1l2.1 1.2l2.2-1.1l2.1 1.1l2.1-1.1l2.2 1.1l2.1-1l2.1 1.1l2.2-1.1l2.1 1.1l2.1-1.1l2.2 1.2l2.1-1.1l2.1 1.1l2.2-1.1l2.1 1.2l2.1-1.2l2.2 1.2l2.1-1.1l2.1 1.2l2.2-1.2l2.1 1.2l2.1-1.2l2.2 1.3l2.1-1.2l2.1 1.2l2.2-1.2l2.1 1.3l2.1-1.3l2.2 1.3l2.1-1.2l2.1 1.3l2.2-1.3l2.1 1.3l2.1-1.3l2.2 1.4l2.1-1.4l2.1 1.5l2.2-1.4l2.1 1.4l2.1-1.4l2.2 1.5l2.1-1.5l2.1 1.5l2.2-1.5l2.1 1.6l2.1-1.5l2.2 1.6l2.1-1.6l2.1 1.6l2.2-1.6l2.1 1.7l2.1-1.6l2.2 1.7l2.1-1.7l2.1 1.7l2.2-1.7l2.1 1.8l2.1-1.8l2.2 1.9l2.1-1.8l2.1 1.8l2.2-1.8l2.1 1.9l2.1-1.9l2.2 2l2.1-1.9l2.1 2l2.2-2l2.1 2l2.1-1.9l2.2 2l2.1-2l2.1 2.1l2.2-2.1l2.1 2.2l2.1-2.1l2.2 2.1l2.1-2.1l2.1 2.2l2.2-2.1l2.1 2.2l2.1-2.1l2.2 2.2l2.1-2.2l2.1 2.3l2.2-2.2l2.1 2.3l2.1-2.2l2.2 2.3l2.1-2.3l2.1 2.4l2.2-2.3l2.1 2.4l2.1-2.3l2.2 2.4l2.1-2.3l2.1 2.4l2.2-2.3l2.1 2.4l2.1-2.3l2.2 2.4l2.1-2.3l2.1 2.4l2.2-2.3l2.1 2.5l2.1-2.4l2.2 2.5l2.1-2.4l2.1 2.5l2.2-2.4l2.1 2.5l2.1-2.5l2.2 2.4l2.1-2.6l2.1 2.2l2.2-2.7l2.1 2.1l2.1-2.8l2.2 2.2l2.1-2.8l2.1 2.3l2.2-2.5l2.1 2.7l2.1-2.2l2.2 3l2.1-1.9l2.1 3.2l2.2-1.7l2.1 3.2l2.1-1.7l2.2 3.2l2.1-1.8l2.1 3.3l2.2-1.8l2.1 3.2l2.1-1.7l2.2 3.2l2.1-1.9l2.1 3.1l2.2-1.9l2.1 2.9l2.1-2.2l2.2 2.7l2.1-2.4l2.1 2.5l2.2-2.5l2.1 2.4l2.1-2.6l2.2 2.4l2.1-2.5l2.1 2.5l2.2-2.4l2.1 2.7l2.1-2.2l2.2 2.9l2.1-2l2.1 3.1l2.2-1.9l2.1 3.3l2.1-1.7l2.2 3.5l2.1-1.5l2.1 3.6l2.2-1.3l2.1 3.9l2.1-1.1l2.2 4.2l2.1-.8l2.1 4.5l2.2-.3l2.1 5l2.1 .2l2.2 5.6l2.1 1l2.1 6.4l2.2 19.1l2.1 10.4l2.1 6.8l2.2 13.4l2.1 10.6l2 17.5l.1 .9l.2 1.3l.3 2.1l.2 2l.3 2l.3 2l.3 2.1l.2 2.3l.3 2.6l.1 .4l.2 2.5l.3 3.1l.2 3.3l.3 3.6l.3 3.6l.3 3.6l.3 3.5l.2 3l0 .5l.3 3.3l.3 3.3l.3 3.2l.2 3.3l.3 3.4l.3 3.7l.3 3.9l.1 2.6l.1 1.6l.3 4.6l.3 4.9l.3 5.1l.2 5.3l.3 5.4l.3 5.5l.3 5.5l.1 2l.1 3.4l.3 5.4l.3 5.4l.3 5.5l.2 5.7l.3 5.9l.3 6.3l.3 6.7l0 .9l.2 6.2l.3 7.5l.3 8l.3 8.2l.2 8.6l.3 8.7l.3 8.8l.2 7.8l.1 1.1l.2 9.1l.3 9.1l.3 9.4l.3 9.6l.2 9.9l.3 10.5l.3 10.9l.2 7.1l.1 4.4l.2 12.1l.3 12.6l.3 13.2l.3 13.6l.2 14l.3 14.3l.3 14.5l.1 5.6l.2 9.2l.2 15l.3 15.3l.3 15.7l.3 16l.2 16.6l.3 17.1l.3 17.7l0 2.2l.3 16l.2 18.9l.3 19.4l.3 19.7l.3 20.1l.2 20.2l.3 20.3l.3 17.7l0 2.5l.3 20.2l.2 20l.3 19.8l.3 19.6l.3 19.4l.2 19.3l.3 19l.2 11.7l.1 7l.3 18.2l.2 17.8l.3 17l.3 16.1l.3 15l.2 13.7l.3 12.2l.1 4.2l.2 6.5l.3 8.9l.2 7.3l.3 5.5l.3 3.9l.3 2.2l.2 .5l.3-.6l.1-.2l.2-1.7l.3-3.2l.2-4.3l.3-5.6l.3-7l.3-8.3l.3-9.6l.2-9.4l0-1.5l.3-12.1l.3-13.3l.3-14.4l.2-15.1l.3-15.9l.3-16.4l.3-16.8l.1-10.6l.1-6.4l.3-17.3l.3-17.3l.3-17.5l.2-17.6l.3-17.7l.3-17.9l.3-18.1l.1-6.8l.1-11.4l.3-18.3l.3-18.3l.3-18.3l.2-18l.3-17.7l.3-17.4l.3-16.8l0-2.1l.2-14.3l.3-15.8l.3-15.4l.3-14.9l.2-14.6l.3-14.3l.3-14.1l.2-12.2l.1-1.8l.2-13.8l.3-13.6l.3-13.4l.3-13.1l.2-12.7l.3-12.4l.3-11.8l.2-7.1l.1-4.2l.2-10.7l.3-10.3l.3-9.8l.3-9.6l.2-9.2l.3-9.1l.3-9l.1-3.3l.2-5.6l.2-8.9l.3-8.7l.3-8.6l.3-8.4l.2-8.1l.3-7.8l.3-7.3l0-.9l.3-6l.2-6.6l.3-6.1l.3-5.9l.3-5.8l.2-5.6l.3-5.6l.3-4.9l0-.7l.3-5.7l.2-5.7l.3-5.6l.3-5.6l.3-5.4l.2-5.2l.3-4.9l.2-2.9l.1-1.7l.3-4.2l.2-4l.3-3.7l.3-3.5l.3-3.5l.2-3.5l.3-3.6l.1-1.4l.2-2.3l.3-3.8l.2-3.8l.3-3.9l.3-3.7l.3-3.7l.2-3.4l.3-3.2l.1-.4l.2-2.5l.3-2.6l.2-2.4l.3-2.2l.3-2.2l.8-6.6l2.1-20l2.2-12.2l2.1-14.8l2.1-8l2.2-31.2l2.1-2.8l2.1-7.1l2.2-1.7l2.1-6.2l2.1-.8l2.2-5.5l2.1-.2l2.1-5l2.2 .3l2.1-4.6l2.1 .7l2.2-4.3l2.1 1l2.1-4l2.2 1.1l2.1-3.7l2.1 1.3l2.2-3.6l2.1 1.5l2.1-3.5l2.2 1.6l2.1-3.3l2.1 1.7l2.2-3.2l2.1 1.8l2.1-3.2l2.2 1.9l2.1-3.1l2.1 2l2.2-3.1l2.1 2l2.1-2.9l2.2 2l2.1-2.9l2.1 2.1l2.2-2.9l2.1 2.1l2.1-2.8l2.2 2.2l2.1-2.9l2.1 2.2l2.2-2.8l2.1 2.3l2.1-2.8l2.2 2.2l2.1-2.7l2.1 2.3l2.2-2.8l2.1 2.3l2.1-2.7l2.2 2.3l2.1-2.7l2.1 2.3l2.2-2.7l2.1 2.4l2.1-2.7l2.2 2.4l2.1-2.7l2.1 2.4l2.2-2.7l2.1 2.4l2.1-2.7l2.2 2.4l2.1-2.6l2.1 2.4l2.2-2.6l2.1 2.4l2.1-2.7l2.2 2.5l2.1-2.7l2.1 2.5l2.2-2.6l2.1 2.4l2.1-2.6l2.2 2.4l2.1-2.6l2.1 2.4l2.2-2.5l2.1 2.4l2.1-2.6l2.2 2.5l2.1-2.6l2.1 2.4l2.2-2.6l2.1 2.5l2.1-2.6l2.2 2.5l2.1-2.6l2.1 2.5l2.2-2.6l2.1 2.5l2.1-2.6l2.2 2.5l2.1-2.6l2.1 2.5l2.2-2.6l2.1 2.5l2.1-2.6l2.2 2.5l2.1-2.6l2.1 2.5l2.2-2.5l2.1 2.4l2.1-2.5l2.2 2.5l2.1-2.6l2.1 2.5l2.2-2.6l2.1 2.5l2.1-2.5l2.2 2.5l2.1-2.6l2.1 2.5l2.2-2.5l2.1 2.5l2.1-2.6l2.2 2.5l2.1-2.5l2.1 2.4l2.2-2.5l2.1 2.5l2.1-2.5l2.2 2.5l2.1-2.6l2.1 2.5l2.2-2.5l2.1 2.5l2.1-2.6l2.2 2.5l2.1-2.5l2.1 2.5l2.2-2.5l2.1 2.4l2.1-2.5l2.2 2.5l2.1-2.5l2.1 2.5l2.2-2.6l2.1 2.5l2.1-2.5l2.2 2.5l2.1-2.5l2.1 2.5l2.2-2.5l2.1 2.5l2.1-2.6l2.2 2.5l2.1-2.5l2.1 2.5l2.2-2.5l2.1 2.5l2.1-2.6l2.2 2.6l2.1-2.6l2.1 2.5l2.2-2.5l2.1 2.5l2.1-2.5l2.2 2.5l2.1-2.5l2.1 2.5l2.2-2.6l2.1 2.5l2.1-2.5l2.2 2.5l2.1-2.5l2.1 2.5l2.2-2.5l2.1 2.5l2.1-2.5l2.2 2.5l2.1-2.6l2.1 2.6l2.2-2.6l2.1 2.5l2.1-2.5l2.2 2.5l2.1-2.5l2.1 2.5l2.2-2.5l2.1 2.5l2.1-2.5l2.2 2.5l2.1-2.5l2.1 2.5l2.2-2.6l2.1 2.5l2.1-2.5l2.2 2.5l2.1-2.5l2.1 2.5l2.2-2.5l2.1 2.5l2.1-2.5l2.1 2.5l2.2-2.5l2.1 2.5l2.1-2.5l2.2 2.5l2.1-2.5l2.1 2.5l2.2-2.6l2.1 2.6l2.1-2.6l2.2 2.5l2.1-2.5l2.1 2.5l2.2-2.5l2.1 2.5l2.1-2.5l2.2 2.5l2.1-2.5l2.1 2.5l2.2-2.5l2.1 2.5l2.1-2.5l2.2 2.5l2.1-2.5l2.1 2.5l2.2-2.5l2.1 2.5l2.1-2.6l2.2 2.6l2.1-2.6l2.1 2.6l2.2-2.6l2.1 2.5l2.1-2.5l2.2 2.5l2.1-2.5l2.1 2.5l2.2-2.5l2.1 2.5l2.1-2.5l2.2 2.5l2.1-2.5l2.1 2.5l2.2-2.5l2.1 2.5l2.1-2.5l2.2 2.5l2.1-2.5l2.1 2.5l2.2-2.5l2.1 2.5l2.1-2.5l2.2 2.5l2.1-2.5l2.1 2.5l2.2-2.5l2.1 2.5l2.1-2.6l2.2 2.6l2.1-2.6l2.1 2.6l2.2-2.6l2.1 2.6l2.1-2.6l2.2 2.5l2.1-2.5l2.1 2.5l2.2-2.5l2.1 2.5l2.1-2.5l2.2 2.5l2.1-2.5l2.1 2.5l2.2-2.5l2.1 2.5l2.1-2.5l2.2 2.5l2.1-2.5l2.1 2.5l2.2-2.5l2.1 2.5l2.1-2.5l2.2 2.5l2.1-2.5l2.1 2.5l2.2-2.5l2.1 2.5l2.1-2.5l2.2 2.5l2.1-2.5l2.1 2.5l2.2-2.5l2.1 2.5l2.1-2.5l2.2 2.5l2.1-2.5l2.1 2.5l2.2-2.5l2.1 2.5l2.1-2.5l2.2 2.5l2.1-2.6l2.1 2.6l2.2-2.6l2.1 2.6l2.1-2.6l2.2 2.6l2.1-2.6l2.1 2.6l2.2-2.6l2.1 2.6l2.1-2.6l2.2 2.5l2.1-2.5l2.1 2.5l2.2-2.5l2.1 2.5l2.1-2.5l2.2 2.5l2.1-2.5l2.1 2.5l2.2-2.5l2.1 2.5l2.1-2.5l2.2 2.5l2.1-2.5l2.1 2.5l2.2-2.5l2.1 2.5l2.1-2.5l2.2 2.5l2.1-2.5l2.1 2.5l2.2-2.5l2.1 2.5l2.1-2.5l2.2 2.5l2.1-2.5l2.1 2.5l2.2-2.5l2.1 2.5l2.1-2.5l2.2 2.5l2.1-2.5l2.1 2.5l2.2-2.5l2.1 2.5l2.1-2.5l2.2 2.5l2.1-2.5l2.1 2.5l2.2-2.5l2.1 2.5l2.1-2.5l2.2 2.5l2.1-2.5l2.1 2.5l2.2-2.5l2.1 2.5l2.1-2.5l2.2 2.5l2.1-2.5l2.1 2.5l2.2-2.5l2.1 2.5l2.1-2.5l2.2 2.5l2.1-2.5l2.1 2.5l2.2-2.5l2.1 2.5l2.1-2.5l2.2 2.5l2.1-2.5l2.1 2.5l2.2-2.5l2.1 2.5l2.1-2.6l2.2 2.6l2.1-2.6l2.1 2.6l2.2-2.6l2.1 2.6l2.1-2.6l2.2 2.6l2.1-2.6l2.1 2.6l2.2-2.6l2.1 2.6l2.1-2.6l2.2 2.6l2.1-2.6l2.1 2.6l2.2-2.6l2.1 2.6l2.1-2.6l2.2 2.6l2.1-2.6l2.1 2.5l2.2-2.5l2.1 2.5l2.1-2.5l2.2 2.5l2.1-2.5l2.1 2.5l2.2-2.5l2.1 2.5l2.1-2.5l2.2 2.5l2.1-2.5l2.1 2.5l2.2-2.5l2.1 2.5l2.1-2.5l2.2 2.5l2.1-2.5l2.1 2.5l2.2-2.5l2.1 2.5l2.1-2.5l2.2 2.5l2.1-2.5l2.1 2.5l2.2-2.5l2.1 2.5l2.1-2.5l2.2 2.5l2.1-2.5l2.1 2.5l2.2-2.5l2.1 2.5l2.1-2.5l2.2 2.5l2.1-2.5l2.1 2.5l2.2-2.5l2.1 2.5l2.1-2.5l2.2 2.5l2.1-2.5l2.1 2.5l2.2-2.5l2.1 2.5l2.1-2.5l2.2 2.5l2.1-2.5l2.1 2.5l2.2-2.5l2.1 2.5l2.1-2.5l2.2 2.5l2.1-2.5l2.1 2.5l2.2-2.5l2.1 2.5l2.1-2.5l2.2 2.5l2.1-2.5l2.1 2.5l2.2-2.5l2.1 2.5l2.1-2.5l2.2 2.5l2.1-2.5l2.1 2.5l2.2-2.5l2.1 2.5l2.1-2.5l2.2 2.5l2.1-2.5l2.1 2.5l2.2-2.5l2.1 2.5l2.1-2.5l2.2 2.5l2.1-2.5l2.1 2.5l2.2-2.5l2.1 2.5l2.1-2.5l2.2 2.5l2.1-2.5l2.1 2.5l2.2-2.5l2.1 2.5l2.1-2.5l2.2 2.5l2.1-2.5l2.1 2.5l2.2-2.5l2.1 2.5l2.1-2.5l2.2 2.5l2.1-2.5l2.1 2.5l2.2-2.5l2.1 2.5l2.1-2.5l2.2 2.5l2.1-2.5l2.1 2.5l2.2-2.5l2.1 2.5l2.1-2.5l2.2 2.5l2.1-2.5l2.1 2.5l2.2-2.5l2.1 2.5l2.1-2.5l2.2 2.5l2.1-2.5l2.1 2.5l2.2-2.5l2.1 2.5l2.1-2.5l2.2 2.5l2.1-2.5l2.1 2.5l2.2-2.5l2.1 2.5l2.1-2.5l2.2 2.5l2.1-2.5l2.1 2.5l2.2-2.5l2.1 2.5l2.1-2.5l2.2 2.5l2.1-2.5l2.1 2.5l2.2-2.5l2.1 2.5l2.1-2.5l2.2 2.5l2.1-2.5l2.1 2.5l2.2-2.5l2.1 2.5l2.1-2.5l2.2 2.5l2.1-2.5l2.1 2.5l2.2-2.5l2.1 2.5l2.1-2.5l2.2 2.5l2.1-2.5l2.1 2.5l2.2-2.5l2.1 2.5l2.1-2.5l2.2 2.5l2.1-2.5l2.1 2.5l2.2-2.5l2.1 2.5l2.1-2.5l2.2 2.5l2-2.5" fill="none" stroke="#1ca991" stroke-width="7.3" stroke-dasharray="7.4 7.4" stroke-linejoin="round"/>
<path d="M294.4 1738.7l1.1 0l2.1 0l2.1 0l2.2 0l2.1 0l2.1 0l2.2 .1l2.1 0l2.1 0l2.2 0l2.1 0l2.1 0l2.2 0l2.1 0l2.1 .1l2.2 0l2.1 0l2.1 0l2.2 0l2.1 0l2.1 0l2.2 .1l2.1 0l2.1 0l2.2 0l2.1 0l2.1 0l2.2 .1l2.1 0l2.1 0l2.2 0l2.1 0l2.1 0l2.2 .1l2.1 0l2.1 0l2.2 0l2.1 0l2.1 .1l2.2 0l2.1 0l2.1 0l2.2 .1l2.1 0l2.1 0l2.2 0l2.1 .1l2.1 0l2.2 0l2.1 .1l2.1 0l2.2 0l2.1 .1l2.1 0l2.2 0l2.1 .1l2.1 0l2.2 0l2.1 .1l2.1 0l2.2 .1l2.1 0l2.1 .1l2.2 0l2.1 0l2.1 .1l2.2 0l2.1 .1l2.1 .1l2.2 0l2.1 .1l2.1 0l2.2 .1l2.1 .1l2.1 0l2.2 .1l2.1 .1l2.1 0l2.2 .1l2.1 .1l2.1 .1l2.2 .1l2.1 .1l2.1 .1l2.2 .1l2.1 .1l2.1 .1l2.2 .1l2.1 .1l2.1 .1l2.2 .2l2.1 .1l2.1 .1l2.2 .2l2.1 .1l2.1 .2l2.2 .2l2.1 .1l2.1 .2l2.2 .2l2.1 .2l2.1 .3l2.2 .2l2.1 .2l2.1 .3l2.2 .3l2.1 .3l2.1 .3l2.2 .3l2.1 .4l2.1 .3l2.2 .4l2.1 .5l2.1 .4l2.2 .5l2.1 .5l2.1 .6l2.2 .6l2.1 .7l2.1 .7l2.2 .7l2.1 .9l2.1 .8l2.2 1l2.1 1.1l2.1 1.1l2.2 1.3l2.1 1.4l2.1 1.5l2.2 1.7l2.1 1.9l2.1 2l2.2 2.3l2.1 2.6l2.1 2.9l2.2 3.2l2.1 3.6l2.1 4l2.2 4.6l2.1 5.2l2.1 5.9l2.2 6.7l2.1 7.6l2.1 8.5l2.2 9.7l2.1 10.8l2.1 12l2.2 13l2.1 13.9l2.1 14.3l2.2 13.9l2.1 12.7l2.1 10.2l2.2 6.8l2.1 2.4l2.1-2l2.2-6.4l2.1-9.9l2.1-12.4l2.2-13.8l2.1-14.1l2.1-13.7l2.2-13l2.1-11.9l2.1-10.8l2.2-9.6l2.1-8.5l2.1-7.6l2.2-6.6l2.1-5.9l2.1-5.2l2.2-4.6l2.1-4l2.1-3.6l2.2-3.2l2.1-2.9l2.1-2.6l2.2-2.3l2.1-2.1l2.1-1.8l2.2-1.8l2.1-1.5l2.1-1.4l2.2-1.3l2.1-1.2l2.1-1.1l2.2-1l2.1-.9l2.1-.8l2.2-.8l2.1-.8l2.1-.6l2.2-.7l2.1-.6l2.1-.5l2.2-.5l2.1-.5l2.1-.5l2.2-.4l2.1-.4l2.1-.4l2.2-.3l2.1-.4l2.1-.3l2.2-.3l2.1-.3l2.1-.3l2.2-.2l2.1-.3l2.1-.2l2.2-.3l2.1-.1l2.1-.3l2.2-.1l2.1-.3l2.1-.1l2.2-.2l2.1-.1l2.1-.3l2.2 0l2.1-.3l2.1 0l2.2-.2l2.1-.1l2.1-.2l2.2 0l2.1-.2l2.1-.1l2.2-.2l2.1 0l2.1-.2l2.2 .1l2.1-.2l2.1 0l2.2-.2l2.1 0l2.1-.2l2.2 .1l2.1-.3l2.1 .1l2.2-.2l2.1 .1l2.1-.2l2.2 0l2.1-.2l2.1 .1l2.2-.2l2.1 .1l2.1-.2l2.2 .1l2.1-.2l2.1 .1l2.2-.2l2.1 .1l2.1-.2l2.2 .2l2.1-.3l2.1 .2l2.2-.3l2.1 .2l2.1-.3l2.2 .2l2.1-.3l2.1 .3l2.2-.4l2.1 .3l2.1-.4l2.2 .4l2.1-.5l2.1 .4l2.2-.4l2.1 .4l2.1-.5l2.2 .4l2.1-.5l2.1 .5l2.2-.6l2.1 .6l2.1-.6l2.2 .5l2.1-.6l2.1 .6l2.2-.7l2.1 .7l2.1-.7l2.2 .7l2.1-.8l2.1 .7l2.2-.7l2.1 .7l2.1-.8l2.2 .8l2.1-.9l2.1 .9l2.2-.9l2.1 .9l2.1-1l2.2 1l2.1-1l2.1 1l2.2-1.1l2.1 1.1l2.1-1.2l2.2 1.2l2.1-1.2l2.1 1.2l2.2-1.3l2.1 1.3l2.1-1.3l2.2 1.3l2.1-1.4l2.1 1.4l2.2-1.5l2.1 1.5l2.1-1.5l2.2 1.5l2.1-1.6l2.1 1.7l2.2-1.7l2.1 1.7l2.1-1.8l2.2 1.8l2.1-1.8l2.1 1.8l2.2-1.9l2.1 1.9l2.1-1.9l2.2 1.9l2.1-2l2.1 2.1l2.2-2.1l2.1 2.1l2.1-2.2l2.2 2.2l2.1-2.2l2.1 2.2l2.2-2.3l2.1 2.4l2.1-2.4l2.2 2.4l2.1-2.5l2.1 2.5l2.2-2.5l2.1 2.5l2.1-2.5l2.2 2.5l2.1-2.6l2.1 2.7l2.2-2.7l2.1 2.7l2.1-2.8l2.2 2.8l2.1-2.8l2.1 2.8l2.2-2.8l2.1 2.8l2.1-2.9l2.2 2.9l2.1-2.9l2.1 3l2.2-3l2.1 3l2.1-3l2.2 3l2.1-3.1l2.1 3.1l2.2-3.1l2.1 3.1l2.1-3.1l2.2 3.1l2.1-3.1l2.1 3.1l2.2-3.1l2.1 3.2l2.1-3.3l2.2 3.3l2.1-3.3l2.1 3.3l2.2-3.3l2.1 3.3l2.1-3.3l2.2 3.3l2.1-3.3l2.1 3.3l2.2-3.3l2.1 3.3l2.1-3.3l2.2 3.3l2.1-3.3l2.1 3.4l2.2-3.5l2.1 3.5l2.1-3.5l2.2 3.5l2.1-3.5l2.1 3.5l2.2-3.5l2.1 3.5l2.1-3.5l2.2 3.5l2.1-3.5l2.1 3.5l2.2-3.5l2.1 3.5l2.1-3.5l2.2 3.6l2.1-3.6l2.1 3.6l2.2-3.6l2.1 3.6l2.1-3.5l2.2 3.5l2.1-3.5l2.1 3.5l2.2-3.5l2.1 3.5l2.1-3.5l2.2 3.6l2.1-3.6l2.1 3.6l2.2-3.6l2.1 3.6l2.1-3.6l2.2 3.6l2.1-3.6l2.1 3.6l2.2-3.5l2.1 3.6l2.1-3.6l2.2 3.6l2.1-3.6l2.1 3.6l2.2-3.6l2.1 3.7l2.1-3.6l2.2 3.6l2.1-3.6l2.1 3.6l2.2-3.6l2.1 3.7l2.1-3.6l2.2 3.6l2.1-3.6l2.1 3.7l2.2-3.6l2.1 3.6l2.1-3.6l2.1 3.7l2.2-3.6l2.1 3.6l2.1-3.6l2.2 3.7l2.1-3.6l2.1 3.7l2.2-3.6l2.1 3.7l2.1-3.6l2.2 3.7l2.1-3.6l2.1 3.7l2.2-3.6l2.1 3.7l2.1-3.6l2.2 3.8l2.1-3.6l2.1 3.7l2.2-3.5l2.1 3.7l2.1-3.5l2.2 3.7l2.1-3.5l2.1 3.8l2.2-3.6l2.1 3.8l2.1-3.5l2.2 3.9l2.1-3.5l2.1 3.9l2.2-3.5l2.1 3.9l2.1-3.4l2.2 4l2.1-3.4l2.1 3.6l2.2-2.3l2.1 3.6l2.1-3.6l2.2 5.5l2.1-3.6l2.1 3.6l2.2-.8l2.1 3.7l2.1-3.7l2.2 3.7l2.1 1l2.1 3.7l2.2-3.7l2.1 12.2l2.1-3.7l2.2 3.7l2.1 13.9l2.1 3.7l.3-.1l.3-.4l.2-.6l.3 2.6l.3 .5l.3 .6l.2 .9l.3 1l0 .2l.3 1.6l.3 1.9l.2 2.1l.3 2.3l.3 2.4l.3 2.3l.2 2.1l.2 1.2l.1 .7l.3 1.7l.3 1.5l.2 1.4l.3 1.5l.3 1.7l.3 1.9l.2 2.3l.1 1l.2 1.7l.3 3.2l.3 3.5l.2 3.8l.3 4l.3 4.1l.3 4.1l.2 4l.1 .5l.2 3.4l.3 3.8l.3 3.9l.2 4l.3 4.3l.3 4.7l.3 5.2l.2 5.1l0 .7l.3 6.5l.3 7.1l.3 7.7l.2 8.2l.3 8.7l.3 9l.3 9.3l.1 5.9l.2 3.7l.2 9.8l.3 10.3l.3 10.8l.3 11.4l.2 12.2l.3 13.2l.3 14.3l.1 5.6l.2 9.8l.2 16.6l.3 17.7l.3 18.7l.3 19.6l.2 20.4l.3 20.9l.3 21.4l0 2.7l.3 19l.2 21.8l.3 21.7l.3 21.6l.3 21.3l.2 20.6l.3 19.8l.2 16.3l.1 2.3l.3 16.9l.2 14.9l.3 12.3l.3 9.3l.3 6l.2 2.3l.3-1.4l.2-2.9l.1-2.4l.3-8.8l.2-12.2l.3-15.1l.3-17.5l.3-19.3l.2-20.7l.3-21.5l.1-8.2l.2-13.7l.3-22l.2-21.9l.3-21.4l.3-21.1l.3-20.5l.2-20.1l.3-19.5l0-2.4l.3-16.6l.3-18.4l.2-17.8l.3-16.9l.3-16.1l.3-15.2l.2-14l.3-11.5l0-1.6l.3-11.9l.3-11l.2-10.2l.3-9.4l.3-8.8l.3-8.4l.2-8.1l.2-5l.1-3l.3-7.7l.3-7.6l.2-7.3l.3-7l.3-6.6l.3-6.1l.2-5.6l.1-1.9l.2-3l.3-4.5l.3-3.9l.2-3.5l.3-3.3l.3-3.2l.3-3.2l.2-3.2l.1-.4l.2-3l.3-3.5l.3-3.6l.2-3.5l.3-3.4l.3-3.2l.3-2.8l.2-2.2l0-.2l.3-2.1l.3-1.7l.3-1.4l.2-1.2l.3-1.1l.3-1.3l.3-1.3l.1-1l.2-.6l.2-1.9l.3-2l.3-2.1l.3-2.1l.2-2.1l.3-1.8l.3-1.4l.1-.5l.2-.7l.2-3l.3 .6l1.4 2.7l2.1-3.7l2.2-13.9l2.1-3.7l2.1 3.7l2.2-12.2l2.1 3.7l2.1-3.7l2.2-1.1l2.1-3.6l2.1 3.6l2.2-6.5l2.1 3.7l2.1-3.7l2.2 1.8l2.1-3.7l2.1 3.7l2.2-3.7l2.1 2.4l2.1-3.7l2.2 3.3l2.1-3.9l2.1 3.4l2.2-3.9l2.1 3.4l2.1-3.8l2.2 3.4l2.1-3.8l2.1 3.5l2.2-3.8l2.1 3.5l2.1-3.7l2.2 3.5l2.1-3.8l2.1 3.6l2.2-3.8l2.1 3.6l2.1-3.7l2.2 3.6l2.1-3.8l2.1 3.6l2.2-3.7l2.1 3.6l2.1-3.7l2.2 3.6l2.1-3.7l2.1 3.6l2.2-3.7l2.1 3.6l2.1-3.7l2.2 3.6l2.1-3.7l2.1 3.6l2.2-3.7l2.1 3.7l2.1-3.7l2.2 3.6l2.1-3.7l2.1 3.6l2.2-3.6l2.1 3.6l2.1-3.7l2.2 3.7l2.1-3.7l2.1 3.6l2.2-3.7l2.1 3.7l2.1-3.7l2.2 3.6l2.1-3.6l2.1 3.6l2.2-3.7l2.1 3.7l2.1-3.7l2.2 3.6l2.1-3.6l2.1 3.6l2.2-3.7l2.1 3.7l2.1-3.7l2.2 3.7l2.1-3.7l2.1 3.6l2.2-3.6l2.1 3.6l2.1-3.7l2.2 3.7l2.1-3.7l2.1 3.7l2.2-3.7l2.1 3.7l2.1-3.7l2.2 3.6l2.1-3.6l2.1 3.6l2.2-3.6l2.1 3.6l2.1-3.7l2.2 3.7l2.1-3.7l2.1 3.7l2.2-3.7l2.1 3.7l2.1-3.7l2.2 3.7l2.1-3.7l2.1 3.6l2.2-3.6l2.1 3.6l2.1-3.6l2.2 3.6l2.1-3.6l2.1 3.6l2.2-3.7l2.1 3.7l2.1-3.7l2.2 3.7l2.1-3.7l2.1 3.7l2.2-3.7l2.1 3.7l2.1-3.7l2.2 3.7l2.1-3.7l2.1 3.7l2.2-3.7l2.1 3.7l2.1-3.7l2.2 3.6l2.1-3.6l2.1 3.6l2.2-3.6l2.1 3.6l2.1-3.6l2.2 3.6l2.1-3.6l2.1 3.6l2.2-3.6l2.1 3.6l2.1-3.6l2.2 3.6l2.1-3.7l2.1 3.7l2.2-3.7l2.1 3.7l2.1-3.7l2.2 3.7l2.1-3.7l2.1 3.7l2.2-3.7l2.1 3.7l2.1-3.7l2.2 3.7l2.1-3.7l2.1 3.7l2.2-3.7l2.1 3.7l2.1-3.7l2.2 3.7l2.1-3.7l2.1 3.7l2.2-3.7l2.1 3.7l2.1-3.7l2.2 3.7l2.1-3.7l2.1 3.7l2.2-3.7l2.1 3.6l2.1-3.6l2.2 3.6l2.1-3.6l2.1 3.6l2.2-3.6l2.1 3.6l2.1-3.6l2.2 3.6l2.1-3.6l2.1 3.6l2.2-3.6l2.1 3.6l2.1-3.6l2.2 3.6l2.1-3.6l2.1 3.6l2.2-3.6l2.1 3.6l2.1-3.6l2.2 3.6l2.1-3.6l2.1 3.6l2.2-3.6l2.1 3.6l2.1-3.6l2.2 3.6l2.1-3.7l2.1 3.7l2.2-3.7l2.1 3.7l2.1-3.7l2.2 3.7l2.1-3.7l2.1 3.7l2.2-3.7l2.1 3.7l2.1-3.7l2.2 3.7l2.1-3.7l2.1 3.7l2.2-3.7l2.1 3.7l2.1-3.7l2.2 3.7l2.1-3.7l2.1 3.7l2.2-3.7l2.1 3.7l2.1-3.7l2.2 3.7l2.1-3.7l2.1 3.7l2.2-3.7l2.1 3.7l2.1-3.7l2.2 3.7l2.1-3.7l2.1 3.7l2.2-3.7l2.1 3.7l2.1-3.7l2.2 3.7l2.1-3.7l2.1 3.7l2.2-3.7l2.1 3.7l2.1-3.7l2.2 3.7l2.1-3.7l2.1 3.7l2.2-3.7l2.1 3.7l2.1-3.7l2.2 3.7l2.1-3.7l2.1 3.7l2.2-3.7l2.1 3.7l2.1-3.7l2.2 3.7l2.1-3.7l2.1 3.7l2.2-3.7l2.1 3.7l2.1-3.7l2.2 3.7l2.1-3.7l2.1 3.7l2.2-3.7l2.1 3.7l2.1-3.7l2.2 3.7l2.1-3.7l2.1 3.7l2.2-3.7l2.1 3.7l2.1-3.7l2.2 3.7l2.1-3.7l2.1 3.7l2.2-3.7l2.1 3.7l2.1-3.7l2.2 3.7l2.1-3.7l2.1 3.6l2.2-3.6l2.1 3.6l2.1-3.6l2.2 3.6l2.1-3.6l2.1 3.6l2.2-3.6l2.1 3.6l2.1-3.6l2.2 3.6l2-3.6" fill="none" stroke="#1ca991" stroke-width="7.8" stroke-linejoin="round"/>
<line x1="626" y1="1960" x2="579.5" y2="2333" stroke="#5b9bd5" stroke-width="7"/>
<polygon points="576,2361 563.5,2329.5 595.5,2333.5" fill="#5b9bd5"/>
<line x1="1361.5" y1="2199.8" x2="1190" y2="2333.2" stroke="#ff0000" stroke-width="7"/>
<polygon points="1169,2349.5 1186,2318 1204,2341.5" fill="#ff0000"/>
<rect x="309.7" y="2394.5" width="406.6" height="518" fill="none" stroke="#5b9bd5" stroke-width="12" stroke-dasharray="49.5 36.8"/>
<rect x="835.3" y="2397.5" width="407.7" height="517.9" fill="none" stroke="#ff0000" stroke-width="12" stroke-dasharray="49.5 36.8"/>
<text x="322.3" y="2349" font-size="81.3" text-anchor="start" fill="#000">mode1</text>
<text x="927.5" y="2353.3" font-size="83" text-anchor="start" fill="#000">mode2</text>
<rect x="336.7" y="2415.5" width="348.7" height="473.7" fill="#b3ff4c"/>
<rect x="336.7" y="2724.6" width="348.7" height="32.6" fill="#a3ff5c"/>
<g clip-path="url(#cla)"><g filter="url(#vb)">
<rect x="336.7" y="2401.5" width="348.7" height="7.6" fill="url(#fa0)"/>
<rect x="336.7" y="2408.5" width="348.7" height="7.6" fill="url(#fa1)"/>
<rect x="336.7" y="2415.5" width="348.7" height="7.6" fill="url(#fa2)"/>
<rect x="336.7" y="2422.5" width="348.7" height="7.6" fill="url(#fa3)"/>
<rect x="336.7" y="2429.5" width="348.7" height="7.6" fill="url(#fa4)"/>
<rect x="336.7" y="2436.5" width="348.7" height="7.6" fill="url(#fa5)"/>
<rect x="336.7" y="2443.5" width="348.7" height="7.6" fill="url(#fa6)"/>
<rect x="336.7" y="2450.5" width="348.7" height="7.6" fill="url(#fa7)"/>
<rect x="336.7" y="2457.5" width="348.7" height="7.6" fill="url(#fa8)"/>
<rect x="336.7" y="2464.5" width="348.7" height="7.6" fill="url(#fa9)"/>
<rect x="336.7" y="2471.5" width="348.7" height="7.6" fill="url(#fa10)"/>
<rect x="336.7" y="2478.5" width="348.7" height="7.6" fill="url(#fa11)"/>
<rect x="336.7" y="2485.5" width="348.7" height="7.6" fill="url(#fa12)"/>
<rect x="336.7" y="2492.5" width="348.7" height="7.6" fill="url(#fa13)"/>
<rect x="336.7" y="2499.5" width="348.7" height="7.6" fill="url(#fa14)"/>
<rect x="336.7" y="2506.5" width="348.7" height="7.6" fill="url(#fa15)"/>
<rect x="336.7" y="2513.5" width="348.7" height="7.6" fill="url(#fa16)"/>
<rect x="336.7" y="2520.5" width="348.7" height="7.6" fill="url(#fa17)"/>
<rect x="336.7" y="2527.5" width="348.7" height="7.6" fill="url(#fa18)"/>
<rect x="336.7" y="2534.5" width="348.7" height="7.6" fill="url(#fa19)"/>
<rect x="336.7" y="2541.5" width="348.7" height="7.6" fill="url(#fa20)"/>
<rect x="336.7" y="2548.5" width="348.7" height="7.6" fill="url(#fa21)"/>
<rect x="336.7" y="2555.5" width="348.7" height="7.6" fill="url(#fa22)"/>
<rect x="336.7" y="2562.5" width="348.7" height="7.6" fill="url(#fa23)"/>
<rect x="336.7" y="2569.5" width="348.7" height="7.6" fill="url(#fa24)"/>
<rect x="336.7" y="2576.5" width="348.7" height="7.6" fill="url(#fa25)"/>
<rect x="336.7" y="2583.5" width="348.7" height="7.6" fill="url(#fa26)"/>
<rect x="336.7" y="2590.5" width="348.7" height="7.6" fill="url(#fa27)"/>
<rect x="336.7" y="2597.5" width="348.7" height="7.6" fill="url(#fa28)"/>
<rect x="336.7" y="2604.5" width="348.7" height="7.6" fill="url(#fa29)"/>
<rect x="336.7" y="2611.5" width="348.7" height="7.6" fill="url(#fa30)"/>
<rect x="336.7" y="2618.5" width="348.7" height="7.6" fill="url(#fa31)"/>
<rect x="336.7" y="2625.5" width="348.7" height="7.6" fill="url(#fa32)"/>
<rect x="336.7" y="2632.5" width="348.7" height="7.6" fill="url(#fa33)"/>
<rect x="336.7" y="2639.5" width="348.7" height="7.6" fill="url(#fa34)"/>
<rect x="336.7" y="2646.5" width="348.7" height="7.6" fill="url(#fa35)"/>
<rect x="336.7" y="2653.5" width="348.7" height="7.6" fill="url(#fa36)"/>
<rect x="336.7" y="2660.5" width="348.7" height="7.6" fill="url(#fa37)"/>
<rect x="336.7" y="2667.5" width="348.7" height="7.6" fill="url(#fa38)"/>
<rect x="336.7" y="2674.5" width="348.7" height="7.6" fill="url(#fa39)"/>
<rect x="336.7" y="2681.5" width="348.7" height="7.6" fill="url(#fa40)"/>
<rect x="336.7" y="2688.5" width="348.7" height="7.6" fill="url(#fa41)"/>
<rect x="336.7" y="2695.5" width="348.7" height="7.6" fill="url(#fa42)"/>
<rect x="336.7" y="2702.5" width="348.7" height="7.6" fill="url(#fa43)"/>
<rect x="336.7" y="2709.5" width="348.7" height="7.6" fill="url(#fa44)"/>
<rect x="336.7" y="2716.5" width="348.7" height="7.6" fill="url(#fa45)"/>
<rect x="336.7" y="2723.5" width="348.7" height="7.6" fill="url(#fa46)"/>
<rect x="336.7" y="2730.5" width="348.7" height="7.6" fill="url(#fa47)"/>
<rect x="336.7" y="2737.5" width="348.7" height="7.6" fill="url(#fa48)"/>
</g></g>
<rect x="336.7" y="2724.6" width="95" height="13" fill="url(#s1)" mask="url(#mk1)"/>
<rect x="-685.4" y="2724.6" width="95" height="13" fill="url(#s1)" mask="url(#mk1)" transform="scale(-1 1)"/>
<path d="M336.7 2724.6H685.4M336.7 2757.2H685.4M465.4 2724.6V2659H557.1V2724.6" stroke="#4d5a3c" stroke-opacity=".6" stroke-width="1.4" fill="none"/>
<line x1="336.9" y1="2415.5" x2="336.9" y2="2889.2" stroke="#b9b9b9" stroke-width="1.8"/>
<rect x="867" y="2418.5" width="349.4" height="472.9" fill="#80ff80"/>
<rect x="867" y="2727.3" width="349.4" height="32.3" fill="#80ff80"/>
<g clip-path="url(#clb)"><g filter="url(#vb)">
<rect x="867" y="2404.5" width="349.4" height="7.6" fill="url(#fb0)"/>
<rect x="867" y="2411.5" width="349.4" height="7.6" fill="url(#fb1)"/>
<rect x="867" y="2418.5" width="349.4" height="7.6" fill="url(#fb2)"/>
<rect x="867" y="2425.5" width="349.4" height="7.6" fill="url(#fb3)"/>
<rect x="867" y="2432.5" width="349.4" height="7.6" fill="url(#fb4)"/>
<rect x="867" y="2439.5" width="349.4" height="7.6" fill="url(#fb5)"/>
<rect x="867" y="2446.5" width="349.4" height="7.6" fill="url(#fb6)"/>
<rect x="867" y="2453.5" width="349.4" height="7.6" fill="url(#fb7)"/>
<rect x="867" y="2460.5" width="349.4" height="7.6" fill="url(#fb8)"/>
<rect x="867" y="2467.5" width="349.4" height="7.6" fill="url(#fb9)"/>
<rect x="867" y="2474.5" width="349.4" height="7.6" fill="url(#fb10)"/>
<rect x="867" y="2481.5" width="349.4" height="7.6" fill="url(#fb11)"/>
<rect x="867" y="2488.5" width="349.4" height="7.6" fill="url(#fb12)"/>
<rect x="867" y="2495.5" width="349.4" height="7.6" fill="url(#fb13)"/>
<rect x="867" y="2502.5" width="349.4" height="7.6" fill="url(#fb14)"/>
<rect x="867" y="2509.5" width="349.4" height="7.6" fill="url(#fb15)"/>
<rect x="867" y="2516.5" width="349.4" height="7.6" fill="url(#fb16)"/>
<rect x="867" y="2523.5" width="349.4" height="7.6" fill="url(#fb17)"/>
<rect x="867" y="2530.5" width="349.4" height="7.6" fill="url(#fb18)"/>
<rect x="867" y="2537.5" width="349.4" height="7.6" fill="url(#fb19)"/>
<rect x="867" y="2544.5" width="349.4" height="7.6" fill="url(#fb20)"/>
<rect x="867" y="2551.5" width="349.4" height="7.6" fill="url(#fb21)"/>
<rect x="867" y="2558.5" width="349.4" height="7.6" fill="url(#fb22)"/>
<rect x="867" y="2565.5" width="349.4" height="7.6" fill="url(#fb23)"/>
<rect x="867" y="2572.5" width="349.4" height="7.6" fill="url(#fb24)"/>
<rect x="867" y="2579.5" width="349.4" height="7.6" fill="url(#fb25)"/>
<rect x="867" y="2586.5" width="349.4" height="7.6" fill="url(#fb26)"/>
<rect x="867" y="2593.5" width="349.4" height="7.6" fill="url(#fb27)"/>
<rect x="867" y="2600.5" width="349.4" height="7.6" fill="url(#fb28)"/>
<rect x="867" y="2607.5" width="349.4" height="7.6" fill="url(#fb29)"/>
<rect x="867" y="2614.5" width="349.4" height="7.6" fill="url(#fb30)"/>
<rect x="867" y="2621.5" width="349.4" height="7.6" fill="url(#fb31)"/>
<rect x="867" y="2628.5" width="349.4" height="7.6" fill="url(#fb32)"/>
<rect x="867" y="2635.5" width="349.4" height="7.6" fill="url(#fb33)"/>
<rect x="867" y="2642.5" width="349.4" height="7.6" fill="url(#fb34)"/>
<rect x="867" y="2649.5" width="349.4" height="7.6" fill="url(#fb35)"/>
<rect x="867" y="2656.5" width="349.4" height="7.6" fill="url(#fb36)"/>
<rect x="867" y="2663.5" width="349.4" height="7.6" fill="url(#fb37)"/>
<rect x="867" y="2670.5" width="349.4" height="7.6" fill="url(#fb38)"/>
<rect x="867" y="2677.5" width="349.4" height="7.6" fill="url(#fb39)"/>
<rect x="867" y="2684.5" width="349.4" height="7.6" fill="url(#fb40)"/>
<rect x="867" y="2691.5" width="349.4" height="7.6" fill="url(#fb41)"/>
<rect x="867" y="2698.5" width="349.4" height="7.6" fill="url(#fb42)"/>
<rect x="867" y="2705.5" width="349.4" height="7.6" fill="url(#fb43)"/>
<rect x="867" y="2712.5" width="349.4" height="7.6" fill="url(#fb44)"/>
<rect x="867" y="2719.5" width="349.4" height="7.6" fill="url(#fb45)"/>
<rect x="867" y="2726.5" width="349.4" height="7.6" fill="url(#fb46)"/>
<rect x="867" y="2733.5" width="349.4" height="7.6" fill="url(#fb47)"/>
<rect x="867" y="2740.5" width="349.4" height="7.6" fill="url(#fb48)"/>
</g></g>
<rect x="905" y="2727.3" width="125" height="11" fill="url(#s2)" mask="url(#mk2)"/>
<rect x="1055" y="2727.3" width="130" height="11" fill="url(#s3)" mask="url(#mk2)"/>
<path d="M867 2727.3H1216.4M867 2759.6H1216.4M996 2727.3V2660.6H1089.4V2727.3" stroke="#4d5a3c" stroke-opacity=".6" stroke-width="1.4" fill="none"/>
<line x1="867.2" y1="2418.5" x2="867.2" y2="2891.4" stroke="#b9b9b9" stroke-width="1.8"/>
<line x1="1216.2" y1="2418.5" x2="1216.2" y2="2891.4" stroke="#9adf9a" stroke-width="1.2"/>
<rect x="1273.5" y="2474.5" width="29.6" height="362" fill="none" stroke="#f1f1f1" stroke-width="3"/>
<rect x="1276" y="2477" width="24.6" height="357" fill="url(#jb)" stroke="#b4b4b4" stroke-opacity=".8" stroke-width="2"/>
<text x="1341" y="2552.5" font-size="80" text-anchor="start" fill="#000">1</text>
<text x="1325" y="2800.5" font-size="80" text-anchor="start" fill="#000">-1</text>
<text x="267.5" y="2901.5" font-size="82" text-anchor="end" fill="#262626">0</text>
<text x="265" y="2672.7" font-size="82" text-anchor="end" fill="#262626">0.2</text>
<text x="265" y="2443.9" font-size="82" text-anchor="end" fill="#262626">0.4</text>
<text x="265" y="2215.1" font-size="82" text-anchor="end" fill="#262626">0.6</text>
<text x="265" y="1986.3" font-size="82" text-anchor="end" fill="#262626">0.8</text>
<text x="263" y="1757.5" font-size="82" text-anchor="end" fill="#262626">1</text>
<text x="293.4" y="3030" font-size="82" text-anchor="middle" fill="#262626">1400</text>
<text x="637.5" y="3030" font-size="82" text-anchor="middle" fill="#262626">1450</text>
<text x="981.6" y="3030" font-size="82" text-anchor="middle" fill="#262626">1500</text>
<text x="1325.6" y="3030" font-size="82" text-anchor="middle" fill="#262626">1550</text>
<text x="1669.7" y="3030" font-size="82" text-anchor="middle" fill="#262626">1600</text>
<text x="2013.8" y="3030" font-size="82" text-anchor="middle" fill="#262626">1650</text>
<text x="1155.5" y="3128.5" font-size="82" text-anchor="middle" fill="#262626">Wavelength (nm)</text>
<text x="133.6" y="2298.5" font-size="82" text-anchor="middle" fill="#262626" transform="rotate(-90 133.6 2298.5)">Reflection</text>
<text x="426.5" y="1829.5" font-size="93" text-anchor="middle" fill="#000">(b)</text>
<rect x="1650" y="1781.4" width="270" height="252.9" fill="#fff" stroke="#262626" stroke-width="7.5"/>
<line x1="1664.2" y1="1848" x2="1818.7" y2="1848" stroke="#1ca991" stroke-width="8" stroke-dasharray="8.2 7"/>
<line x1="1664.2" y1="1967.5" x2="1818.7" y2="1967.5" stroke="#1ca991" stroke-width="8"/>
<text x="1830" y="1892" font-size="82" fill="#000">0<tspan dy="-40.2" font-size="65.6">o</tspan></text>
<text x="1830" y="2011.5" font-size="82" fill="#000">2<tspan dy="-40.2" font-size="65.6">o</tspan></text>
<!-- panel c -->
<line x1="583" y1="4577" x2="583" y2="4557.5" stroke="#262626" stroke-width="8"/>
<line x1="583" y1="3322.2" x2="583" y2="3341.7" stroke="#262626" stroke-width="8"/>
<line x1="869.8" y1="4577" x2="869.8" y2="4557.5" stroke="#262626" stroke-width="8"/>
<line x1="869.8" y1="3322.2" x2="869.8" y2="3341.7" stroke="#262626" stroke-width="8"/>
<line x1="1156.6" y1="4577" x2="1156.6" y2="4557.5" stroke="#262626" stroke-width="8"/>
<line x1="1156.6" y1="3322.2" x2="1156.6" y2="3341.7" stroke="#262626" stroke-width="8"/>
<line x1="1443.5" y1="4577" x2="1443.5" y2="4557.5" stroke="#262626" stroke-width="8"/>
<line x1="1443.5" y1="3322.2" x2="1443.5" y2="3341.7" stroke="#262626" stroke-width="8"/>
<line x1="1730.3" y1="4577" x2="1730.3" y2="4557.5" stroke="#262626" stroke-width="8"/>
<line x1="1730.3" y1="3322.2" x2="1730.3" y2="3341.7" stroke="#262626" stroke-width="8"/>
<line x1="296.2" y1="4465.7" x2="315.7" y2="4465.7" stroke="#262626" stroke-width="8"/>
<line x1="2017.1" y1="4465.7" x2="1997.6" y2="4465.7" stroke="#262626" stroke-width="8"/>
<line x1="296.2" y1="4241.4" x2="315.7" y2="4241.4" stroke="#262626" stroke-width="8"/>
<line x1="2017.1" y1="4241.4" x2="1997.6" y2="4241.4" stroke="#262626" stroke-width="8"/>
<line x1="296.2" y1="4017.1" x2="315.7" y2="4017.1" stroke="#262626" stroke-width="8"/>
<line x1="2017.1" y1="4017.1" x2="1997.6" y2="4017.1" stroke="#262626" stroke-width="8"/>
<line x1="296.2" y1="3792.9" x2="315.7" y2="3792.9" stroke="#262626" stroke-width="8"/>
<line x1="2017.1" y1="3792.9" x2="1997.6" y2="3792.9" stroke="#262626" stroke-width="8"/>
<line x1="296.2" y1="3568.6" x2="315.7" y2="3568.6" stroke="#262626" stroke-width="8"/>
<line x1="2017.1" y1="3568.6" x2="1997.6" y2="3568.6" stroke="#262626" stroke-width="8"/>
<line x1="296.2" y1="3344.3" x2="315.7" y2="3344.3" stroke="#262626" stroke-width="8"/>
<line x1="2017.1" y1="3344.3" x2="1997.6" y2="3344.3" stroke="#262626" stroke-width="8"/>
<rect x="296.2" y="3322.2" width="1720.9" height="1254.8" fill="none" stroke="#262626" stroke-width="8"/>
<path d="M296.2 3357.4l1-.5l2.1 .8l2-1.1l2 .9l2.1-1.1l2 .9l2-1.1l2.1 1l2-1.2l2 1l2.1-1.2l2 1.1l2.1-1.3l2 1.1l2-1.2l2.1 1.1l2-1.3l2 1.2l2.1-1.3l2 1.2l2-1.4l2.1 1.3l2-1.4l2.1 1.3l2-1.4l2 1.3l2.1-1.4l2 1.3l2-1.4l2.1 1.4l2-1.5l2 1.4l2.1-1.5l2 1.4l2.1-1.5l2 1.5l2-1.6l2.1 1.5l2-1.6l2 1.6l2.1-1.7l2 1.6l2-1.7l2.1 1.7l2-1.7l2.1 1.7l2-1.8l2 1.7l2.1-1.8l2 1.8l2-1.8l2.1 1.8l2-1.9l2.1 1.8l2-1.9l2 1.9l2.1-1.9l2 1.9l2-2l2.1 2l2-2l2 1.9l2.1-2l2 2l2.1-2l2 2l2-2.1l2.1 2.1l2-2.1l2 2.1l2.1-2.2l2 2.2l2-2.2l2.1 2.1l2-2.2l2.1 2.2l2-2.2l2 2.2l2.1-2.3l2 2.3l2-2.3l2.1 2.3l2-2.3l2 2.3l2.1-2.4l2 2.4l2.1-2.4l2 2.4l2-2.5l2.1 2.5l2-2.5l2 2.5l2.1-2.5l2 2.5l2-2.6l2.1 2.6l2-2.6l2.1 2.6l2-2.6l2 2.6l2.1-2.7l2 2.7l2-2.7l2.1 2.7l2-2.7l2 2.7l2.1-2.8l2 2.8l2.1-2.8l2 2.8l2-2.8l2.1 2.8l2-2.9l2 2.9l2.1-2.9l2 2.9l2-2.9l2.1 2.9l2-3l2.1 3l2-3l2 3l2.1-3l2 3l2-3l2.1 3l2-3.1l2 3.1l2.1-3.1l2 3.1l2.1-3.1l2 3.1l2-3.1l2.1 3.2l2-3.3l2 3.3l2.1-3.3l2 3.3l2-3.3l2.1 3.3l2-3.3l2.1 3.3l2-3.4l2 3.4l2.1-3.4l2 3.4l2-3.4l2.1 3.4l2-3.4l2 3.4l2.1-3.5l2 3.5l2.1-3.5l2 3.5l2-3.5l2.1 3.5l2-3.5l2 3.6l2.1-3.7l2 3.7l2-3.7l2.1 3.7l2-3.7l2.1 3.7l2-3.7l2 3.7l2.1-3.8l2 3.8l2-3.8l2.1 3.8l2-3.8l2 3.8l2.1-3.8l2 3.8l2.1-3.8l2 3.8l2-3.8l2.1 3.8l2-3.8l2 3.8l2.1-3.8l2 3.8l2-3.8l2.1 3.8l2-3.8l2.1 3.8l2-3.8l2 3.8l2.1-3.8l2 3.8l2-3.8l2.1 3.8l2-3.9l2 3.9l2.1-3.9l2 3.9l2.1-3.9l2 3.9l2-3.9l2.1 3.8l2-3.8l2 3.8l2.1-3.8l2 3.8l2-3.8l2.1 3.8l2-3.8l2.1 3.8l2-3.8l2 3.8l2.1-3.8l2 3.8l2-3.8l2.1 3.8l2-3.8l2 3.8l2.1-3.8l2 3.8l2.1-3.8l2 3.8l2-3.8l2.1 3.8l2-3.8l2 3.8l2.1-3.8l2 3.8l2-3.8l2.1 3.8l2-3.8l2.1 3.8l2-3.8l2 3.8l2.1-3.8l2 3.8l2-3.8l2.1 3.8l2-3.8l2 3.8l2.1-3.8l2 3.8l2.1-3.8l2 3.8l2-3.8l2.1 3.8l2-3.8l2 3.8l2.1-3.8l2 3.8l2-3.8l2.1 3.8l2-3.8l2.1 3.8l2-3.8l2 3.8l2.1-3.9l2 3.9l2-3.9l2.1 3.9l2-3.9l2 3.9l2.1-3.9l2 3.9l2.1-3.9l2 3.9l2-3.9l2.1 3.8l2-3.8l2 3.8l2.1-3.8l2 3.8l2-3.8l2.1 3.8l2-3.8l2.1 3.8l2-3.8l2 3.8l2.1-3.8l2 3.8l2-3.8l2.1 3.8l2-3.8l2 3.8l2.1-3.8l2 3.8l2.1-3.8l2 3.8l2-3.8l2.1 3.8l2-3.8l2 3.8l2.1-3.8l2 3.8l2-3.8l2.1 3.8l2-3.8l2.1 3.8l2-3.8l2 3.8l2.1-3.8l2 3.8l2-3.8l2.1 3.8l2-3.8l2 3.8l2.1-3.8l2 3.8l2.1-3.8l2 3.8l2-3.8l2.1 3.8l2-3.8l2 3.8l2.1-3.8l2 3.8l2.1-3.8l2 3.8l2-3.8l2.1 3.8l2-3.8l2 3.8l2.1-3.8l2 3.8l2-3.8l2.1 3.8l2-3.8l2.1 3.8l2-3.8l2 3.8l2.1-3.8l2 3.8l2-3.8l2.1 3.8l2-3.8l2 3.8l2.1-3.8l2 3.8l2.1-3.8l2 3.8l2-3.8l2.1 3.8l2-3.8l2 3.8l2.1-3.8l2 3.8l2-3.8l2.1 3.8l2-3.8l2.1 3.8l2-3.8l2 3.8l2.1-3.8l2 3.8l2-3.8l2.1 3.8l2-3.8l2 3.8l2.1-3.8l2 3.8l2.1-3.8l2 3.8l2-3.8l2.1 3.8l2-3.8l2 3.8l2.1-3.8l2 3.8l2-3.8l2.1 3.8l2-3.8l2.1 3.8l2-3.8l2 3.8l2.1-3.8l2 3.8l2-3.8l2.1 3.8l2-3.8l2 3.8l2.1-3.8l2 3.8l2.1-3.8l2 3.8l2-3.8l2.1 3.8l2-3.8l2 3.8l2.1-3.8l2 3.8l2-3.8l2.1 3.8l2-3.8l2.1 3.8l2-3.8l2 3.8l2.1-3.9l2 3.9l2-3.9l2.1 3.9l2-3.9l2 3.9l2.1-3.9l2 3.9l2.1-3.9l2 3.9l2-3.9l2.1 3.9l2-3.9l2 3.9l2.1-3.9l2 3.9l2-3.9l2.1 3.9l2-3.9l2.1 3.9l2-3.9l2 3.9l2.1-3.9l2 3.9l2-3.9l2.1 3.9l2-3.9l2 3.9l2.1-3.9l2 3.9l2.1-3.9l2 3.9l2-3.9l2.1 3.8l2-3.8l2 3.8l2.1-3.8l2 3.8l2-3.8l2.1 3.8l2-3.8l2.1 3.8l2-3.8l2 3.8l2.1-3.8l2 3.8l2-3.8l2.1 3.8l2-3.8l2 3.8l2.1-3.8l2 3.8l2.1-3.8l2 3.8l2-3.8l2.1 3.8l2-3.8l2 3.8l2.1-3.8l2 3.8l2-3.8l2.1 3.8l2-3.8l2.1 3.8l2-3.8l2 3.8l2.1-3.8l2 3.8l2-3.8l2.1 3.8l2-3.8l2 3.8l2.1-3.8l2 3.8l2.1-3.8l2 3.8l2-3.8l2.1 3.8l2-3.8l2 3.8l2.1-3.8l2 3.8l2-3.8l2.1 3.8l2-3.8l2.1 3.8l2-3.8l2 3.8l2.1-3.8l2 3.8l2-3.8l2.1 3.8l2-3.8l2 3.8l2.1-3.8l2 3.8l2.1-3.8l2 3.8l2-3.8l2.1 3.8l2-3.8l2 3.8l2.1-3.8l2 3.8l2-3.8l2.1 3.8l2-3.8l2.1 3.8l2-3.8l2 3.8l2.1-3.8l2 3.8l2-3.8l2.1 3.8l2-3.8l2 3.8l2.1-3.8l2 3.8l2.1-3.8l2 3.8l2-3.8l2.1 3.8l2-3.8l2 3.8l2.1-3.8l2 3.8l2-3.8l2.1 3.8l2-3.8l2.1 3.8l2-3.8l2 3.8l2.1-3.8l2 3.8l2-3.8l2.1 3.8l2-3.8l2 3.8l2.1-3.8l2 3.8l2.1-3.8l2 3.8l2-3.8l2.1 3.8l2-3.8l2 3.8l2.1-3.8l2 3.8l2-3.8l2.1 3.8l2-3.8l2.1 3.8l2-3.8l2 3.8l2.1-3.8l2 3.8l2-3.8l2.1 3.8l2-3.8l2 3.8l2.1-3.8l2 3.8l2.1-3.8l2 3.8l2-3.8l2.1 3.8l2-3.8l2 3.8l2.1-3.8l2 3.8l2-3.8l2.1 3.8l2-3.8l2.1 3.8l2-3.8l2 3.8l2.1-3.8l2 3.8l2-3.8l2.1 3.8l2-3.8l2.1 3.8l2-3.8l2 3.8l2.1-3.8l2 3.8l2-3.8l2.1 3.8l2-3.8l2 3.8l2.1-3.8l2 3.8l2.1-3.8l2 3.8l2-3.8l2.1 3.8l2-3.8l2 3.8l2.1-3.8l2 3.8l2-3.8l2.1 3.8l2-3.8l2.1 3.8l2-3.8l2 3.8l2.1-3.8l2 3.8l2-3.8l2.1 3.8l2-3.8l2 3.8l2.1-3.8l2 3.8l2.1-3.8l2 3.8l2-3.8l2.1 3.8l2-3.8l2 3.8l2.1-3.8l2 3.8l2-3.8l2.1 3.8l2-3.8l2.1 3.8l2-3.8l2 3.8l2.1-3.8l2 3.8l2-3.8l2.1 3.8l2-3.8l2 3.8l2.1-3.8l2 3.8l2.1-3.8l2 3.8l2-3.8l2.1 3.8l2-3.8l2 3.8l2.1-3.8l2 3.8l2-3.8l2.1 3.8l2-3.8l2.1 3.8l2-3.8l2 3.8l2.1-3.8l2 3.8l2-3.8l2.1 3.8l2-3.8l2 3.8l2.1-3.8l2 3.8l2.1-3.8l2 3.8l2-3.8l2.1 3.8l2-3.8l2 3.8l2.1-3.8l2 3.8l2-3.8l2.1 3.8l2-3.8l2.1 3.8l2-3.8l2 3.8l2.1-3.8l2 3.8l2-3.8l2.1 3.8l2-3.8l2 3.8l2.1-3.8l2 3.8l2.1-3.8l2 3.8l2-3.8l2.1 3.8l2-3.8l2 3.8l2.1-3.8l2 3.8l2-3.8l2.1 3.8l2-3.8l2.1 3.8l2-3.8l2 3.8l2.1-3.8l2 3.8l2-3.8l2.1 3.8l2-3.8l2 3.8l2.1-3.8l2 3.8l2.1-3.8l2 3.8l2-3.8l2.1 3.8l2-3.8l2 3.8l2.1-3.8l2 3.8l2-3.8l2.1 3.8l2-3.8l2.1 3.8l2-3.8l2 3.8l2.1-3.8l2 3.8l2-3.8l2.1 3.8l2-3.8l2 3.8l2.1-3.8l2 3.8l2.1-3.8l2 3.8l2-3.8l2.1 3.8l2-3.8l2 3.8l2.1-3.8l2 3.8l2-3.8l2.1 3.8l2-3.8l2.1 3.8l2-3.8l2 3.8l2.1-3.8l2 3.8l2-3.8l2.1 3.8l2-3.8l2 3.8l2.1-3.8l2 3.8l2.1-3.8l2 3.8l2-3.8l2.1 3.8l2-3.8l2 3.8l2.1-3.8l2 3.8l2-3.8l2.1 3.8l2-3.8l2.1 3.8l2-3.8l2 3.8l2.1-3.8l2 3.8l2-3.8l2.1 3.8l2-3.8l2 3.8l2.1-3.8l2 3.8l2.1-3.8l2 3.8l2-3.8l2.1 3.8l2-3.8l2 3.8l2.1-3.8l2 3.8l2-3.8l2.1 3.8l2-3.8l2.1 3.8l2-3.8l2 3.8l2.1-3.8l2 3.8l2-3.8l2.1 3.8l2-3.8l2 3.8l2.1-3.8l2 3.8l2.1-3.8l2 3.8l2-3.8l2.1 3.8l2-3.8l2 3.8l2.1-3.8l2 3.8l2-3.8l2.1 3.8l2-3.8l2.1 3.8l2-3.8l2 3.8l2.1-3.8l2 3.8l2-3.8l2.1 3.8l2-3.8l2 3.8l2.1-3.8l2 3.8l2.1-3.8l2 3.8l2-3.8l2.1 3.8l2-3.8l2 3.8l2.1-3.8l2 3.8l2-3.8l2.1 3.8l2-3.8l2.1 3.8l2-3.8l2 3.8l2.1-3.8l2 3.8l2-3.8l2.1 3.8l2-3.8l2 3.8l2.1-3.8l2 3.8l2.1-3.8l2 3.8l2-3.8l2.1 3.8l2-3.8l2 3.8l2.1-3.8l2 3.8l2.1-3.8l2 3.8l2-3.8l2.1 3.8l2-3.8l2 3.8l2.1-3.8l2 3.8l2-3.8l1.2 2.3" fill="none" stroke="#a869e2" stroke-width="7.2" stroke-linejoin="round"/>
<path d="M296.2 3353.4l1-.5l2.1 1l2-1l2 1l2.1-1l2 1l2-1l2.1 1l2-1.1l2 1.1l2.1-1.1l2 1.2l2.1-1.2l2 1.2l2-1.2l2.1 1.2l2-1.2l2 1.2l2.1-1.2l2 1.2l2-1.2l2.1 1.3l2-1.4l2.1 1.4l2-1.4l2 1.4l2.1-1.4l2 1.4l2-1.4l2.1 1.5l2-1.5l2 1.5l2.1-1.5l2 1.5l2.1-1.5l2 1.5l2-1.5l2.1 1.5l2-1.6l2 1.7l2.1-1.7l2 1.7l2-1.7l2.1 1.7l2-1.7l2.1 1.7l2-1.7l2 1.8l2.1-1.8l2 1.8l2-1.8l2.1 1.8l2-1.8l2.1 1.8l2-1.8l2 1.9l2.1-1.9l2 1.9l2-2l2.1 2l2-2l2 2l2.1-2l2 2.1l2.1-2.1l2 2.1l2-2.1l2.1 2.1l2-2.1l2 2.1l2.1-2.1l2 2.2l2-2.2l2.1 2.2l2-2.2l2.1 2.2l2-2.2l2 2.3l2.1-2.3l2 2.3l2-2.3l2.1 2.3l2-2.3l2 2.4l2.1-2.4l2 2.4l2.1-2.4l2 2.4l2-2.4l2.1 2.5l2-2.5l2 2.5l2.1-2.5l2 2.6l2-2.6l2.1 2.6l2-2.5l2.1 2.6l2-2.6l2 2.6l2.1-2.6l2 2.7l2-2.7l2.1 2.7l2-2.7l2 2.8l2.1-2.7l2 2.8l2.1-2.8l2 2.8l2-2.8l2.1 2.9l2-2.8l2 2.9l2.1-2.8l2 2.9l2-2.9l2.1 3l2-2.9l2.1 3l2-2.9l2 3l2.1-2.9l2 3.1l2-3l2.1 3.1l2-3l2 3.2l2.1-3l2 3.2l2.1-3.1l2 3.3l2-3l2.1 3.3l2-3.1l2 3.4l2.1-3.1l2 3.5l2-3.1l2.1 3.5l2-3l2.1 3.6l2-3.1l2 3.7l2.1-3.4l2 4.7l2-3.5l2.1 3.5l2-1.7l2 3.5l2.1-.8l2 3.5l2.1-3.5l2 8l2-3.5l2.1 3.5l2 4.5l2 3.6l2.1-3.6l2 20.5l1.6-3.3l.2-.3l.2-.1l.1 0l.2 3.3l.2 1.5l.2 1.7l.3 1.8l.2 2l.2 1.9l.3 1.8l.2 1.8l.2 1.3l0 .3l.3 1.4l.2 1.3l.2 1.1l.2 1.2l.3 1.2l.2 1.4l.2 1.6l.3 1.8l.1 1.5l.1 .7l.2 2.6l.2 2.8l.3 3.2l.2 3.3l.2 3.5l.3 3.6l.2 3.6l.2 3.5l.2 2.1l.1 1.5l.2 3.4l.2 3.5l.2 3.5l.3 3.7l.2 4l.2 4.3l.3 4.7l.2 5.2l.1 2.6l.1 3.2l.2 6.4l.3 6.9l.2 7.5l.2 8l.3 8.4l.2 8.9l.2 9.2l.3 9.6l0 3.2l.2 6.7l.2 10.4l.2 10.9l.3 11.5l.2 12.2l.2 13l.3 14l.2 15.1l.2 16.2l.1 3.4l.1 14l.3 18.6l.2 19.7l.2 20.7l.3 21.7l.2 22.5l.2 23.1l.3 23.3l.2 23.5l0 1.8l.2 21.5l.2 22.8l.3 22l.2 20.8l.2 19.2l.3 17.3l.2 15l.2 12.2l.2 8.8l0 .4l.3 5.8l.2 2.3l.2-1.4l.3-5.1l.2-8.6l.2-11.9l.3-15l.2-17.6l.2-16.2l0-3.6l.2-21.6l.3-22.9l.2-23.7l.2-24l.3-24l.2-23.7l.2-22.9l.2-22.2l.2-14.8l.1-6.2l.2-20l.2-18.8l.3-17.7l.2-16.7l.2-15.7l.3-14.8l.2-14.1l.2-13.5l.1-7.4l.1-5.4l.3-12.3l.2-11.8l.2-11.2l.3-10.7l.2-10l.2-9.5l.2-8.7l.3-8l.1-3.4l.1-3.9l.2-6.7l.3-6l.2-5.5l.2-5.1l.3-4.8l.2-4.6l.2-4.5l.2-4.4l.1-1.4l.2-2.9l.2-4.4l.2-4.4l.3-4.3l.2-4.2l.2-3.9l.2-3.7l.3-3.4l.2-3l.1-.6l.1-2.1l.3-2.2l.2-2l.2-1.7l.3-1.6l.2-1.5l.2-1.5l.2-1.6l.3-1.8l0-.1l.2-1.8l.2-2l.3-2.1l.2-2.2l.2-2.2l.3-2.1l.2-1.9l.2-1.7l.2-1.3l.3-1.1l.2-.9l.2-.6l.3-2.5l.2 .7l.9 1.5l2-3.9l2-13l2.1-3.8l2-4.2l2-3.9l2.1 3.9l2-8.3l2.1 3.8l2-3.8l2 1.1l2.1-3.9l2 3.9l2-5.6l2.1 3.8l2-3.8l2 2.5l2.1-3.9l2 3.5l2.1-4.1l2 3.5l2-4l2.1 3.6l2-4.1l2 3.7l2.1-4l2 3.7l2-4l2.1 3.7l2-3.9l2.1 3.7l2-3.9l2 3.7l2.1-3.9l2 3.7l2-3.9l2.1 3.8l2-3.9l2 3.8l2.1-3.9l2 3.7l2.1-3.8l2 3.7l2-3.8l2.1 3.8l2-3.9l2 3.8l2.1-3.9l2 3.8l2-3.8l2.1 3.8l2-3.9l2.1 3.8l2-3.8l2 3.7l2.1-3.8l2 3.8l2-3.8l2.1 3.8l2-3.9l2 3.8l2.1-3.8l2 3.8l2.1-3.8l2 3.7l2-3.8l2.1 3.8l2-3.8l2 3.8l2.1-3.8l2 3.8l2-3.9l2.1 3.8l2-3.8l2.1 3.8l2-3.8l2 3.8l2.1-3.8l2 3.8l2-3.8l2.1 3.8l2-3.9l2 3.8l2.1-3.8l2 3.8l2.1-3.8l2 3.8l2-3.8l2.1 3.8l2-3.8l2 3.8l2.1-3.8l2 3.8l2-3.8l2.1 3.8l2-3.9l2.1 3.9l2-3.9l2 3.8l2.1-3.8l2 3.8l2-3.8l2.1 3.8l2-3.8l2 3.8l2.1-3.8l2 3.8l2.1-3.8l2 3.8l2-3.8l2.1 3.8l2-3.8l2 3.8l2.1-3.8l2 3.8l2-3.8l2.1 3.8l2-3.8l2.1 3.8l2-3.9l2 3.9l2.1-3.9l2 3.9l2-3.9l2.1 3.8l2-3.8l2 3.8l2.1-3.8l2 3.8l2.1-3.8l2 3.8l2-3.8l2.1 3.8l2-3.8l2 3.8l2.1-3.8l2 3.8l2.1-3.8l2 3.8l2-3.8l2.1 3.8l2-3.8l2 3.8l2.1-3.8l2 3.8l2-3.8l2.1 3.8l2-3.8l2.1 3.8l2-3.8l2 3.8l2.1-3.8l2 3.8l2-3.8l2.1 3.8l2-3.8l2 3.8l2.1-3.8l2 3.8l2.1-3.8l2 3.8l2-3.8l2.1 3.8l2-3.8l2 3.8l2.1-3.8l2 3.8l2-3.8l2.1 3.8l2-3.8l2.1 3.8l2-3.8l2 3.8l2.1-3.8l2 3.8l2-3.8l2.1 3.8l2-3.8l2 3.8l2.1-3.8l2 3.8l2.1-3.9l2 3.9l2-3.9l2.1 3.9l2-3.9l2 3.9l2.1-3.9l2 3.9l2-3.9l2.1 3.9l2-3.9l2.1 3.9l2-3.9l2 3.9l2.1-3.9l2 3.8l2-3.8l2.1 3.8l2-3.8l2 3.8l2.1-3.8l2 3.8l2.1-3.8l2 3.8l2-3.8l2.1 3.8l2-3.8l2 3.8l2.1-3.8l2 3.8l2-3.8l2.1 3.8l2-3.8l2.1 3.8l2-3.8l2 3.8l2.1-3.8l2 3.8l2-3.8l2.1 3.8l2-3.8l2 3.8l2.1-3.8l2 3.8l2.1-3.8l2 3.8l2-3.8l2.1 3.8l2-3.8l2 3.8l2.1-3.8l2 3.8l2-3.8l2.1 3.8l2-3.8l2.1 3.8l2-3.8l2 3.8l2.1-3.8l2 3.8l2-3.8l2.1 3.8l2-3.8l2 3.8l2.1-3.8l2 3.8l2.1-3.8l2 3.8l2-3.8l2.1 3.8l2-3.8l2 3.8l2.1-3.8l2 3.8l2-3.8l2.1 3.8l2-3.8l2.1 3.8l2-3.8l2 3.8l2.1-3.8l2 3.8l2-3.8l2.1 3.8l2-3.8l2 3.8l2.1-3.8l2 3.8l2.1-3.8l2 3.8l2-3.8l2.1 3.8l2-3.8l2 3.8l2.1-3.8l2 3.8l2-3.8l2.1 3.8l2-3.8l2.1 3.8l2-3.8l2 3.8l2.1-3.8l2 3.8l2-3.8l2.1 3.8l2-3.8l2 3.8l2.1-3.8l2 3.8l2.1-3.8l2 3.8l2-3.8l2.1 3.8l2-3.8l2 3.8l2.1-3.8l2 3.8l2-3.8l2.1 3.8l2-3.8l2.1 3.8l2-3.8l2 3.8l2.1-3.8l2 3.8l2-3.8l2.1 3.8l2-3.8l2 3.8l2.1-3.8l2 3.8l2.1-3.8l2 3.8l2-3.8l2.1 3.8l2-3.8l2 3.8l2.1-3.8l2 3.8l2-3.8l2.1 3.8l2-3.8l2.1 3.8l2-3.8l2 3.8l2.1-3.8l2 3.8l2-3.8l2.1 3.8l2-3.8l2 3.8l2.1-3.8l2 3.8l2.1-3.8l2 3.8l2-3.8l2.1 3.8l2-3.8l2 3.8l2.1-3.8l2 3.8l2-3.8l2.1 3.8l2-3.8l2.1 3.8l2-3.8l2 3.8l2.1-3.8l2 3.8l2-3.8l2.1 3.8l2-3.8l2 3.8l2.1-3.8l2 3.8l2.1-3.8l2 3.8l2-3.8l2.1 3.8l2-3.8l2 3.8l2.1-3.8l2 3.8l2-3.8l2.1 3.8l2-3.8l2.1 3.8l2-3.8l2 3.8l2.1-3.8l2 3.8l2-3.8l2.1 3.8l2-3.8l2 3.8l2.1-3.8l2 3.8l2.1-3.8l2 3.8l2-3.8l2.1 3.8l2-3.8l2 3.8l2.1-3.8l2 3.8l2-3.8l2.1 3.8l2-3.8l2.1 3.8l2-3.8l2 3.8l2.1-3.8l2 3.8l2-3.8l2.1 3.8l2-3.8l2.1 3.8l2-3.8l2 3.8l2.1-3.8l2 3.8l2-3.8l2.1 3.8l2-3.8l2 3.8l2.1-3.8l2 3.8l2.1-3.8l2 3.8l2-3.8l2.1 3.8l2-3.8l2 3.8l2.1-3.8l2 3.8l2-3.8l2.1 3.8l2-3.8l2.1 3.8l2-3.8l2 3.8l2.1-3.8l2 3.8l2-3.8l2.1 3.8l2-3.8l2 3.8l2.1-3.8l2 3.8l2.1-3.8l2 3.8l2-3.8l2.1 3.8l2-3.8l2 3.8l2.1-3.8l2 3.8l2-3.8l2.1 3.8l2-3.8l2.1 3.8l2-3.8l2 3.8l2.1-3.8l2 3.8l2-3.8l2.1 3.8l2-3.8l2 3.8l2.1-3.8l2 3.8l2.1-3.8l2 3.8l2-3.8l2.1 3.8l2-3.8l2 3.8l2.1-3.8l2 3.8l2-3.8l2.1 3.8l2-3.8l2.1 3.8l2-3.8l2 3.8l2.1-3.8l2 3.8l2-3.8l2.1 3.8l2-3.8l2 3.8l2.1-3.8l2 3.8l2.1-3.8l2 3.8l2-3.8l2.1 3.8l2-3.8l2 3.8l2.1-3.8l2 3.8l2-3.8l2.1 3.8l2-3.8l2.1 3.8l2-3.8l2 3.8l2.1-3.8l2 3.8l2-3.8l2.1 3.8l2-3.8l2 3.8l2.1-3.8l2 3.8l2.1-3.8l2 3.8l2-3.8l2.1 3.8l2-3.8l2 3.8l2.1-3.8l2 3.8l2-3.8l2.1 3.8l2-3.8l2.1 3.8l2-3.8l2 3.8l2.1-3.8l2 3.8l2-3.8l2.1 3.8l2-3.8l2 3.8l2.1-3.8l2 3.8l2.1-3.8l2 3.8l2-3.8l2.1 3.8l2-3.8l2 3.8l2.1-3.8l2 3.8l2-3.8l2.1 3.8l2-3.8l2.1 3.8l2-3.8l2 3.8l2.1-3.8l2 3.8l2-3.8l2.1 3.8l2-3.8l2 3.8l2.1-3.8l2 3.8l2.1-3.8l2 3.8l2-3.8l2.1 3.8l2-3.8l2 3.8l2.1-3.8l2 3.8l2-3.8l2.1 3.8l2-3.8l2.1 3.8l2-3.8l2 3.8l2.1-3.8l2 3.8l2-3.8l2.1 3.8l2-3.8l2 3.8l2.1-3.8l2 3.8l2.1-3.8l2 3.8l2-3.8l2.1 3.8l2-3.8l2 3.8l2.1-3.8l2 3.8l2-3.8l2.1 3.8l2-3.8l2.1 3.8l2-3.8l2 3.8l2.1-3.8l2 3.8l2-3.8l2.1 3.8l2-3.8l2 3.8l2.1-3.8l2 3.8l2.1-3.8l2 3.8l2-3.8l2.1 3.8l2-3.8l2 3.8l2.1-3.8l2 3.8l2-3.8l2.1 3.8l2-3.8l2.1 3.8l2-3.8l2 3.8l2.1-3.8l2 3.8l2-3.8l2.1 3.8l2-3.8l2 3.8l2.1-3.8l2 3.8l2.1-3.8l2 3.8l2-3.8l2.1 3.8l2-3.8l2 3.8l2.1-3.8l2 3.8l2-3.8l2.1 3.8l2-3.8l2.1 3.8l2-3.8l2 3.8l2.1-3.8l2 3.8l2-3.8l2.1 3.8l2-3.8l2 3.8l2.1-3.8l2 3.8l2.1-3.8l2 3.8l2-3.8l2.1 3.8l2-3.8l2 3.8l2.1-3.8l2 3.8l2-3.8l2.1 3.8l2-3.8l2.1 3.8l2-3.8l2 3.8l2.1-3.8l2 3.8l2-3.8l2.1 3.8l2-3.8l2 3.8l2.1-3.8l2 3.8l2.1-3.8l2 3.8l2-3.8l2.1 3.8l2-3.8l2 3.8l2.1-3.8l2 3.8l2.1-3.8l2 3.8l2-3.8l2.1 3.8l2-3.8l2 3.8l2.1-3.8l2 3.8l2-3.8l1.2 2.3" fill="none" stroke="#1ca991" stroke-width="7.2" stroke-linejoin="round"/>
<path d="M296.2 3353.2l1-.5l2.1 1l2-1l2 1l2.1-1l2 1l2-1l2.1 1l2-1l2 1.1l2.1-1.2l2 1.2l2.1-1.2l2 1.2l2-1.2l2.1 1.2l2-1.2l2 1.2l2.1-1.2l2 1.2l2-1.2l2.1 1.3l2-1.4l2.1 1.4l2-1.4l2 1.4l2.1-1.4l2 1.4l2-1.4l2.1 1.4l2-1.4l2 1.5l2.1-1.5l2 1.5l2.1-1.6l2 1.6l2-1.6l2.1 1.6l2-1.6l2 1.6l2.1-1.6l2 1.6l2-1.6l2.1 1.7l2-1.7l2.1 1.7l2-1.8l2 1.8l2.1-1.8l2 1.8l2-1.8l2.1 1.8l2-1.8l2.1 1.9l2-1.9l2 1.9l2.1-1.9l2 1.9l2-1.9l2.1 1.9l2-2l2 2l2.1-2l2 2l2.1-2l2 2.1l2-2.1l2.1 2.1l2-2.1l2 2.1l2.1-2.1l2 2.1l2-2.2l2.1 2.2l2-2.2l2.1 2.3l2-2.3l2 2.3l2.1-2.3l2 2.3l2-2.3l2.1 2.3l2-2.3l2 2.3l2.1-2.3l2 2.3l2.1-2.4l2 2.5l2-2.5l2.1 2.5l2-2.5l2 2.5l2.1-2.5l2 2.5l2-2.5l2.1 2.5l2-2.5l2.1 2.6l2-2.7l2 2.7l2.1-2.7l2 2.7l2-2.7l2.1 2.7l2-2.7l2 2.7l2.1-2.7l2 2.8l2.1-2.8l2 2.8l2-2.8l2.1 2.8l2-2.9l2 2.9l2.1-2.9l2 2.9l2-2.9l2.1 3l2-3l2.1 3l2-3l2 3l2.1-3l2 3l2-3l2.1 3l2-3.1l2 3.2l2.1-3.2l2 3.2l2.1-3.2l2 3.2l2-3.2l2.1 3.2l2-3.2l2 3.2l2.1-3.2l2 3.3l2-3.3l2.1 3.3l2-3.3l2.1 3.3l2-3.4l2 3.4l2.1-3.4l2 3.4l2-3.4l2.1 3.5l2-3.5l2 3.5l2.1-3.5l2 3.5l2.1-3.5l2 3.5l2-3.5l2.1 3.6l2-3.6l2 3.6l2.1-3.6l2 3.6l2-3.7l2.1 3.7l2-3.7l2.1 3.7l2-3.7l2 3.8l2.1-3.8l2 3.8l2-3.8l2.1 3.8l2-3.8l2 3.8l2.1-3.8l2 3.8l2.1-3.8l2 3.8l2-3.8l2.1 3.9l2-3.9l2 3.9l2.1-3.8l2 3.8l2-3.8l2.1 3.8l2-3.8l2.1 3.8l2-3.8l2 3.8l2.1-3.8l2 3.8l2-3.8l2.1 3.8l2-3.8l2 3.9l2.1-3.8l2 3.8l2.1-3.8l2 3.8l2-3.8l2.1 3.8l2-3.8l2 3.8l2.1-3.8l2 3.9l2-3.8l2.1 3.8l2-3.8l2.1 3.8l2-3.8l2 3.8l2.1-3.8l2 3.9l2-3.8l2.1 3.8l2-3.8l2 3.8l2.1-3.8l2 3.9l2.1-3.8l2 3.8l2-3.8l2.1 3.9l2-3.8l2 3.8l2.1-3.8l2 3.9l2-3.8l2.1 3.8l2-3.8l2.1 3.9l2-3.8l2 3.9l2.1-3.8l2 3.8l2-3.7l2.1 3.8l2-3.7l2 3.8l2.1-3.7l2 3.9l2.1-3.8l2 3.9l2-3.8l2.1 3.9l2-3.7l2 3.9l2.1-3.7l2 3.9l2-3.7l2.1 3.9l2-3.7l2.1 4l2-3.7l2 4l2.1-3.6l2 4l2-3.6l2.1 4l2-3.6l2 4.1l2.1-3.5l2 4.2l2.1-3.4l2 3.9l2-2.4l2.1 3.9l2-3.9l2 5.9l2.1-3.8l2 3.8l2-.6l2.1 3.8l2-3.8l2.1 9.1l2-3.8l2 13.2l2.1-3.8l2 3.8l2 15.9l2.1 3.8l.4-.5l.2-.5l.3-.6l.2 3l.2 .7l.3 .9l.2 1.1l.2 1.3l0 .1l.3 1.7l.2 2l.2 2.2l.2 2.4l.3 2.5l.2 2.6l.2 2.4l.3 2.4l.1 1.9l.1 .4l.2 2.1l.2 2l.3 2l.2 2l.2 2l.3 2.3l.2 2.6l.2 2.9l.2 2.2l.1 1l.2 3.7l.2 4.1l.2 4.5l.3 4.7l.2 5l.2 5.2l.3 5.2l.2 5.3l.1 3.1l.1 2.3l.2 5.5l.3 5.5l.2 5.8l.2 6.1l.3 6.5l.2 7l.2 7.7l.3 8.3l.1 4.1l.1 5.1l.2 9.9l.2 10.8l.3 11.6l.2 12.3l.2 13.2l.3 13.8l.2 14.5l.2 15.2l.1 5.1l.1 10.9l.3 16.7l.2 17.6l.2 18.5l.3 19.6l.2 20.7l.2 22l.3 23.2l.2 24.4l0 5l.2 20.6l.2 26.6l.3 27.5l.2 27.9l.2 28l.3 27.7l.2 26.8l.2 25.4l.3 23.4l0 1.7l.2 19.2l.2 17.7l.2 14.2l.3 10.2l.2 6l.2 1.6l.3-2.8l.2-6.9l.2-10.3l0-.7l.2-14.5l.3-17.8l.2-20.4l.2-22.6l.3-24.4l.2-25.7l.2-26.5l.3-27.1l.1-22.4l.1-4.8l.2-27.1l.2-26.7l.3-26.1l.2-25.2l.2-24.3l.3-23.1l.2-21.8l.2-20.5l.2-13.6l0-5.6l.3-17.9l.2-16.6l.2-15.4l.3-14.4l.2-13.4l.2-12.7l.3-12l.2-11.5l.1-6.3l.1-4.7l.2-10.5l.3-10.1l.2-9.7l.2-9.3l.3-8.7l.2-8.2l.2-7.5l.2-7l.1-2.9l.2-3.5l.2-5.7l.2-5.3l.3-4.7l.2-4.4l.2-4.2l.3-4l.2-3.9l.2-3.9l.1-1.3l.1-2.6l.3-4l.2-4l.2-3.9l.3-3.8l.2-3.7l.2-3.4l.2-3.2l.3-2.7l0-.6l.2-1.9l.2-2.1l.3-1.7l.2-1.6l.2-1.4l.3-1.4l.2-1.4l.2-1.5l.2-1.6l.1-.1l.2-1.7l.2-1.9l.2-2.1l.3-2.1l.2-2.1l.2-2.1l.2-1.8l.3-4l.2-.1l2 3.8l2.1-23.5l2 3.8l2-3.8l2.1-5.6l2-3.8l2 3.8l2.1-9.1l2 3.8l2.1-7l2 3.8l2-3.8l2.1 1.8l2-3.9l2 3.9l2.1-5.3l2 3.8l2.1-4.2l2 3.5l2-4.2l2.1 3.5l2-4l2 3.5l2.1-4l2 3.6l2-4l2.1 3.7l2-4l2.1 3.7l2-4l2 3.7l2.1-3.9l2 3.7l2-3.9l2.1 3.7l2-3.9l2 3.8l2.1-3.9l2 3.7l2.1-3.8l2 3.7l2-3.9l2.1 3.8l2-3.9l2 3.8l2.1-3.9l2 3.8l2-3.8l2.1 3.7l2-3.8l2.1 3.8l2-3.9l2 3.8l2.1-3.8l2 3.7l2-3.8l2.1 3.8l2-3.8l2 3.7l2.1-3.8l2 3.8l2.1-3.8l2 3.8l2-3.9l2.1 3.8l2-3.8l2 3.8l2.1-3.8l2 3.8l2-3.9l2.1 3.8l2-3.8l2.1 3.8l2-3.8l2 3.8l2.1-3.9l2 3.8l2-3.8l2.1 3.8l2-3.8l2 3.8l2.1-3.8l2 3.8l2.1-3.8l2 3.8l2-3.9l2.1 3.9l2-3.9l2 3.8l2.1-3.8l2 3.8l2-3.8l2.1 3.8l2-3.8l2.1 3.8l2-3.8l2 3.8l2.1-3.8l2 3.8l2-3.8l2.1 3.8l2-3.9l2 3.9l2.1-3.9l2 3.8l2.1-3.8l2 3.8l2-3.8l2.1 3.8l2-3.8l2 3.8l2.1-3.8l2 3.8l2-3.8l2.1 3.8l2-3.8l2.1 3.8l2-3.8l2 3.8l2.1-3.8l2 3.8l2-3.8l2.1 3.8l2-3.8l2 3.8l2.1-3.9l2 3.9l2.1-3.9l2 3.9l2-3.9l2.1 3.8l2-3.8l2 3.8l2.1-3.8l2 3.8l2-3.8l2.1 3.8l2-3.8l2.1 3.8l2-3.8l2 3.8l2.1-3.8l2 3.8l2-3.8l2.1 3.8l2-3.8l2 3.8l2.1-3.8l2 3.8l2.1-3.8l2 3.8l2-3.8l2.1 3.8l2-3.8l2 3.8l2.1-3.8l2 3.8l2-3.8l2.1 3.8l2-3.8l2.1 3.8l2-3.8l2 3.8l2.1-3.8l2 3.8l2-3.8l2.1 3.8l2-3.8l2 3.8l2.1-3.8l2 3.8l2.1-3.8l2 3.8l2-3.8l2.1 3.8l2-3.8l2 3.8l2.1-3.8l2 3.8l2-3.8l2.1 3.8l2-3.8l2.1 3.8l2-3.9l2 3.9l2.1-3.9l2 3.9l2-3.9l2.1 3.9l2-3.9l2 3.9l2.1-3.9l2 3.9l2.1-3.9l2 3.9l2-3.9l2.1 3.8l2-3.8l2 3.8l2.1-3.8l2 3.8l2-3.8l2.1 3.8l2-3.8l2.1 3.8l2-3.8l2 3.8l2.1-3.8l2 3.8l2-3.8l2.1 3.8l2-3.8l2 3.8l2.1-3.8l2 3.8l2.1-3.8l2 3.8l2-3.8l2.1 3.8l2-3.8l2 3.8l2.1-3.8l2 3.8l2-3.8l2.1 3.8l2-3.8l2.1 3.8l2-3.8l2 3.8l2.1-3.8l2 3.8l2-3.8l2.1 3.8l2-3.8l2 3.8l2.1-3.8l2 3.8l2.1-3.8l2 3.8l2-3.8l2.1 3.8l2-3.8l2 3.8l2.1-3.8l2 3.8l2-3.8l2.1 3.8l2-3.8l2.1 3.8l2-3.8l2 3.8l2.1-3.8l2 3.8l2-3.8l2.1 3.8l2-3.8l2 3.8l2.1-3.8l2 3.8l2.1-3.8l2 3.8l2-3.8l2.1 3.8l2-3.8l2 3.8l2.1-3.8l2 3.8l2-3.8l2.1 3.8l2-3.8l2.1 3.8l2-3.8l2 3.8l2.1-3.8l2 3.8l2-3.8l2.1 3.8l2-3.8l2.1 3.8l2-3.8l2 3.8l2.1-3.8l2 3.8l2-3.8l2.1 3.8l2-3.8l2 3.8l2.1-3.8l2 3.8l2.1-3.8l2 3.8l2-3.8l2.1 3.8l2-3.8l2 3.8l2.1-3.8l2 3.8l2-3.8l2.1 3.8l2-3.8l2.1 3.8l2-3.8l2 3.8l2.1-3.8l2 3.8l2-3.8l2.1 3.8l2-3.8l2 3.8l2.1-3.8l2 3.8l2.1-3.8l2 3.8l2-3.8l2.1 3.8l2-3.8l2 3.8l2.1-3.8l2 3.8l2-3.8l2.1 3.8l2-3.8l2.1 3.8l2-3.8l2 3.8l2.1-3.8l2 3.8l2-3.8l2.1 3.8l2-3.8l2 3.8l2.1-3.8l2 3.8l2.1-3.8l2 3.8l2-3.8l2.1 3.8l2-3.8l2 3.8l2.1-3.8l2 3.8l2-3.8l2.1 3.8l2-3.8l2.1 3.8l2-3.8l2 3.8l2.1-3.8l2 3.8l2-3.8l2.1 3.8l2-3.8l2 3.8l2.1-3.8l2 3.8l2.1-3.8l2 3.8l2-3.8l2.1 3.8l2-3.8l2 3.8l2.1-3.8l2 3.8l2-3.8l2.1 3.8l2-3.8l2.1 3.8l2-3.8l2 3.8l2.1-3.8l2 3.8l2-3.8l2.1 3.8l2-3.8l2 3.8l2.1-3.8l2 3.8l2.1-3.8l2 3.8l2-3.8l2.1 3.8l2-3.8l2 3.8l2.1-3.8l2 3.8l2-3.8l2.1 3.8l2-3.8l2.1 3.8l2-3.8l2 3.8l2.1-3.8l2 3.8l2-3.8l2.1 3.8l2-3.8l2 3.8l2.1-3.8l2 3.8l2.1-3.8l2 3.8l2-3.8l2.1 3.8l2-3.8l2 3.8l2.1-3.8l2 3.8l2-3.8l2.1 3.8l2-3.8l2.1 3.8l2-3.8l2 3.8l2.1-3.8l2 3.8l2-3.8l2.1 3.8l2-3.8l2 3.8l2.1-3.8l2 3.8l2.1-3.8l2 3.8l2-3.8l2.1 3.8l2-3.8l2 3.8l2.1-3.8l2 3.8l2-3.8l2.1 3.8l2-3.8l2.1 3.8l2-3.8l2 3.8l2.1-3.8l2 3.8l2-3.8l2.1 3.8l2-3.8l2 3.8l2.1-3.8l2 3.8l2.1-3.8l2 3.8l2-3.8l2.1 3.8l2-3.8l2 3.8l2.1-3.8l2 3.8l2-3.8l2.1 3.8l2-3.8l2.1 3.8l2-3.8l2 3.8l2.1-3.8l2 3.8l2-3.8l2.1 3.8l2-3.8l2 3.8l2.1-3.8l2 3.8l2.1-3.8l2 3.8l2-3.8l2.1 3.8l2-3.8l2 3.8l2.1-3.8l2 3.8l2-3.8l2.1 3.8l2-3.8l2.1 3.8l2-3.8l2 3.8l2.1-3.8l2 3.8l2-3.8l2.1 3.8l2-3.8l2 3.8l2.1-3.8l2 3.8l2.1-3.8l2 3.8l2-3.8l2.1 3.8l2-3.8l2 3.8l2.1-3.8l2 3.8l2-3.8l2.1 3.8l2-3.8l2.1 3.8l2-3.8l2 3.8l2.1-3.8l2 3.8l2-3.8l2.1 3.8l2-3.8l2 3.8l2.1-3.8l2 3.8l2.1-3.8l2 3.8l2-3.8l2.1 3.8l2-3.8l2 3.8l2.1-3.8l2 3.8l2-3.8l2.1 3.8l2-3.8l2.1 3.8l2-3.8l2 3.8l2.1-3.8l2 3.8l2-3.8l2.1 3.8l2-3.8l2 3.8l2.1-3.8l2 3.8l2.1-3.8l2 3.8l2-3.8l2.1 3.8l2-3.8l2 3.8l2.1-3.8l2 3.8l2.1-3.8l2 3.8l2-3.8l2.1 3.8l2-3.8l2 3.8l2.1-3.8l2 3.8l2-3.8l1.2 2.3" fill="none" stroke="#6c9ef8" stroke-width="7.2" stroke-linejoin="round"/>
<path d="M296.2 3353.1l1-.5l2.1 1l2-1l2 1l2.1-1l2 1l2-1.1l2.1 1.1l2-1.1l2 1.1l2.1-1.1l2 1.1l2.1-1.1l2 1.2l2-1.2l2.1 1.2l2-1.2l2 1.2l2.1-1.3l2 1.3l2-1.3l2.1 1.3l2-1.3l2.1 1.4l2-1.4l2 1.4l2.1-1.4l2 1.4l2-1.4l2.1 1.4l2-1.5l2 1.5l2.1-1.5l2 1.5l2.1-1.5l2 1.6l2-1.6l2.1 1.6l2-1.6l2 1.6l2.1-1.6l2 1.6l2-1.7l2.1 1.7l2-1.7l2.1 1.7l2-1.7l2 1.8l2.1-1.8l2 1.8l2-1.8l2.1 1.8l2-1.8l2.1 1.8l2-1.9l2 1.9l2.1-1.9l2 1.9l2-1.9l2.1 2l2-2l2 2l2.1-2l2 2l2.1-2l2 2l2-2.1l2.1 2.1l2-2.1l2 2.1l2.1-2.1l2 2.2l2-2.2l2.1 2.2l2-2.2l2.1 2.2l2-2.2l2 2.2l2.1-2.3l2 2.3l2-2.3l2.1 2.4l2-2.4l2 2.4l2.1-2.4l2 2.4l2.1-2.4l2 2.4l2-2.4l2.1 2.4l2-2.5l2 2.5l2.1-2.5l2 2.6l2-2.6l2.1 2.6l2-2.6l2.1 2.6l2-2.6l2 2.6l2.1-2.6l2 2.6l2-2.7l2.1 2.7l2-2.7l2 2.8l2.1-2.8l2 2.8l2.1-2.8l2 2.8l2-2.8l2.1 2.8l2-2.8l2 2.8l2.1-2.9l2 2.9l2-2.9l2.1 3l2-3l2.1 3l2-3l2 3l2.1-3l2 3l2-3l2.1 3l2-3l2 3.1l2.1-3.2l2 3.2l2.1-3.2l2 3.2l2-3.2l2.1 3.2l2-3.2l2 3.2l2.1-3.2l2 3.2l2-3.2l2.1 3.3l2-3.4l2.1 3.4l2-3.4l2 3.4l2.1-3.4l2 3.4l2-3.4l2.1 3.4l2-3.4l2 3.4l2.1-3.4l2 3.5l2.1-3.6l2 3.6l2-3.6l2.1 3.6l2-3.6l2 3.6l2.1-3.6l2 3.6l2-3.6l2.1 3.7l2-3.7l2.1 3.7l2-3.8l2 3.8l2.1-3.8l2 3.8l2-3.8l2.1 3.8l2-3.8l2 3.8l2.1-3.8l2 3.8l2.1-3.8l2 3.8l2-3.8l2.1 3.8l2-3.8l2 3.8l2.1-3.8l2 3.8l2-3.8l2.1 3.8l2-3.8l2.1 3.8l2-3.8l2 3.8l2.1-3.8l2 3.8l2-3.8l2.1 3.8l2-3.8l2 3.8l2.1-3.8l2 3.8l2.1-3.8l2 3.8l2-3.8l2.1 3.8l2-3.8l2 3.8l2.1-3.8l2 3.8l2-3.8l2.1 3.9l2-3.9l2.1 3.9l2-3.9l2 3.9l2.1-3.9l2 3.9l2-3.9l2.1 3.9l2-3.9l2 3.9l2.1-3.9l2 3.9l2.1-3.8l2 3.8l2-3.8l2.1 3.8l2-3.8l2 3.8l2.1-3.8l2 3.8l2-3.8l2.1 3.8l2-3.8l2.1 3.8l2-3.8l2 3.8l2.1-3.8l2 3.8l2-3.8l2.1 3.8l2-3.8l2 3.8l2.1-3.8l2 3.8l2.1-3.8l2 3.8l2-3.8l2.1 3.8l2-3.8l2 3.8l2.1-3.8l2 3.8l2-3.8l2.1 3.8l2-3.8l2.1 3.8l2-3.8l2 3.8l2.1-3.8l2 3.8l2-3.8l2.1 3.8l2-3.8l2 3.8l2.1-3.8l2 3.8l2.1-3.8l2 3.8l2-3.8l2.1 3.8l2-3.8l2 3.9l2.1-3.9l2 3.9l2-3.9l2.1 3.9l2-3.8l2.1 3.8l2-3.8l2 3.8l2.1-3.8l2 3.8l2-3.8l2.1 3.8l2-3.8l2 3.8l2.1-3.8l2 3.8l2.1-3.8l2 3.8l2-3.8l2.1 3.8l2-3.8l2 3.8l2.1-3.8l2 3.8l2-3.8l2.1 3.8l2-3.8l2.1 3.9l2-3.9l2 3.9l2.1-3.8l2 3.8l2-3.8l2.1 3.8l2-3.8l2 3.8l2.1-3.8l2 3.8l2.1-3.8l2 3.8l2-3.8l2.1 3.8l2-3.8l2 3.9l2.1-3.8l2 3.8l2.1-3.8l2 3.8l2-3.8l2.1 3.8l2-3.8l2 3.8l2.1-3.8l2 3.8l2-3.8l2.1 3.9l2-3.8l2.1 3.8l2-3.8l2 3.8l2.1-3.8l2 3.8l2-3.8l2.1 3.9l2-3.8l2 3.8l2.1-3.8l2 3.8l2.1-3.8l2 3.9l2-3.8l2.1 3.8l2-3.8l2 3.9l2.1-3.8l2 3.8l2-3.8l2.1 3.8l2-3.7l2.1 3.8l2-3.8l2 3.9l2.1-3.8l2 3.8l2-3.8l2.1 3.9l2-3.8l2 3.9l2.1-3.8l2 3.9l2.1-3.8l2 3.9l2-3.8l2.1 3.9l2-3.8l2 3.9l2.1-3.8l2 3.9l2-3.7l2.1 3.9l2-3.8l2.1 3.9l2-3.7l2 3.9l2.1-3.7l2 4l2-3.7l2.1 3.9l2-3.7l2 4l2.1-3.6l2 4l2.1-3.6l2 4l2-3.6l2.1 4.1l2-3.5l2 4.1l2.1-3.5l2 4.2l2-3.3l2.1 4.2l2-3.7l2.1 5.5l2-3.8l2 3.8l2.1-1.3l2 3.9l2-3.9l2.1 7.7l2-3.8l2 10.1l2.1-3.8l2 3.8l2.1 7.6l2 3.8l2-3.8l2.1 27.1l2-3.8l.2 .1l.2 .3l.2 4.8l.3 2.2l.2 2.3l.2 2.3l.3 2.3l.2 2.2l.2 2l0 .2l.2 1.7l.3 1.7l.2 1.7l.2 1.6l.3 1.6l.2 1.8l.2 2l.3 2.4l.2 2.5l0 .1l.2 3l.2 3.4l.3 3.7l.2 3.9l.2 4.2l.3 4.2l.2 4.3l.2 4.3l.2 3.5l0 .7l.3 4.3l.2 4.2l.2 4.3l.3 4.4l.2 4.7l.2 5.1l.3 5.5l.2 6l.1 4.5l.1 2l.2 7.2l.3 7.8l.2 8.3l.2 8.9l.3 9.3l.2 9.8l.2 10.1l.2 10.5l.2 6.2l.1 4.7l.2 11.2l.2 11.7l.3 12.1l.2 12.9l.2 13.6l.3 14.4l.2 15.4l.2 16.4l.1 7.7l.1 9.7l.3 18.6l.2 19.5l.2 20.5l.3 21.3l.2 22l.2 22.5l.2 22.9l.3 22.9l.1 7.5l.1 15.4l.2 22.6l.3 22l.2 21.3l.2 20.4l.3 19l.2 17.5l.2 15.7l.2 13.5l.1 2.4l.2 8.7l.2 8.4l.2 5.4l.3 2.3l.2-1l.2-4.3l.3-7.6l.2-10.6l.2-13.6l0-1.1l.2-15l.3-18.4l.2-20.2l.2-21.6l.3-22.6l.2-23.2l.2-23.3l.2-23.3l.3-21.7l0-1.2l.2-22.3l.2-21.5l.3-20.9l.2-20l.2-19.2l.3-18.5l.2-17.8l.2-17.1l.2-13.7l0-2.9l.3-15.9l.2-15.4l.2-14.8l.3-14.1l.2-13.5l.2-12.7l.2-11.9l.3-11.1l.1-7.3l.1-3l.2-9.5l.3-8.8l.2-8.1l.2-7.5l.3-7.1l.2-6.8l.2-6.5l.2-6.4l.2-3.6l.1-2.7l.2-6.1l.2-6.1l.3-6l.2-5.7l.2-5.5l.2-5.2l.3-4.8l.2-4.4l.1-1.9l.1-2.1l.3-3.6l.2-3.1l.2-2.9l.3-2.6l.2-2.5l.2-2.5l.2-2.5l.3-2.5l0-.9l.2-1.8l.2-2.8l.3-2.9l.2-3l.2-2.9l.2-2.8l.3-2.6l.2-2.3l.2-2.1l.1-.3l.2-1.4l.2-1.5l.2-1.2l.3-1l.2-.9l.2-3.7l.2 .5l.5 .5l2.1-3.8l2-19.5l2-3.8l2.1 3.8l2-15.2l2 3.8l2.1-10.1l2 3.8l2-3.8l2.1 0l2-3.9l2.1 3.9l2-6.4l2 3.8l2.1-3.8l2 2.1l2-3.9l2.1 3.3l2-4.2l2 3.4l2.1-4.2l2 3.5l2.1-4.1l2 3.6l2-4.1l2.1 3.6l2-4l2 3.7l2.1-4l2 3.6l2-3.9l2.1 3.7l2-4l2.1 3.7l2-3.9l2 3.7l2.1-3.9l2 3.7l2-3.9l2.1 3.8l2-3.9l2 3.7l2.1-3.8l2 3.7l2.1-3.9l2 3.8l2-3.9l2.1 3.8l2-3.9l2 3.8l2.1-3.8l2 3.7l2-3.8l2.1 3.8l2-3.9l2.1 3.8l2-3.9l2 3.8l2.1-3.8l2 3.8l2-3.9l2.1 3.8l2-3.8l2 3.8l2.1-3.9l2 3.8l2.1-3.8l2 3.8l2-3.8l2.1 3.7l2-3.8l2 3.8l2.1-3.8l2 3.8l2-3.8l2.1 3.8l2-3.9l2.1 3.8l2-3.8l2 3.8l2.1-3.8l2 3.8l2-3.8l2.1 3.8l2-3.9l2 3.8l2.1-3.8l2 3.8l2.1-3.8l2 3.8l2-3.8l2.1 3.8l2-3.8l2 3.8l2.1-3.9l2 3.8l2-3.8l2.1 3.8l2-3.8l2.1 3.8l2-3.8l2 3.8l2.1-3.8l2 3.8l2-3.8l2.1 3.8l2-3.8l2 3.8l2.1-3.8l2 3.8l2.1-3.9l2 3.8l2-3.8l2.1 3.8l2-3.8l2 3.8l2.1-3.8l2 3.8l2-3.8l2.1 3.8l2-3.8l2.1 3.8l2-3.8l2 3.8l2.1-3.8l2 3.8l2-3.8l2.1 3.8l2-3.8l2 3.8l2.1-3.8l2 3.8l2.1-3.8l2 3.8l2-3.9l2.1 3.9l2-3.9l2 3.9l2.1-3.9l2 3.8l2-3.8l2.1 3.8l2-3.8l2.1 3.8l2-3.8l2 3.8l2.1-3.8l2 3.8l2-3.8l2.1 3.8l2-3.8l2.1 3.8l2-3.8l2 3.8l2.1-3.8l2 3.8l2-3.8l2.1 3.8l2-3.8l2 3.8l2.1-3.8l2 3.8l2.1-3.8l2 3.8l2-3.8l2.1 3.8l2-3.8l2 3.8l2.1-3.8l2 3.8l2-3.8l2.1 3.8l2-3.8l2.1 3.8l2-3.8l2 3.8l2.1-3.8l2 3.8l2-3.8l2.1 3.8l2-3.8l2 3.8l2.1-3.8l2 3.8l2.1-3.8l2 3.8l2-3.8l2.1 3.8l2-3.8l2 3.8l2.1-3.9l2 3.9l2-3.9l2.1 3.9l2-3.9l2.1 3.9l2-3.9l2 3.9l2.1-3.9l2 3.9l2-3.9l2.1 3.9l2-3.9l2 3.8l2.1-3.8l2 3.8l2.1-3.8l2 3.8l2-3.8l2.1 3.8l2-3.8l2 3.8l2.1-3.8l2 3.8l2-3.8l2.1 3.8l2-3.8l2.1 3.8l2-3.8l2 3.8l2.1-3.8l2 3.8l2-3.8l2.1 3.8l2-3.8l2 3.8l2.1-3.8l2 3.8l2.1-3.8l2 3.8l2-3.8l2.1 3.8l2-3.8l2 3.8l2.1-3.8l2 3.8l2-3.8l2.1 3.8l2-3.8l2.1 3.8l2-3.8l2 3.8l2.1-3.8l2 3.8l2-3.8l2.1 3.8l2-3.8l2 3.8l2.1-3.8l2 3.8l2.1-3.8l2 3.8l2-3.8l2.1 3.8l2-3.8l2 3.8l2.1-3.8l2 3.8l2-3.8l2.1 3.8l2-3.8l2.1 3.8l2-3.8l2 3.8l2.1-3.8l2 3.8l2-3.8l2.1 3.8l2-3.8l2 3.8l2.1-3.8l2 3.8l2.1-3.8l2 3.8l2-3.8l2.1 3.8l2-3.8l2 3.8l2.1-3.8l2 3.8l2-3.8l2.1 3.8l2-3.8l2.1 3.8l2-3.8l2 3.8l2.1-3.8l2 3.8l2-3.8l2.1 3.8l2-3.8l2 3.8l2.1-3.8l2 3.8l2.1-3.8l2 3.8l2-3.8l2.1 3.8l2-3.8l2 3.8l2.1-3.8l2 3.8l2-3.8l2.1 3.8l2-3.8l2.1 3.8l2-3.8l2 3.8l2.1-3.8l2 3.8l2-3.8l2.1 3.8l2-3.8l2 3.8l2.1-3.8l2 3.8l2.1-3.8l2 3.8l2-3.8l2.1 3.8l2-3.8l2 3.8l2.1-3.8l2 3.8l2-3.8l2.1 3.8l2-3.8l2.1 3.8l2-3.8l2 3.8l2.1-3.8l2 3.8l2-3.8l2.1 3.8l2-3.8l2 3.8l2.1-3.8l2 3.8l2.1-3.8l2 3.8l2-3.8l2.1 3.8l2-3.8l2 3.8l2.1-3.8l2 3.8l2-3.8l2.1 3.8l2-3.8l2.1 3.8l2-3.8l2 3.8l2.1-3.8l2 3.8l2-3.8l2.1 3.8l2-3.8l2 3.8l2.1-3.8l2 3.8l2.1-3.8l2 3.8l2-3.8l2.1 3.8l2-3.8l2 3.8l2.1-3.8l2 3.8l2-3.8l2.1 3.8l2-3.8l2.1 3.8l2-3.8l2 3.8l2.1-3.8l2 3.8l2-3.8l2.1 3.8l2-3.8l2 3.8l2.1-3.8l2 3.8l2.1-3.8l2 3.8l2-3.8l2.1 3.8l2-3.8l2 3.8l2.1-3.8l2 3.8l2-3.8l2.1 3.8l2-3.8l2.1 3.8l2-3.8l2 3.8l2.1-3.8l2 3.8l2-3.8l2.1 3.8l2-3.8l2 3.8l2.1-3.8l2 3.8l2.1-3.8l2 3.8l2-3.8l2.1 3.8l2-3.8l2 3.8l2.1-3.8l2 3.8l2.1-3.8l2 3.8l2-3.8l2.1 3.8l2-3.8l2 3.8l2.1-3.8l2 3.8l2-3.8l1.2 2.3" fill="none" stroke="#ff6b8d" stroke-width="7.2" stroke-linejoin="round"/>
<path d="M296.2 3352.9l1-.4l2.1 .9l2-1l2 1l2.1-1l2 1.1l2-1.1l2.1 1.1l2-1.1l2 1.1l2.1-1.1l2 1.1l2.1-1.1l2 1.1l2-1.2l2.1 1.3l2-1.3l2 1.3l2.1-1.3l2 1.3l2-1.3l2.1 1.3l2-1.3l2.1 1.3l2-1.3l2 1.3l2.1-1.4l2 1.5l2-1.5l2.1 1.5l2-1.5l2 1.5l2.1-1.5l2 1.5l2.1-1.5l2 1.5l2-1.5l2.1 1.5l2-1.6l2 1.7l2.1-1.7l2 1.7l2-1.7l2.1 1.7l2-1.7l2.1 1.7l2-1.7l2 1.7l2.1-1.7l2 1.7l2-1.8l2.1 1.9l2-1.9l2.1 1.9l2-1.9l2 1.9l2.1-1.9l2 1.9l2-1.9l2.1 1.9l2-1.9l2 1.9l2.1-2l2 2.1l2.1-2.1l2 2.1l2-2.1l2.1 2.1l2-2.1l2 2.1l2.1-2.1l2 2.1l2-2.1l2.1 2.1l2-2.2l2.1 2.3l2-2.3l2 2.3l2.1-2.3l2 2.3l2-2.3l2.1 2.3l2-2.3l2 2.3l2.1-2.3l2 2.3l2.1-2.4l2 2.5l2-2.5l2.1 2.5l2-2.5l2 2.5l2.1-2.5l2 2.5l2-2.5l2.1 2.5l2-2.5l2.1 2.5l2-2.6l2 2.7l2.1-2.7l2 2.7l2-2.7l2.1 2.7l2-2.7l2 2.7l2.1-2.7l2 2.7l2.1-2.7l2 2.7l2-2.8l2.1 2.9l2-2.9l2 2.9l2.1-2.9l2 2.9l2-2.9l2.1 2.9l2-2.9l2.1 2.9l2-2.9l2 3l2.1-3.1l2 3.1l2-3.1l2.1 3.1l2-3.1l2 3.1l2.1-3.1l2 3.1l2.1-3.1l2 3.1l2-3.2l2.1 3.3l2-3.3l2 3.3l2.1-3.3l2 3.3l2-3.3l2.1 3.3l2-3.3l2.1 3.3l2-3.3l2 3.3l2.1-3.4l2 3.5l2-3.5l2.1 3.5l2-3.5l2 3.5l2.1-3.5l2 3.5l2.1-3.5l2 3.5l2-3.5l2.1 3.5l2-3.6l2 3.7l2.1-3.7l2 3.7l2-3.7l2.1 3.7l2-3.7l2.1 3.7l2-3.7l2 3.7l2.1-3.7l2 3.7l2-3.8l2.1 3.9l2-3.9l2 3.9l2.1-3.9l2 3.9l2.1-3.9l2 3.9l2-3.9l2.1 3.9l2-3.9l2 3.9l2.1-3.9l2 3.9l2-3.9l2.1 3.9l2-3.9l2.1 3.9l2-3.9l2 3.9l2.1-3.9l2 3.9l2-3.9l2.1 3.9l2-3.9l2 3.9l2.1-3.9l2 3.9l2.1-3.9l2 3.9l2-3.9l2.1 3.9l2-3.9l2 3.9l2.1-3.9l2 3.9l2-3.9l2.1 3.9l2-3.9l2.1 3.9l2-3.9l2 3.9l2.1-3.9l2 3.9l2-3.9l2.1 3.9l2-3.9l2 3.9l2.1-3.9l2 3.9l2.1-3.9l2 3.9l2-3.9l2.1 3.9l2-3.9l2 3.9l2.1-3.9l2 3.9l2-3.9l2.1 3.9l2-3.9l2.1 3.9l2-3.8l2 3.8l2.1-3.8l2 3.8l2-3.8l2.1 3.8l2-3.8l2 3.8l2.1-3.8l2 3.8l2.1-3.8l2 3.8l2-3.8l2.1 3.8l2-3.8l2 3.8l2.1-3.8l2 3.8l2-3.8l2.1 3.8l2-3.8l2.1 3.8l2-3.8l2 3.8l2.1-3.8l2 3.8l2-3.8l2.1 3.8l2-3.8l2 3.8l2.1-3.8l2 3.8l2.1-3.8l2 3.8l2-3.8l2.1 3.8l2-3.8l2 3.8l2.1-3.8l2 3.8l2-3.8l2.1 3.8l2-3.8l2.1 3.8l2-3.8l2 3.8l2.1-3.8l2 3.8l2-3.8l2.1 3.8l2-3.8l2 3.8l2.1-3.8l2 3.8l2.1-3.8l2 3.8l2-3.8l2.1 3.8l2-3.8l2 3.8l2.1-3.8l2 3.8l2-3.8l2.1 3.8l2-3.8l2.1 3.8l2-3.8l2 3.8l2.1-3.8l2 3.8l2-3.8l2.1 3.8l2-3.8l2 3.8l2.1-3.8l2 3.8l2.1-3.8l2 3.8l2-3.8l2.1 3.8l2-3.8l2 3.8l2.1-3.8l2 3.8l2.1-3.8l2 3.8l2-3.8l2.1 3.8l2-3.8l2 3.8l2.1-3.8l2 3.8l2-3.8l2.1 3.8l2-3.8l2.1 3.8l2-3.8l2 3.8l2.1-3.8l2 3.8l2-3.8l2.1 3.8l2-3.8l2 3.8l2.1-3.8l2 3.8l2.1-3.8l2 3.8l2-3.8l2.1 3.8l2-3.8l2 3.8l2.1-3.8l2 3.8l2-3.8l2.1 3.8l2-3.8l2.1 3.8l2-3.8l2 3.8l2.1-3.8l2 3.8l2-3.8l2.1 3.8l2-3.8l2 3.8l2.1-3.8l2 3.8l2.1-3.8l2 3.8l2-3.8l2.1 3.8l2-3.8l2 3.8l2.1-3.8l2 3.8l2-3.8l2.1 3.8l2-3.8l2.1 3.8l2-3.8l2 3.8l2.1-3.8l2 3.8l2-3.8l2.1 3.8l2-3.8l2 3.8l2.1-3.8l2 3.8l2.1-3.8l2 3.8l2-3.8l2.1 3.8l2-3.8l2 3.8l2.1-3.8l2 3.8l2-3.8l2.1 3.8l2-3.8l2.1 3.8l2-3.8l2 3.8l2.1-3.8l2 3.8l2-3.8l2.1 3.8l2-3.8l2 3.8l2.1-3.8l2 3.8l2.1-3.8l2 3.8l2-3.8l2.1 3.9l2-3.9l2 3.9l2.1-3.9l2 3.9l2-3.9l2.1 3.9l2-3.8l2.1 3.8l2-3.8l2 3.8l2.1-3.8l2 3.8l2-3.8l2.1 3.8l2-3.8l2 3.8l2.1-3.8l2 3.8l2.1-3.8l2 3.8l2-3.8l2.1 3.8l2-3.8l2 3.8l2.1-3.8l2 3.8l2-3.8l2.1 3.8l2-3.8l2.1 3.8l2-3.8l2 3.8l2.1-3.8l2 3.8l2-3.8l2.1 3.8l2-3.8l2 3.9l2.1-3.9l2 3.9l2.1-3.8l2 3.8l2-3.8l2.1 3.8l2-3.8l2 3.8l2.1-3.8l2 3.8l2-3.8l2.1 3.8l2-3.8l2.1 3.8l2-3.8l2 3.8l2.1-3.8l2 3.9l2-3.9l2.1 3.9l2-3.8l2 3.8l2.1-3.8l2 3.8l2.1-3.8l2 3.8l2-3.8l2.1 3.8l2-3.8l2 3.9l2.1-3.8l2 3.8l2-3.8l2.1 3.8l2-3.8l2.1 3.8l2-3.7l2 3.8l2.1-3.8l2 3.8l2-3.8l2.1 3.9l2-3.8l2 3.8l2.1-3.8l2 3.9l2.1-3.8l2 3.8l2-3.8l2.1 3.9l2-3.8l2 3.8l2.1-3.7l2 3.8l2-3.8l2.1 3.9l2-3.8l2.1 3.9l2-3.8l2 3.9l2.1-3.7l2 3.9l2-3.8l2.1 3.9l2-3.7l2 3.9l2.1-3.7l2 3.9l2.1-3.7l2 4l2-3.7l2.1 4l2-3.6l2 4l2.1-3.6l2 3.9l2-2.9l2.1 3.8l2-3.8l2.1 5.1l2-3.8l2 3.8l2.1-1.9l2 3.8l2-3.8l2.1 7l2-3.8l2 3.8l2.1 2l2 3.8l2.1 8.3l2 3.8l.6-.7l.2-.5l.2-.7l.2 1.7l.3 .2l.2 .4l.2 .7l.1 .4l.2 .6l.2 1.2l.2 1.5l.2 1.6l.3 1.8l.2 1.8l.2 1.8l.3 1.6l.2 1.5l.1 .5l.1 .9l.3 1.1l.2 1.1l.2 1l.2 1l.3 1.1l.2 1.2l.2 1.6l.3 1.9l0 .4l.2 1.8l.2 2.5l.2 2.9l.3 3.1l.2 3.3l.2 3.5l.3 3.5l.2 3.5l.2 3.4l0 .3l.3 3.2l.2 3.4l.2 3.4l.2 3.6l.3 3.9l.2 4.2l.2 4.6l.3 5.1l.2 5.5l0 .3l.2 6.4l.2 7l.3 7.7l.2 8.3l.2 9l.3 9.4l.2 10l.2 10.6l.2 9.1l.1 2l.2 11.6l.2 12.4l.2 13.1l.3 14l.2 15.1l.2 16.3l.3 17.6l.2 18.9l.1 14.2l.1 6.2l.2 21.8l.3 23.2l.2 24.2l.2 25.2l.3 25.8l.2 26l.2 25.6l.3 24.8l.1 13.5l.1 9.7l.2 21l.2 18.2l.3 14.8l.2 10.8l.2 6.4l.3 1.8l.2-2.8l.2-7.3l.1-4.6l.1-6.8l.3-15.1l.2-18.2l.2-20.7l.3-22.5l.2-23.9l.2-24.6l.3-24.9l.2-25l.1-8l.1-16.6l.2-24l.3-23.2l.2-22.2l.2-21.1l.3-19.9l.2-18.6l.2-17.2l.2-15.9l.1-3.1l.2-11.6l.2-13.3l.2-12.3l.3-11.2l.2-10.3l.2-9.6l.3-9l.2-8.5l.2-8.1l0-.6l.2-7.2l.3-7.5l.2-7.2l.2-6.9l.3-6.5l.2-6.1l.2-5.6l.2-5.2l.3-4.4l0-.2l.2-4.1l.2-3.6l.3-3.2l.2-2.9l.2-2.7l.3-2.5l.2-2.5l.2-2.5l.2-2.1l0-.5l.3-2.6l.2-2.8l.2-2.8l.3-2.8l.2-2.7l.2-2.5l.3-2.3l.2-2l.1-1.3l.1-.4l.2-1.4l.3-1.1l.2-.9l.2-.8l.3-.6l.2-.7l.2-.7l.2-.9l.2-.6l.1-.5l.2-1.3l.2-1.4l.3-1.6l.2-1.6l.2-1.6l.3-1.4l.2-1.2l.2-2.6l.1 0l.1 0l1.9 3.8l2.1-15.9l2 3.8l2.1-3.8l2-2l2-3.8l2.1 3.8l2-7l2 3.8l2.1-3.8l2 1.9l2-3.8l2.1 2.5l2-3.8l2.1 3.8l2-4.7l2 3.8l2.1-4l2 3.6l2-4l2.1 3.6l2-4l2.1 3.7l2-3.9l2 3.7l2.1-4l2 3.7l2-3.9l2.1 3.8l2-3.9l2 3.7l2.1-3.9l2 3.8l2.1-3.9l2 3.8l2-3.9l2.1 3.8l2-3.9l2 3.8l2.1-3.9l2 3.8l2-3.8l2.1 3.7l2-3.8l2.1 3.8l2-3.8l2 3.7l2.1-3.8l2 3.8l2-3.8l2.1 3.7l2-3.8l2 3.8l2.1-3.8l2 3.8l2.1-3.9l2 3.8l2-3.8l2.1 3.8l2-3.8l2 3.8l2.1-3.8l2 3.8l2-3.9l2.1 3.8l2-3.8l2.1 3.8l2-3.8l2 3.8l2.1-3.8l2 3.8l2-3.8l2.1 3.8l2-3.9l2 3.8l2.1-3.8l2 3.8l2.1-3.8l2 3.8l2-3.8l2.1 3.8l2-3.8l2 3.8l2.1-3.8l2 3.8l2-3.8l2.1 3.8l2-3.8l2.1 3.8l2-3.9l2 3.9l2.1-3.9l2 3.8l2-3.8l2.1 3.8l2-3.8l2 3.8l2.1-3.8l2 3.8l2.1-3.8l2 3.8l2-3.8l2.1 3.8l2-3.8l2 3.8l2.1-3.8l2 3.8l2-3.8l2.1 3.8l2-3.8l2.1 3.8l2-3.8l2 3.8l2.1-3.8l2 3.8l2-3.8l2.1 3.8l2-3.8l2 3.8l2.1-3.8l2 3.8l2.1-3.8l2 3.8l2-3.8l2.1 3.8l2-3.9l2 3.9l2.1-3.9l2 3.9l2-3.9l2.1 3.9l2-3.9l2.1 3.8l2-3.8l2 3.8l2.1-3.8l2 3.8l2-3.8l2.1 3.8l2-3.8l2 3.8l2.1-3.8l2 3.8l2.1-3.8l2 3.8l2-3.8l2.1 3.8l2-3.8l2 3.8l2.1-3.8l2 3.8l2-3.8l2.1 3.8l2-3.8l2.1 3.8l2-3.8l2 3.8l2.1-3.8l2 3.8l2-3.8l2.1 3.8l2-3.8l2 3.8l2.1-3.8l2 3.8l2.1-3.8l2 3.8l2-3.8l2.1 3.8l2-3.8l2 3.8l2.1-3.8l2 3.8l2-3.8l2.1 3.8l2-3.8l2.1 3.8l2-3.8l2 3.8l2.1-3.8l2 3.8l2-3.8l2.1 3.8l2-3.8l2 3.8l2.1-3.8l2 3.8l2.1-3.8l2 3.8l2-3.8l2.1 3.8l2-3.8l2 3.8l2.1-3.8l2 3.8l2-3.8l2.1 3.8l2-3.8l2.1 3.8l2-3.8l2 3.8l2.1-3.8l2 3.8l2-3.8l2.1 3.8l2-3.8l2 3.8l2.1-3.8l2 3.8l2.1-3.8l2 3.8l2-3.8l2.1 3.8l2-3.8l2 3.8l2.1-3.8l2 3.8l2-3.8l2.1 3.8l2-3.8l2.1 3.8l2-3.8l2 3.8l2.1-3.8l2 3.8l2-3.8l2.1 3.8l2-3.8l2 3.8l2.1-3.8l2 3.8l2.1-3.8l2 3.8l2-3.8l2.1 3.8l2-3.8l2 3.8l2.1-3.8l2 3.8l2-3.8l2.1 3.8l2-3.8l2.1 3.8l2-3.8l2 3.8l2.1-3.8l2 3.8l2-3.8l2.1 3.8l2-3.8l2 3.8l2.1-3.8l2 3.8l2.1-3.8l2 3.8l2-3.8l2.1 3.8l2-3.8l2 3.8l2.1-3.8l2 3.8l2-3.8l2.1 3.8l2-3.8l2.1 3.8l2-3.8l2 3.8l2.1-3.8l2 3.8l2-3.8l2.1 3.8l2-3.8l2 3.8l2.1-3.8l2 3.8l2.1-3.8l2 3.8l2-3.8l2.1 3.8l2-3.8l2 3.8l2.1-3.8l2 3.8l2.1-3.8l2 3.8l2-3.8l2.1 3.8l2-3.8l2 3.8l2.1-3.8l2 3.8l2-3.8l1.2 2.3" fill="none" stroke="#a8da55" stroke-width="7.2" stroke-linejoin="round"/>
<path d="M296.2 3352.6l1-.5l2.1 1l2-1l2 1l2.1-1l2 1l2-1l2.1 1l2-1l2 1.1l2.1-1.2l2 1.2l2.1-1.2l2 1.2l2-1.2l2.1 1.2l2-1.2l2 1.2l2.1-1.2l2 1.2l2-1.2l2.1 1.3l2-1.4l2.1 1.4l2-1.4l2 1.4l2.1-1.4l2 1.4l2-1.4l2.1 1.4l2-1.4l2 1.4l2.1-1.4l2 1.5l2.1-1.6l2 1.6l2-1.6l2.1 1.6l2-1.6l2 1.6l2.1-1.6l2 1.6l2-1.6l2.1 1.6l2-1.6l2.1 1.7l2-1.8l2 1.8l2.1-1.8l2 1.8l2-1.8l2.1 1.8l2-1.8l2.1 1.8l2-1.8l2 1.8l2.1-1.9l2 2l2-2l2.1 2l2-2l2 2l2.1-2l2 2l2.1-2l2 2l2-2l2.1 2.1l2-2.2l2 2.2l2.1-2.2l2 2.2l2-2.2l2.1 2.2l2-2.2l2.1 2.2l2-2.2l2 2.2l2.1-2.2l2 2.3l2-2.4l2.1 2.4l2-2.4l2 2.4l2.1-2.4l2 2.4l2.1-2.4l2 2.4l2-2.4l2.1 2.4l2-2.4l2 2.5l2.1-2.6l2 2.6l2-2.6l2.1 2.6l2-2.6l2.1 2.6l2-2.6l2 2.6l2.1-2.6l2 2.6l2-2.6l2.1 2.7l2-2.8l2 2.8l2.1-2.8l2 2.8l2.1-2.8l2 2.8l2-2.8l2.1 2.8l2-2.8l2 2.8l2.1-2.8l2 2.9l2-3l2.1 3l2-3l2.1 3l2-3l2 3l2.1-3l2 3l2-3l2.1 3l2-3l2 3.1l2.1-3.2l2 3.2l2.1-3.2l2 3.2l2-3.2l2.1 3.2l2-3.2l2 3.2l2.1-3.2l2 3.2l2-3.2l2.1 3.3l2-3.4l2.1 3.4l2-3.4l2 3.4l2.1-3.4l2 3.4l2-3.4l2.1 3.4l2-3.4l2 3.4l2.1-3.4l2 3.5l2.1-3.6l2 3.6l2-3.6l2.1 3.6l2-3.6l2 3.6l2.1-3.6l2 3.6l2-3.6l2.1 3.6l2-3.6l2.1 3.7l2-3.8l2 3.8l2.1-3.8l2 3.8l2-3.8l2.1 3.8l2-3.8l2 3.8l2.1-3.8l2 3.8l2.1-3.8l2 3.8l2-3.8l2.1 3.8l2-3.8l2 3.8l2.1-3.8l2 3.8l2-3.8l2.1 3.8l2-3.8l2.1 3.8l2-3.8l2 3.8l2.1-3.8l2 3.8l2-3.8l2.1 3.8l2-3.8l2 3.8l2.1-3.8l2 3.8l2.1-3.8l2 3.8l2-3.8l2.1 3.8l2-3.8l2 3.8l2.1-3.8l2 3.8l2-3.8l2.1 3.8l2-3.8l2.1 3.8l2-3.8l2 3.8l2.1-3.8l2 3.8l2-3.8l2.1 3.8l2-3.8l2 3.8l2.1-3.8l2 3.8l2.1-3.8l2 3.8l2-3.8l2.1 3.8l2-3.8l2 3.8l2.1-3.8l2 3.8l2-3.8l2.1 3.8l2-3.8l2.1 3.8l2-3.8l2 3.8l2.1-3.8l2 3.8l2-3.8l2.1 3.8l2-3.8l2 3.8l2.1-3.8l2 3.8l2.1-3.8l2 3.8l2-3.8l2.1 3.8l2-3.8l2 3.8l2.1-3.8l2 3.8l2-3.8l2.1 3.8l2-3.8l2.1 3.8l2-3.8l2 3.8l2.1-3.8l2 3.8l2-3.8l2.1 3.8l2-3.8l2 3.8l2.1-3.8l2 3.8l2.1-3.8l2 3.8l2-3.8l2.1 3.8l2-3.8l2 3.8l2.1-3.8l2 3.8l2-3.8l2.1 3.8l2-3.8l2.1 3.8l2-3.8l2 3.8l2.1-3.8l2 3.8l2-3.8l2.1 3.8l2-3.8l2 3.8l2.1-3.8l2 3.8l2.1-3.8l2 3.8l2-3.8l2.1 3.8l2-3.8l2 3.8l2.1-3.8l2 3.8l2-3.8l2.1 3.8l2-3.8l2.1 3.8l2-3.8l2 3.8l2.1-3.8l2 3.8l2-3.8l2.1 3.8l2-3.8l2 3.8l2.1-3.8l2 3.8l2.1-3.8l2 3.8l2-3.8l2.1 3.8l2-3.8l2 3.8l2.1-3.8l2 3.8l2.1-3.8l2 3.8l2-3.8l2.1 3.8l2-3.8l2 3.8l2.1-3.8l2 3.8l2-3.8l2.1 3.8l2-3.8l2.1 3.8l2-3.8l2 3.8l2.1-3.8l2 3.8l2-3.8l2.1 3.8l2-3.8l2 3.8l2.1-3.8l2 3.8l2.1-3.8l2 3.8l2-3.8l2.1 3.8l2-3.8l2 3.8l2.1-3.8l2 3.8l2-3.8l2.1 3.8l2-3.8l2.1 3.8l2-3.8l2 3.8l2.1-3.8l2 3.8l2-3.8l2.1 3.8l2-3.8l2 3.8l2.1-3.8l2 3.8l2.1-3.8l2 3.8l2-3.8l2.1 3.8l2-3.8l2 3.8l2.1-3.8l2 3.8l2-3.8l2.1 3.8l2-3.8l2.1 3.8l2-3.8l2 3.8l2.1-3.8l2 3.8l2-3.8l2.1 3.8l2-3.8l2 3.8l2.1-3.8l2 3.8l2.1-3.8l2 3.8l2-3.8l2.1 3.8l2-3.8l2 3.8l2.1-3.8l2 3.8l2-3.8l2.1 3.8l2-3.8l2.1 3.8l2-3.8l2 3.8l2.1-3.8l2 3.8l2-3.8l2.1 3.8l2-3.8l2 3.8l2.1-3.8l2 3.8l2.1-3.8l2 3.8l2-3.8l2.1 3.8l2-3.8l2 3.8l2.1-3.8l2 3.8l2-3.8l2.1 3.8l2-3.8l2.1 3.8l2-3.8l2 3.8l2.1-3.8l2 3.8l2-3.8l2.1 3.8l2-3.8l2 3.8l2.1-3.8l2 3.8l2.1-3.8l2 3.8l2-3.8l2.1 3.8l2-3.8l2 3.8l2.1-3.8l2 3.8l2-3.8l2.1 3.8l2-3.8l2.1 3.8l2-3.8l2 3.8l2.1-3.8l2 3.8l2-3.8l2.1 3.8l2-3.8l2 3.8l2.1-3.8l2 3.8l2.1-3.8l2 3.8l2-3.8l2.1 3.8l2-3.8l2 3.8l2.1-3.8l2 3.8l2-3.8l2.1 3.8l2-3.8l2.1 3.8l2-3.8l2 3.9l2.1-3.9l2 3.9l2-3.9l2.1 3.9l2-3.9l2 3.9l2.1-3.9l2 3.9l2.1-3.9l2 3.9l2-3.9l2.1 3.9l2-3.9l2 3.9l2.1-3.9l2 3.9l2-3.9l2.1 3.9l2-3.9l2.1 3.9l2-3.9l2 3.9l2.1-3.9l2 3.9l2-3.8l2.1 3.8l2-3.8l2 3.8l2.1-3.8l2 3.8l2.1-3.8l2 3.8l2-3.8l2.1 3.8l2-3.8l2 3.8l2.1-3.8l2 3.8l2-3.8l2.1 3.8l2-3.8l2.1 3.8l2-3.8l2 3.8l2.1-3.8l2 3.8l2-3.8l2.1 3.8l2-3.8l2 3.8l2.1-3.8l2 3.8l2.1-3.8l2 3.8l2-3.8l2.1 3.8l2-3.8l2 3.8l2.1-3.8l2 3.8l2-3.8l2.1 3.8l2-3.8l2.1 3.8l2-3.8l2 3.8l2.1-3.8l2 3.8l2-3.8l2.1 3.8l2-3.8l2 3.8l2.1-3.8l2 3.8l2.1-3.8l2 3.8l2-3.8l2.1 3.8l2-3.8l2 3.8l2.1-3.8l2 3.8l2-3.8l2.1 3.8l2-3.8l2.1 3.8l2-3.8l2 3.8l2.1-3.8l2 3.8l2-3.8l2.1 3.8l2-3.8l2 3.9l2.1-3.9l2 3.9l2.1-3.9l2 3.9l2-3.8l2.1 3.8l2-3.8l2 3.8l2.1-3.8l2 3.8l2-3.8l2.1 3.8l2-3.8l2.1 3.8l2-3.8l2 3.8l2.1-3.8l2 3.8l2-3.8l2.1 3.8l2-3.8l2.1 3.8l2-3.8l2 3.8l2.1-3.8l2 3.8l2-3.8l2.1 3.9l2-3.9l2 3.9l2.1-3.8l2 3.8l2.1-3.8l2 3.8l2-3.8l2.1 3.8l2-3.8l2 3.8l2.1-3.8l2 3.8l2-3.8l2.1 3.8l2-3.8l2.1 3.9l2-3.8l2 3.8l2.1-3.8l2 3.8l2-3.8l2.1 3.8l2-3.8l2 3.9l2.1-3.8l2 3.8l2.1-3.8l2 3.8l2-3.8l2.1 3.8l2-3.7l2 3.8l2.1-3.8l2 3.8l2-3.8l2.1 3.9l2-3.8l2.1 3.8l2-3.8l2 3.9l2.1-3.8l2 3.8l2-3.7l2.1 3.8l2-3.8l2 3.9l2.1-3.8l2 3.9l2.1-3.8l2 3.9l2-3.8l2.1 3.9l2-3.7l2 3.8l2.1-3.7l2 3.9l2-3.7l2.1 3.9l2-3.7l2.1 3.9l2-3.6l2 3.9l2.1-3.6l2 4l2-3.7l2.1 4.1l2-3.7l2 3.8l2.1-2.9l2 3.8l2.1-2.6l2 3.8l2-3.8l2.1 5.7l2-3.8l2 3.8l2.1-.7l2 3.8l2-3.8l2.1 9.4l2-3.8l2.1 3.8l2 7.9l1.1 2.3l.3 .6l.2 .5l.2 2.5l.2 .8l.1 .1l.2 .7l.2 .4l.3 .4l.2 .3l.2 .3l.2 .4l.3 .5l.2 .8l.2 .8l0 .3l.3 1.4l.2 1.7l.2 1.8l.2 2l.3 2.1l.2 2.1l.2 2l.3 1.9l.1 1l.1 .7l.2 1.6l.3 1.4l.2 1.4l.2 1.5l.2 1.5l.3 1.7l.2 2l.2 2.4l.1 1.1l.2 1.6l.2 3.1l.2 3.4l.2 3.8l.3 4l.2 4.3l.2 4.3l.3 4.4l.2 4.5l.1 1.4l.1 3l.3 4.5l.2 4.7l.2 4.8l.2 5.1l.3 5.4l.2 6l.2 6.6l.3 7.2l0 1.6l.2 6.4l.2 8.7l.3 9.4l.2 10.1l.2 10.8l.2 11.3l.3 11.9l.2 12.4l.2 12.8l0 1l.3 12.2l.2 13.7l.2 14.1l.2 14.5l.3 15l.2 15.3l.2 15.7l.3 16l.2 15.1l0 .8l.2 15.7l.3 15.3l.2 14.3l.2 13.1l.2 11.4l.3 9.3l.2 7l.2 4.2l.2 1.4l.1 0l.2-1.5l.2-4.3l.2-7l.3-9.3l.2-11.4l.2-13.1l.3-14.3l.2-15.1l.2-10.9l0-4.8l.3-15.8l.2-15.9l.2-15.6l.2-15.4l.3-14.9l.2-14.6l.2-14.2l.3-13.7l.1-7.7l.1-5.6l.2-12.9l.2-12.5l.3-11.9l.2-11.4l.2-10.7l.3-10.1l.2-9.4l.2-8.6l.1-3.6l.2-4.2l.2-7.2l.2-6.5l.2-5.9l.3-5.5l.2-5.1l.2-4.8l.3-4.7l.2-4.6l.1-1.5l.1-3.1l.2-4.5l.3-4.5l.2-4.4l.2-4.2l.3-4l.2-3.8l.2-3.3l.3-3.1l0-.5l.2-2.1l.2-2.2l.2-2l.3-1.7l.2-1.5l.2-1.4l.3-1.5l.2-1.5l.2-1.7l0-.1l.2-1.7l.3-2l.2-2l.2-2.1l.3-2.1l.2-2l.2-1.8l.3-1.6l.2-1.2l0-.1l.2-1l.2-.7l.3-.5l.2-.4l.2-.3l.3-.3l.2-.4l.2-.5l.2-.7l0-.1l.3-.9l.2-2.6l.2-.6l1.3-2.7l2.1-7.9l2-3.8l2.1 3.8l2-9.4l2 3.8l2.1-3.8l2 .7l2-3.8l2.1 3.8l2-5.7l2 3.8l2.1-3.8l2 2.6l2.1-3.8l2 2.9l2-3.8l2.1 3.7l2-4l2 3.6l2.1-4l2 3.6l2-3.9l2.1 3.6l2-3.9l2.1 3.7l2-3.9l2 3.7l2.1-3.9l2 3.8l2-3.9l2.1 3.7l2-3.9l2 3.8l2.1-3.9l2 3.8l2.1-3.9l2 3.8l2-3.9l2.1 3.8l2-3.8l2 3.7l2.1-3.8l2 3.8l2-3.9l2.1 3.8l2-3.8l2.1 3.8l2-3.9l2 3.8l2.1-3.8l2 3.8l2-3.8l2.1 3.7l2-3.8l2 3.8l2.1-3.8l2 3.8l2.1-3.8l2 3.8l2-3.9l2.1 3.8l2-3.8l2 3.8l2.1-3.8l2 3.8l2-3.8l2.1 3.8l2-3.9l2.1 3.8l2-3.8l2 3.8l2.1-3.8l2 3.8l2-3.8l2.1 3.8l2-3.8l2 3.8l2.1-3.8l2 3.8l2.1-3.8l2 3.8l2-3.9l2.1 3.9l2-3.9l2 3.8l2.1-3.8l2 3.8l2-3.8l2.1 3.8l2-3.8l2.1 3.8l2-3.8l2 3.8l2.1-3.8l2 3.8l2-3.8l2.1 3.8l2-3.8l2 3.8l2.1-3.8l2 3.8l2.1-3.8l2 3.8l2-3.8l2.1 3.8l2-3.8l2 3.8l2.1-3.9l2 3.9l2-3.9l2.1 3.9l2-3.9l2.1 3.8l2-3.8l2 3.8l2.1-3.8l2 3.8l2-3.8l2.1 3.8l2-3.8l2 3.8l2.1-3.8l2 3.8l2.1-3.8l2 3.8l2-3.8l2.1 3.8l2-3.8l2 3.8l2.1-3.8l2 3.8l2-3.8l2.1 3.8l2-3.8l2.1 3.8l2-3.8l2 3.8l2.1-3.8l2 3.8l2-3.8l2.1 3.8l2-3.8l2 3.8l2.1-3.8l2 3.8l2.1-3.8l2 3.8l2-3.8l2.1 3.8l2-3.8l2 3.8l2.1-3.8l2 3.8l2.1-3.8l2 3.8l2-3.8l2.1 3.8l2-3.8l2 3.8l2.1-3.8l2 3.8l2-3.8l1.2 2.3" fill="none" stroke="#f25f6c" stroke-width="7.2" stroke-linejoin="round"/>
<text x="269" y="4494.2" font-size="82" text-anchor="end" fill="#262626">0</text>
<text x="267.5" y="4269.9" font-size="82" text-anchor="end" fill="#262626">0.2</text>
<text x="267.5" y="4045.6" font-size="82" text-anchor="end" fill="#262626">0.4</text>
<text x="267.5" y="3821.4" font-size="82" text-anchor="end" fill="#262626">0.6</text>
<text x="267.5" y="3597.1" font-size="82" text-anchor="end" fill="#262626">0.8</text>
<text x="266" y="3372.8" font-size="82" text-anchor="end" fill="#262626">1</text>
<text x="296.7" y="4677" font-size="82" text-anchor="middle" fill="#262626">1500</text>
<text x="583.5" y="4677" font-size="82" text-anchor="middle" fill="#262626">1550</text>
<text x="870.3" y="4677" font-size="82" text-anchor="middle" fill="#262626">1600</text>
<text x="1157.1" y="4677" font-size="82" text-anchor="middle" fill="#262626">1650</text>
<text x="1444" y="4677" font-size="82" text-anchor="middle" fill="#262626">1700</text>
<text x="1730.8" y="4677" font-size="82" text-anchor="middle" fill="#262626">1750</text>
<text x="2017.6" y="4677" font-size="82" text-anchor="middle" fill="#262626">1800</text>
<text x="1157.5" y="4775.5" font-size="82" text-anchor="middle" fill="#262626">Wavelength (nm)</text>
<text x="135" y="3949" font-size="82" text-anchor="middle" fill="#262626" transform="rotate(-90 135 3949)">Reflection</text>
<text x="450.7" y="3516.5" font-size="93" text-anchor="middle" fill="#000">(c)</text>
<rect x="370.6" y="4203.3" width="854.6" height="252.2" fill="#fff" stroke="#262626" stroke-width="7"/>
<line x1="386" y1="4270.4" x2="538" y2="4270.4" stroke="#a869e2" stroke-width="7"/>
<text x="551.8" y="4315.9" font-size="82" fill="#000">0<tspan dy="-40.2" font-size="65.6">o</tspan></text>
<line x1="657" y1="4270.4" x2="809" y2="4270.4" stroke="#1ca991" stroke-width="7"/>
<text x="825" y="4315.9" font-size="82" fill="#000">2<tspan dy="-40.2" font-size="65.6">o</tspan></text>
<line x1="927.7" y1="4270.4" x2="1079.7" y2="4270.4" stroke="#6c9ef8" stroke-width="7"/>
<text x="1096" y="4315.9" font-size="82" fill="#000">4<tspan dy="-40.2" font-size="65.6">o</tspan></text>
<line x1="386" y1="4391" x2="538" y2="4391" stroke="#ff6b8d" stroke-width="7"/>
<text x="551.8" y="4436.5" font-size="82" fill="#000">6<tspan dy="-40.2" font-size="65.6">o</tspan></text>
<line x1="657" y1="4391" x2="809" y2="4391" stroke="#a8da55" stroke-width="7"/>
<text x="825" y="4436.5" font-size="82" fill="#000">8<tspan dy="-40.2" font-size="65.6">o</tspan></text>
<line x1="927.7" y1="4391" x2="1079.7" y2="4391" stroke="#f25f6c" stroke-width="7"/>
<text x="1096" y="4436.5" font-size="82" fill="#000">10<tspan dy="-40.2" font-size="65.6">o</tspan></text>
<rect x="1437" y="4037" width="458.6" height="359.7" fill="#fff"/>
<line x1="1666.3" y1="4396.7" x2="1666.3" y2="4387.7" stroke="#262626" stroke-width="6"/>
<line x1="1666.3" y1="4037" x2="1666.3" y2="4046" stroke="#262626" stroke-width="6"/>
<line x1="1437" y1="4357.5" x2="1446" y2="4357.5" stroke="#262626" stroke-width="6"/>
<line x1="1895.6" y1="4357.5" x2="1886.6" y2="4357.5" stroke="#262626" stroke-width="6"/>
<line x1="1437" y1="4197" x2="1446" y2="4197" stroke="#262626" stroke-width="6"/>
<line x1="1895.6" y1="4197" x2="1886.6" y2="4197" stroke="#262626" stroke-width="6"/>
<rect x="1437" y="4037" width="458.6" height="359.7" fill="none" stroke="#262626" stroke-width="7"/>
<polyline points="1437,4357.5 1528.7,4082.2 1620.4,4079.8 1712.2,4085.5 1803.9,4117.6 1895.6,4186.1" fill="none" stroke="#0072bd" stroke-width="6.3" stroke-linejoin="round"/>
<circle cx="1437" cy="4357.5" r="14" fill="none" stroke="#d95319" stroke-width="6"/>
<circle cx="1528.7" cy="4082.2" r="14" fill="none" stroke="#d95319" stroke-width="6"/>
<circle cx="1620.4" cy="4079.8" r="14" fill="none" stroke="#d95319" stroke-width="6"/>
<circle cx="1712.2" cy="4085.5" r="14" fill="none" stroke="#d95319" stroke-width="6"/>
<circle cx="1803.9" cy="4117.6" r="14" fill="none" stroke="#d95319" stroke-width="6"/>
<circle cx="1895.6" cy="4186.1" r="14" fill="none" stroke="#d95319" stroke-width="6"/>
<text x="1413" y="4377" font-size="58.5" text-anchor="end" fill="#262626">0</text>
<text x="1413" y="4216.5" font-size="58.5" text-anchor="end" fill="#262626">0.2</text>
<text x="1413" y="4056" font-size="58.5" text-anchor="end" fill="#262626">0.4</text>
<text x="1437" y="4473.5" font-size="58.5" text-anchor="middle" fill="#262626">0</text>
<text x="1666.3" y="4473.5" font-size="58.5" text-anchor="middle" fill="#262626">5</text>
<text x="1895.6" y="4473.5" font-size="58.5" text-anchor="middle" fill="#262626">10</text>
<text x="1666" y="4543" font-size="58.5" text-anchor="middle" fill="#262626">Angle of incidence (deg)</text>
<text x="1314.3" y="4218" font-size="58.5" text-anchor="middle" fill="#262626" transform="rotate(-90 1314.3 4218)">CR/FWHM (/nm)</text>
</svg>
</body></html>
